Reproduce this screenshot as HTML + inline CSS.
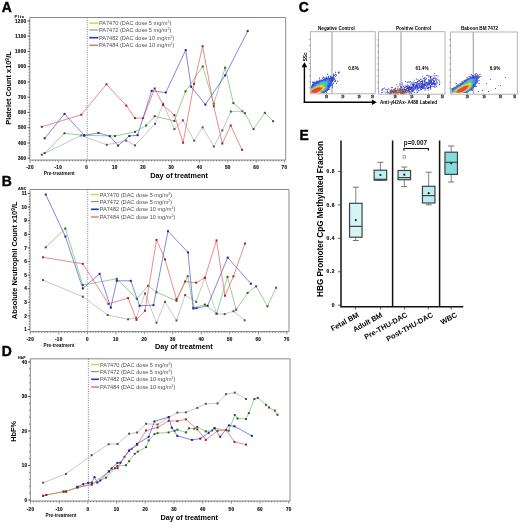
<!DOCTYPE html>
<html><head><meta charset="utf-8"><style>
html,body{margin:0;padding:0;background:#fff;}
body{width:520px;height:523px;overflow:hidden;font-family:"Liberation Sans", sans-serif;}
svg{display:block;will-change:transform;}
</style></head><body>
<svg width="520" height="523" viewBox="0 0 520 523" font-family='"Liberation Sans", sans-serif'>
<rect width="520" height="523" fill="#fff"/>
<text x="1.80" y="12.10" font-size="13.9" font-weight="bold" text-anchor="start" fill="#000" stroke="#000" stroke-width="0.4">A</text>
<path d="M29.8,17.5 H285.7 V160.0" fill="none" stroke="#8a8a8a" stroke-width="1"/>
<line x1="29.8" y1="17.5" x2="29.8" y2="160.0" stroke="#8a8a8a" stroke-width="1"/>
<line x1="29.8" y1="160.0" x2="285.7" y2="160.0" stroke="#8a8a8a" stroke-width="1"/>
<line x1="30.00" y1="160.0" x2="30.00" y2="162.6" stroke="#555" stroke-width="0.7"/>
<line x1="32.83" y1="160.0" x2="32.83" y2="161.3" stroke="#555" stroke-width="0.7"/>
<line x1="35.65" y1="160.0" x2="35.65" y2="161.3" stroke="#555" stroke-width="0.7"/>
<line x1="38.48" y1="160.0" x2="38.48" y2="161.3" stroke="#555" stroke-width="0.7"/>
<line x1="41.31" y1="160.0" x2="41.31" y2="161.3" stroke="#555" stroke-width="0.7"/>
<line x1="44.13" y1="160.0" x2="44.13" y2="161.3" stroke="#555" stroke-width="0.7"/>
<line x1="46.96" y1="160.0" x2="46.96" y2="161.3" stroke="#555" stroke-width="0.7"/>
<line x1="49.79" y1="160.0" x2="49.79" y2="161.3" stroke="#555" stroke-width="0.7"/>
<line x1="52.62" y1="160.0" x2="52.62" y2="161.3" stroke="#555" stroke-width="0.7"/>
<line x1="55.44" y1="160.0" x2="55.44" y2="161.3" stroke="#555" stroke-width="0.7"/>
<line x1="58.27" y1="160.0" x2="58.27" y2="162.6" stroke="#555" stroke-width="0.7"/>
<line x1="61.10" y1="160.0" x2="61.10" y2="161.3" stroke="#555" stroke-width="0.7"/>
<line x1="63.92" y1="160.0" x2="63.92" y2="161.3" stroke="#555" stroke-width="0.7"/>
<line x1="66.75" y1="160.0" x2="66.75" y2="161.3" stroke="#555" stroke-width="0.7"/>
<line x1="69.58" y1="160.0" x2="69.58" y2="161.3" stroke="#555" stroke-width="0.7"/>
<line x1="72.41" y1="160.0" x2="72.41" y2="161.3" stroke="#555" stroke-width="0.7"/>
<line x1="75.23" y1="160.0" x2="75.23" y2="161.3" stroke="#555" stroke-width="0.7"/>
<line x1="78.06" y1="160.0" x2="78.06" y2="161.3" stroke="#555" stroke-width="0.7"/>
<line x1="80.89" y1="160.0" x2="80.89" y2="161.3" stroke="#555" stroke-width="0.7"/>
<line x1="83.71" y1="160.0" x2="83.71" y2="161.3" stroke="#555" stroke-width="0.7"/>
<line x1="86.54" y1="160.0" x2="86.54" y2="162.6" stroke="#555" stroke-width="0.7"/>
<line x1="89.37" y1="160.0" x2="89.37" y2="161.3" stroke="#555" stroke-width="0.7"/>
<line x1="92.19" y1="160.0" x2="92.19" y2="161.3" stroke="#555" stroke-width="0.7"/>
<line x1="95.02" y1="160.0" x2="95.02" y2="161.3" stroke="#555" stroke-width="0.7"/>
<line x1="97.85" y1="160.0" x2="97.85" y2="161.3" stroke="#555" stroke-width="0.7"/>
<line x1="100.67" y1="160.0" x2="100.67" y2="161.3" stroke="#555" stroke-width="0.7"/>
<line x1="103.50" y1="160.0" x2="103.50" y2="161.3" stroke="#555" stroke-width="0.7"/>
<line x1="106.33" y1="160.0" x2="106.33" y2="161.3" stroke="#555" stroke-width="0.7"/>
<line x1="109.16" y1="160.0" x2="109.16" y2="161.3" stroke="#555" stroke-width="0.7"/>
<line x1="111.98" y1="160.0" x2="111.98" y2="161.3" stroke="#555" stroke-width="0.7"/>
<line x1="114.81" y1="160.0" x2="114.81" y2="162.6" stroke="#555" stroke-width="0.7"/>
<line x1="117.64" y1="160.0" x2="117.64" y2="161.3" stroke="#555" stroke-width="0.7"/>
<line x1="120.46" y1="160.0" x2="120.46" y2="161.3" stroke="#555" stroke-width="0.7"/>
<line x1="123.29" y1="160.0" x2="123.29" y2="161.3" stroke="#555" stroke-width="0.7"/>
<line x1="126.12" y1="160.0" x2="126.12" y2="161.3" stroke="#555" stroke-width="0.7"/>
<line x1="128.94" y1="160.0" x2="128.94" y2="161.3" stroke="#555" stroke-width="0.7"/>
<line x1="131.77" y1="160.0" x2="131.77" y2="161.3" stroke="#555" stroke-width="0.7"/>
<line x1="134.60" y1="160.0" x2="134.60" y2="161.3" stroke="#555" stroke-width="0.7"/>
<line x1="137.43" y1="160.0" x2="137.43" y2="161.3" stroke="#555" stroke-width="0.7"/>
<line x1="140.25" y1="160.0" x2="140.25" y2="161.3" stroke="#555" stroke-width="0.7"/>
<line x1="143.08" y1="160.0" x2="143.08" y2="162.6" stroke="#555" stroke-width="0.7"/>
<line x1="145.91" y1="160.0" x2="145.91" y2="161.3" stroke="#555" stroke-width="0.7"/>
<line x1="148.73" y1="160.0" x2="148.73" y2="161.3" stroke="#555" stroke-width="0.7"/>
<line x1="151.56" y1="160.0" x2="151.56" y2="161.3" stroke="#555" stroke-width="0.7"/>
<line x1="154.39" y1="160.0" x2="154.39" y2="161.3" stroke="#555" stroke-width="0.7"/>
<line x1="157.22" y1="160.0" x2="157.22" y2="161.3" stroke="#555" stroke-width="0.7"/>
<line x1="160.04" y1="160.0" x2="160.04" y2="161.3" stroke="#555" stroke-width="0.7"/>
<line x1="162.87" y1="160.0" x2="162.87" y2="161.3" stroke="#555" stroke-width="0.7"/>
<line x1="165.70" y1="160.0" x2="165.70" y2="161.3" stroke="#555" stroke-width="0.7"/>
<line x1="168.52" y1="160.0" x2="168.52" y2="161.3" stroke="#555" stroke-width="0.7"/>
<line x1="171.35" y1="160.0" x2="171.35" y2="162.6" stroke="#555" stroke-width="0.7"/>
<line x1="174.18" y1="160.0" x2="174.18" y2="161.3" stroke="#555" stroke-width="0.7"/>
<line x1="177.00" y1="160.0" x2="177.00" y2="161.3" stroke="#555" stroke-width="0.7"/>
<line x1="179.83" y1="160.0" x2="179.83" y2="161.3" stroke="#555" stroke-width="0.7"/>
<line x1="182.66" y1="160.0" x2="182.66" y2="161.3" stroke="#555" stroke-width="0.7"/>
<line x1="185.48" y1="160.0" x2="185.48" y2="161.3" stroke="#555" stroke-width="0.7"/>
<line x1="188.31" y1="160.0" x2="188.31" y2="161.3" stroke="#555" stroke-width="0.7"/>
<line x1="191.14" y1="160.0" x2="191.14" y2="161.3" stroke="#555" stroke-width="0.7"/>
<line x1="193.97" y1="160.0" x2="193.97" y2="161.3" stroke="#555" stroke-width="0.7"/>
<line x1="196.79" y1="160.0" x2="196.79" y2="161.3" stroke="#555" stroke-width="0.7"/>
<line x1="199.62" y1="160.0" x2="199.62" y2="162.6" stroke="#555" stroke-width="0.7"/>
<line x1="202.45" y1="160.0" x2="202.45" y2="161.3" stroke="#555" stroke-width="0.7"/>
<line x1="205.27" y1="160.0" x2="205.27" y2="161.3" stroke="#555" stroke-width="0.7"/>
<line x1="208.10" y1="160.0" x2="208.10" y2="161.3" stroke="#555" stroke-width="0.7"/>
<line x1="210.93" y1="160.0" x2="210.93" y2="161.3" stroke="#555" stroke-width="0.7"/>
<line x1="213.75" y1="160.0" x2="213.75" y2="161.3" stroke="#555" stroke-width="0.7"/>
<line x1="216.58" y1="160.0" x2="216.58" y2="161.3" stroke="#555" stroke-width="0.7"/>
<line x1="219.41" y1="160.0" x2="219.41" y2="161.3" stroke="#555" stroke-width="0.7"/>
<line x1="222.24" y1="160.0" x2="222.24" y2="161.3" stroke="#555" stroke-width="0.7"/>
<line x1="225.06" y1="160.0" x2="225.06" y2="161.3" stroke="#555" stroke-width="0.7"/>
<line x1="227.89" y1="160.0" x2="227.89" y2="162.6" stroke="#555" stroke-width="0.7"/>
<line x1="230.72" y1="160.0" x2="230.72" y2="161.3" stroke="#555" stroke-width="0.7"/>
<line x1="233.54" y1="160.0" x2="233.54" y2="161.3" stroke="#555" stroke-width="0.7"/>
<line x1="236.37" y1="160.0" x2="236.37" y2="161.3" stroke="#555" stroke-width="0.7"/>
<line x1="239.20" y1="160.0" x2="239.20" y2="161.3" stroke="#555" stroke-width="0.7"/>
<line x1="242.03" y1="160.0" x2="242.03" y2="161.3" stroke="#555" stroke-width="0.7"/>
<line x1="244.85" y1="160.0" x2="244.85" y2="161.3" stroke="#555" stroke-width="0.7"/>
<line x1="247.68" y1="160.0" x2="247.68" y2="161.3" stroke="#555" stroke-width="0.7"/>
<line x1="250.51" y1="160.0" x2="250.51" y2="161.3" stroke="#555" stroke-width="0.7"/>
<line x1="253.33" y1="160.0" x2="253.33" y2="161.3" stroke="#555" stroke-width="0.7"/>
<line x1="256.16" y1="160.0" x2="256.16" y2="162.6" stroke="#555" stroke-width="0.7"/>
<line x1="258.99" y1="160.0" x2="258.99" y2="161.3" stroke="#555" stroke-width="0.7"/>
<line x1="261.81" y1="160.0" x2="261.81" y2="161.3" stroke="#555" stroke-width="0.7"/>
<line x1="264.64" y1="160.0" x2="264.64" y2="161.3" stroke="#555" stroke-width="0.7"/>
<line x1="267.47" y1="160.0" x2="267.47" y2="161.3" stroke="#555" stroke-width="0.7"/>
<line x1="270.29" y1="160.0" x2="270.29" y2="161.3" stroke="#555" stroke-width="0.7"/>
<line x1="273.12" y1="160.0" x2="273.12" y2="161.3" stroke="#555" stroke-width="0.7"/>
<line x1="275.95" y1="160.0" x2="275.95" y2="161.3" stroke="#555" stroke-width="0.7"/>
<line x1="278.78" y1="160.0" x2="278.78" y2="161.3" stroke="#555" stroke-width="0.7"/>
<line x1="281.60" y1="160.0" x2="281.60" y2="161.3" stroke="#555" stroke-width="0.7"/>
<line x1="284.43" y1="160.0" x2="284.43" y2="162.6" stroke="#555" stroke-width="0.7"/>
<line x1="28.5" y1="158.20" x2="29.8" y2="158.20" stroke="#555" stroke-width="0.7"/>
<line x1="28.5" y1="155.15" x2="29.8" y2="155.15" stroke="#555" stroke-width="0.7"/>
<line x1="28.5" y1="152.10" x2="29.8" y2="152.10" stroke="#555" stroke-width="0.7"/>
<line x1="28.5" y1="149.05" x2="29.8" y2="149.05" stroke="#555" stroke-width="0.7"/>
<line x1="28.5" y1="146.00" x2="29.8" y2="146.00" stroke="#555" stroke-width="0.7"/>
<line x1="28.5" y1="142.95" x2="29.8" y2="142.95" stroke="#555" stroke-width="0.7"/>
<line x1="28.5" y1="139.90" x2="29.8" y2="139.90" stroke="#555" stroke-width="0.7"/>
<line x1="28.5" y1="136.85" x2="29.8" y2="136.85" stroke="#555" stroke-width="0.7"/>
<line x1="28.5" y1="133.80" x2="29.8" y2="133.80" stroke="#555" stroke-width="0.7"/>
<line x1="28.5" y1="130.75" x2="29.8" y2="130.75" stroke="#555" stroke-width="0.7"/>
<line x1="28.5" y1="127.70" x2="29.8" y2="127.70" stroke="#555" stroke-width="0.7"/>
<line x1="28.5" y1="124.65" x2="29.8" y2="124.65" stroke="#555" stroke-width="0.7"/>
<line x1="28.5" y1="121.60" x2="29.8" y2="121.60" stroke="#555" stroke-width="0.7"/>
<line x1="28.5" y1="118.55" x2="29.8" y2="118.55" stroke="#555" stroke-width="0.7"/>
<line x1="28.5" y1="115.50" x2="29.8" y2="115.50" stroke="#555" stroke-width="0.7"/>
<line x1="28.5" y1="112.45" x2="29.8" y2="112.45" stroke="#555" stroke-width="0.7"/>
<line x1="28.5" y1="109.40" x2="29.8" y2="109.40" stroke="#555" stroke-width="0.7"/>
<line x1="28.5" y1="106.35" x2="29.8" y2="106.35" stroke="#555" stroke-width="0.7"/>
<line x1="28.5" y1="103.30" x2="29.8" y2="103.30" stroke="#555" stroke-width="0.7"/>
<line x1="28.5" y1="100.25" x2="29.8" y2="100.25" stroke="#555" stroke-width="0.7"/>
<line x1="28.5" y1="97.20" x2="29.8" y2="97.20" stroke="#555" stroke-width="0.7"/>
<line x1="28.5" y1="94.15" x2="29.8" y2="94.15" stroke="#555" stroke-width="0.7"/>
<line x1="28.5" y1="91.10" x2="29.8" y2="91.10" stroke="#555" stroke-width="0.7"/>
<line x1="28.5" y1="88.05" x2="29.8" y2="88.05" stroke="#555" stroke-width="0.7"/>
<line x1="28.5" y1="85.00" x2="29.8" y2="85.00" stroke="#555" stroke-width="0.7"/>
<line x1="28.5" y1="81.95" x2="29.8" y2="81.95" stroke="#555" stroke-width="0.7"/>
<line x1="28.5" y1="78.90" x2="29.8" y2="78.90" stroke="#555" stroke-width="0.7"/>
<line x1="28.5" y1="75.85" x2="29.8" y2="75.85" stroke="#555" stroke-width="0.7"/>
<line x1="28.5" y1="72.80" x2="29.8" y2="72.80" stroke="#555" stroke-width="0.7"/>
<line x1="28.5" y1="69.75" x2="29.8" y2="69.75" stroke="#555" stroke-width="0.7"/>
<line x1="28.5" y1="66.70" x2="29.8" y2="66.70" stroke="#555" stroke-width="0.7"/>
<line x1="28.5" y1="63.65" x2="29.8" y2="63.65" stroke="#555" stroke-width="0.7"/>
<line x1="28.5" y1="60.60" x2="29.8" y2="60.60" stroke="#555" stroke-width="0.7"/>
<line x1="28.5" y1="57.55" x2="29.8" y2="57.55" stroke="#555" stroke-width="0.7"/>
<line x1="28.5" y1="54.50" x2="29.8" y2="54.50" stroke="#555" stroke-width="0.7"/>
<line x1="28.5" y1="51.45" x2="29.8" y2="51.45" stroke="#555" stroke-width="0.7"/>
<line x1="28.5" y1="48.40" x2="29.8" y2="48.40" stroke="#555" stroke-width="0.7"/>
<line x1="28.5" y1="45.35" x2="29.8" y2="45.35" stroke="#555" stroke-width="0.7"/>
<line x1="28.5" y1="42.30" x2="29.8" y2="42.30" stroke="#555" stroke-width="0.7"/>
<line x1="28.5" y1="39.25" x2="29.8" y2="39.25" stroke="#555" stroke-width="0.7"/>
<line x1="28.5" y1="36.20" x2="29.8" y2="36.20" stroke="#555" stroke-width="0.7"/>
<line x1="28.5" y1="33.15" x2="29.8" y2="33.15" stroke="#555" stroke-width="0.7"/>
<line x1="28.5" y1="30.10" x2="29.8" y2="30.10" stroke="#555" stroke-width="0.7"/>
<line x1="28.5" y1="27.05" x2="29.8" y2="27.05" stroke="#555" stroke-width="0.7"/>
<line x1="28.5" y1="24.00" x2="29.8" y2="24.00" stroke="#555" stroke-width="0.7"/>
<line x1="28.5" y1="20.95" x2="29.8" y2="20.95" stroke="#555" stroke-width="0.7"/>
<line x1="27.400000000000002" y1="158.20" x2="29.8" y2="158.20" stroke="#444" stroke-width="0.8"/>
<text x="26.30" y="159.90" font-size="4.6" font-weight="bold" text-anchor="end" fill="#111" letter-spacing="0.25" stroke="#111" stroke-width="0.15">300</text>
<line x1="27.400000000000002" y1="142.95" x2="29.8" y2="142.95" stroke="#444" stroke-width="0.8"/>
<text x="26.30" y="144.65" font-size="4.6" font-weight="bold" text-anchor="end" fill="#111" letter-spacing="0.25" stroke="#111" stroke-width="0.15">400</text>
<line x1="27.400000000000002" y1="127.70" x2="29.8" y2="127.70" stroke="#444" stroke-width="0.8"/>
<text x="26.30" y="129.40" font-size="4.6" font-weight="bold" text-anchor="end" fill="#111" letter-spacing="0.25" stroke="#111" stroke-width="0.15">500</text>
<line x1="27.400000000000002" y1="112.45" x2="29.8" y2="112.45" stroke="#444" stroke-width="0.8"/>
<text x="26.30" y="114.15" font-size="4.6" font-weight="bold" text-anchor="end" fill="#111" letter-spacing="0.25" stroke="#111" stroke-width="0.15">600</text>
<line x1="27.400000000000002" y1="97.20" x2="29.8" y2="97.20" stroke="#444" stroke-width="0.8"/>
<text x="26.30" y="98.90" font-size="4.6" font-weight="bold" text-anchor="end" fill="#111" letter-spacing="0.25" stroke="#111" stroke-width="0.15">700</text>
<line x1="27.400000000000002" y1="81.95" x2="29.8" y2="81.95" stroke="#444" stroke-width="0.8"/>
<text x="26.30" y="83.65" font-size="4.6" font-weight="bold" text-anchor="end" fill="#111" letter-spacing="0.25" stroke="#111" stroke-width="0.15">800</text>
<line x1="27.400000000000002" y1="66.70" x2="29.8" y2="66.70" stroke="#444" stroke-width="0.8"/>
<text x="26.30" y="68.40" font-size="4.6" font-weight="bold" text-anchor="end" fill="#111" letter-spacing="0.25" stroke="#111" stroke-width="0.15">900</text>
<line x1="27.400000000000002" y1="51.45" x2="29.8" y2="51.45" stroke="#444" stroke-width="0.8"/>
<text x="26.30" y="53.15" font-size="4.6" font-weight="bold" text-anchor="end" fill="#111" letter-spacing="0.25" stroke="#111" stroke-width="0.15">1000</text>
<line x1="27.400000000000002" y1="36.20" x2="29.8" y2="36.20" stroke="#444" stroke-width="0.8"/>
<text x="26.30" y="37.90" font-size="4.6" font-weight="bold" text-anchor="end" fill="#111" letter-spacing="0.25" stroke="#111" stroke-width="0.15">1100</text>
<line x1="27.400000000000002" y1="20.95" x2="29.8" y2="20.95" stroke="#444" stroke-width="0.8"/>
<text x="26.30" y="22.65" font-size="4.6" font-weight="bold" text-anchor="end" fill="#111" letter-spacing="0.25" stroke="#111" stroke-width="0.15">1200</text>
<text x="30.00" y="169.20" font-size="4.6" font-weight="bold" text-anchor="middle" fill="#111" letter-spacing="0.25" stroke="#111" stroke-width="0.15">-20</text>
<text x="58.27" y="169.20" font-size="4.6" font-weight="bold" text-anchor="middle" fill="#111" letter-spacing="0.25" stroke="#111" stroke-width="0.15">-10</text>
<text x="86.54" y="169.20" font-size="4.6" font-weight="bold" text-anchor="middle" fill="#111" letter-spacing="0.25" stroke="#111" stroke-width="0.15">0</text>
<text x="114.81" y="169.20" font-size="4.6" font-weight="bold" text-anchor="middle" fill="#111" letter-spacing="0.25" stroke="#111" stroke-width="0.15">10</text>
<text x="143.08" y="169.20" font-size="4.6" font-weight="bold" text-anchor="middle" fill="#111" letter-spacing="0.25" stroke="#111" stroke-width="0.15">20</text>
<text x="171.35" y="169.20" font-size="4.6" font-weight="bold" text-anchor="middle" fill="#111" letter-spacing="0.25" stroke="#111" stroke-width="0.15">30</text>
<text x="199.62" y="169.20" font-size="4.6" font-weight="bold" text-anchor="middle" fill="#111" letter-spacing="0.25" stroke="#111" stroke-width="0.15">40</text>
<text x="227.89" y="169.20" font-size="4.6" font-weight="bold" text-anchor="middle" fill="#111" letter-spacing="0.25" stroke="#111" stroke-width="0.15">50</text>
<text x="256.16" y="169.20" font-size="4.6" font-weight="bold" text-anchor="middle" fill="#111" letter-spacing="0.25" stroke="#111" stroke-width="0.15">60</text>
<text x="284.43" y="169.20" font-size="4.6" font-weight="bold" text-anchor="middle" fill="#111" letter-spacing="0.25" stroke="#111" stroke-width="0.15">70</text>
<line x1="87.3" y1="17.5" x2="87.3" y2="160.0" stroke="#666" stroke-width="0.8" stroke-dasharray="1,1.3"/>
<text x="59.20" y="175.20" font-size="4.75" font-weight="bold" text-anchor="middle" fill="#111" >Pre-treatment</text>
<text x="179.10" y="177.80" font-size="7.3" font-weight="bold" text-anchor="middle" fill="#000" >Day of treatment</text>
<line x1="89.2" y1="23.1" x2="98.3" y2="23.1" stroke="#c8dc48" stroke-width="1.5"/>
<text x="98.90" y="25.10" font-size="5.6" font-weight="normal" text-anchor="start" fill="#505050" >PA7470 (DAC dose 5 mg/m<tspan font-size="3.6" dy="-2">2</tspan><tspan dy="2">)</tspan></text>
<line x1="89.2" y1="30.0" x2="98.3" y2="30.0" stroke="#707070" stroke-width="0.9"/>
<text x="98.90" y="32.00" font-size="5.6" font-weight="normal" text-anchor="start" fill="#505050" >PA7472 (DAC dose 5 mg/m<tspan font-size="3.6" dy="-2">2</tspan><tspan dy="2">)</tspan></text>
<line x1="89.2" y1="37.7" x2="98.3" y2="37.7" stroke="#2a38a8" stroke-width="1.6"/>
<text x="98.90" y="39.70" font-size="5.6" font-weight="normal" text-anchor="start" fill="#505050" >PA7482 (DAC dose 10 mg/m<tspan font-size="3.6" dy="-2">2</tspan><tspan dy="2">)</tspan></text>
<line x1="89.2" y1="45.2" x2="98.3" y2="45.2" stroke="#d84848" stroke-width="1.1"/>
<text x="98.90" y="47.20" font-size="5.6" font-weight="normal" text-anchor="start" fill="#505050" >PA7484 (DAC dose 10 mg/m<tspan font-size="3.6" dy="-2">2</tspan><tspan dy="2">)</tspan></text>
<text transform="translate(11.3,88) rotate(-90)" font-size="7.4" font-weight="bold" text-anchor="middle" fill="#000">Platelet Count x10<tspan font-size="5" dy="-2.6">9</tspan><tspan dy="2.6">/L</tspan></text>
<text x="14.50" y="17.70" font-size="4.0" font-weight="bold" text-anchor="start" fill="#111" letter-spacing="0.7" stroke="#111" stroke-width="0.12">Plts</text>
<polyline points="41.8,154.7 81.3,135.4 106.8,144.8 126.2,140.6 135.0,145.4 155.0,123.8 163.1,103.8 174.4,129.1 182.9,120.3 194.2,140.7 202.6,127.3 213.8,146.5 222.3,130.4 230.8,111.6 242.3,111.2" fill="none" stroke="#b4b4b4" stroke-width="0.75" stroke-linejoin="round"/>
<rect x="40.8" y="153.7" width="2" height="2" fill="#555555"/>
<rect x="80.3" y="134.4" width="2" height="2" fill="#555555"/>
<rect x="105.8" y="143.8" width="2" height="2" fill="#555555"/>
<rect x="125.2" y="139.6" width="2" height="2" fill="#555555"/>
<rect x="134.0" y="144.4" width="2" height="2" fill="#555555"/>
<rect x="154.0" y="122.8" width="2" height="2" fill="#555555"/>
<rect x="162.1" y="102.8" width="2" height="2" fill="#555555"/>
<rect x="173.4" y="128.1" width="2" height="2" fill="#555555"/>
<rect x="181.9" y="119.3" width="2" height="2" fill="#555555"/>
<rect x="193.2" y="139.7" width="2" height="2" fill="#555555"/>
<rect x="201.6" y="126.3" width="2" height="2" fill="#555555"/>
<rect x="212.8" y="145.5" width="2" height="2" fill="#555555"/>
<rect x="221.3" y="129.4" width="2" height="2" fill="#555555"/>
<rect x="229.8" y="110.6" width="2" height="2" fill="#555555"/>
<rect x="241.3" y="110.2" width="2" height="2" fill="#555555"/>
<polyline points="44.7,153.0 64.5,133.3 84.0,135.4 115.0,136.0 135.0,131.9 146.1,125.5 154.7,116.2 174.4,121.0 185.5,91.4 202.7,66.5 213.8,103.8 225.1,67.7 233.4,103.1 244.8,113.1 253.5,129.1 264.8,112.8 273.1,121.2" fill="none" stroke="#78c070" stroke-width="0.75" stroke-linejoin="round"/>
<rect x="43.7" y="152.0" width="2" height="2" fill="#2e5e2a"/>
<rect x="63.5" y="132.3" width="2" height="2" fill="#2e5e2a"/>
<rect x="83.0" y="134.4" width="2" height="2" fill="#2e5e2a"/>
<rect x="114.0" y="135.0" width="2" height="2" fill="#2e5e2a"/>
<rect x="134.0" y="130.9" width="2" height="2" fill="#2e5e2a"/>
<rect x="145.1" y="124.5" width="2" height="2" fill="#2e5e2a"/>
<rect x="153.7" y="115.2" width="2" height="2" fill="#2e5e2a"/>
<rect x="173.4" y="120.0" width="2" height="2" fill="#2e5e2a"/>
<rect x="184.5" y="90.4" width="2" height="2" fill="#2e5e2a"/>
<rect x="201.7" y="65.5" width="2" height="2" fill="#2e5e2a"/>
<rect x="212.8" y="102.8" width="2" height="2" fill="#2e5e2a"/>
<rect x="224.1" y="66.7" width="2" height="2" fill="#2e5e2a"/>
<rect x="232.4" y="102.1" width="2" height="2" fill="#2e5e2a"/>
<rect x="243.8" y="112.1" width="2" height="2" fill="#2e5e2a"/>
<rect x="252.5" y="128.1" width="2" height="2" fill="#2e5e2a"/>
<rect x="263.8" y="111.8" width="2" height="2" fill="#2e5e2a"/>
<rect x="272.1" y="120.2" width="2" height="2" fill="#2e5e2a"/>
<polyline points="41.8,126.8 81.3,114.7 106.5,84.3 126.3,105.6 134.9,118.1 143.1,118.1 154.7,88.5 163.1,105.0 174.4,115.2 183.1,142.7 194.0,83.8 202.6,46.2 213.8,106.3 222.3,143.5 230.7,125.5 242.0,149.8" fill="none" stroke="#ea6464" stroke-width="0.75" stroke-linejoin="round"/>
<rect x="40.8" y="125.8" width="2" height="2" fill="#9a2424"/>
<rect x="80.3" y="113.7" width="2" height="2" fill="#9a2424"/>
<rect x="105.5" y="83.3" width="2" height="2" fill="#9a2424"/>
<rect x="125.3" y="104.6" width="2" height="2" fill="#9a2424"/>
<rect x="133.9" y="117.1" width="2" height="2" fill="#9a2424"/>
<rect x="142.1" y="117.1" width="2" height="2" fill="#9a2424"/>
<rect x="153.7" y="87.5" width="2" height="2" fill="#9a2424"/>
<rect x="162.1" y="104.0" width="2" height="2" fill="#9a2424"/>
<rect x="173.4" y="114.2" width="2" height="2" fill="#9a2424"/>
<rect x="182.1" y="141.7" width="2" height="2" fill="#9a2424"/>
<rect x="193.0" y="82.8" width="2" height="2" fill="#9a2424"/>
<rect x="201.6" y="45.2" width="2" height="2" fill="#9a2424"/>
<rect x="212.8" y="105.3" width="2" height="2" fill="#9a2424"/>
<rect x="221.3" y="142.5" width="2" height="2" fill="#9a2424"/>
<rect x="229.7" y="124.5" width="2" height="2" fill="#9a2424"/>
<rect x="241.0" y="148.8" width="2" height="2" fill="#9a2424"/>
<polyline points="44.7,138.3 64.5,113.9 84.4,135.4 98.5,132.9 109.8,136.2 118.1,145.6 129.4,136.0 137.6,135.2 151.7,90.8 165.8,92.5 185.7,50.1 191.1,86.7 205.4,104.6 225.1,75.4 247.7,31.1" fill="none" stroke="#5c60d0" stroke-width="0.75" stroke-linejoin="round"/>
<rect x="43.7" y="137.3" width="2" height="2" fill="#20228a"/>
<rect x="63.5" y="112.9" width="2" height="2" fill="#20228a"/>
<rect x="83.4" y="134.4" width="2" height="2" fill="#20228a"/>
<rect x="97.5" y="131.9" width="2" height="2" fill="#20228a"/>
<rect x="108.8" y="135.2" width="2" height="2" fill="#20228a"/>
<rect x="117.1" y="144.6" width="2" height="2" fill="#20228a"/>
<rect x="128.4" y="135.0" width="2" height="2" fill="#20228a"/>
<rect x="136.6" y="134.2" width="2" height="2" fill="#20228a"/>
<rect x="150.7" y="89.8" width="2" height="2" fill="#20228a"/>
<rect x="164.8" y="91.5" width="2" height="2" fill="#20228a"/>
<rect x="184.7" y="49.1" width="2" height="2" fill="#20228a"/>
<rect x="190.1" y="85.7" width="2" height="2" fill="#20228a"/>
<rect x="204.4" y="103.6" width="2" height="2" fill="#20228a"/>
<rect x="224.1" y="74.4" width="2" height="2" fill="#20228a"/>
<rect x="246.7" y="30.1" width="2" height="2" fill="#20228a"/>
<text x="1.80" y="185.90" font-size="13.9" font-weight="bold" text-anchor="start" fill="#000" stroke="#000" stroke-width="0.4">B</text>
<path d="M30.0,189.5 H289.0 V331.6" fill="none" stroke="#8a8a8a" stroke-width="1"/>
<line x1="30.0" y1="189.5" x2="30.0" y2="331.6" stroke="#8a8a8a" stroke-width="1"/>
<line x1="30.0" y1="331.6" x2="289.0" y2="331.6" stroke="#8a8a8a" stroke-width="1"/>
<line x1="30.30" y1="331.6" x2="30.30" y2="334.20000000000005" stroke="#555" stroke-width="0.7"/>
<line x1="33.15" y1="331.6" x2="33.15" y2="332.90000000000003" stroke="#555" stroke-width="0.7"/>
<line x1="36.00" y1="331.6" x2="36.00" y2="332.90000000000003" stroke="#555" stroke-width="0.7"/>
<line x1="38.85" y1="331.6" x2="38.85" y2="332.90000000000003" stroke="#555" stroke-width="0.7"/>
<line x1="41.70" y1="331.6" x2="41.70" y2="332.90000000000003" stroke="#555" stroke-width="0.7"/>
<line x1="44.55" y1="331.6" x2="44.55" y2="332.90000000000003" stroke="#555" stroke-width="0.7"/>
<line x1="47.40" y1="331.6" x2="47.40" y2="332.90000000000003" stroke="#555" stroke-width="0.7"/>
<line x1="50.25" y1="331.6" x2="50.25" y2="332.90000000000003" stroke="#555" stroke-width="0.7"/>
<line x1="53.10" y1="331.6" x2="53.10" y2="332.90000000000003" stroke="#555" stroke-width="0.7"/>
<line x1="55.95" y1="331.6" x2="55.95" y2="332.90000000000003" stroke="#555" stroke-width="0.7"/>
<line x1="58.80" y1="331.6" x2="58.80" y2="334.20000000000005" stroke="#555" stroke-width="0.7"/>
<line x1="61.65" y1="331.6" x2="61.65" y2="332.90000000000003" stroke="#555" stroke-width="0.7"/>
<line x1="64.50" y1="331.6" x2="64.50" y2="332.90000000000003" stroke="#555" stroke-width="0.7"/>
<line x1="67.35" y1="331.6" x2="67.35" y2="332.90000000000003" stroke="#555" stroke-width="0.7"/>
<line x1="70.20" y1="331.6" x2="70.20" y2="332.90000000000003" stroke="#555" stroke-width="0.7"/>
<line x1="73.05" y1="331.6" x2="73.05" y2="332.90000000000003" stroke="#555" stroke-width="0.7"/>
<line x1="75.90" y1="331.6" x2="75.90" y2="332.90000000000003" stroke="#555" stroke-width="0.7"/>
<line x1="78.75" y1="331.6" x2="78.75" y2="332.90000000000003" stroke="#555" stroke-width="0.7"/>
<line x1="81.60" y1="331.6" x2="81.60" y2="332.90000000000003" stroke="#555" stroke-width="0.7"/>
<line x1="84.45" y1="331.6" x2="84.45" y2="332.90000000000003" stroke="#555" stroke-width="0.7"/>
<line x1="87.30" y1="331.6" x2="87.30" y2="334.20000000000005" stroke="#555" stroke-width="0.7"/>
<line x1="90.15" y1="331.6" x2="90.15" y2="332.90000000000003" stroke="#555" stroke-width="0.7"/>
<line x1="93.00" y1="331.6" x2="93.00" y2="332.90000000000003" stroke="#555" stroke-width="0.7"/>
<line x1="95.85" y1="331.6" x2="95.85" y2="332.90000000000003" stroke="#555" stroke-width="0.7"/>
<line x1="98.70" y1="331.6" x2="98.70" y2="332.90000000000003" stroke="#555" stroke-width="0.7"/>
<line x1="101.55" y1="331.6" x2="101.55" y2="332.90000000000003" stroke="#555" stroke-width="0.7"/>
<line x1="104.40" y1="331.6" x2="104.40" y2="332.90000000000003" stroke="#555" stroke-width="0.7"/>
<line x1="107.25" y1="331.6" x2="107.25" y2="332.90000000000003" stroke="#555" stroke-width="0.7"/>
<line x1="110.10" y1="331.6" x2="110.10" y2="332.90000000000003" stroke="#555" stroke-width="0.7"/>
<line x1="112.95" y1="331.6" x2="112.95" y2="332.90000000000003" stroke="#555" stroke-width="0.7"/>
<line x1="115.80" y1="331.6" x2="115.80" y2="334.20000000000005" stroke="#555" stroke-width="0.7"/>
<line x1="118.65" y1="331.6" x2="118.65" y2="332.90000000000003" stroke="#555" stroke-width="0.7"/>
<line x1="121.50" y1="331.6" x2="121.50" y2="332.90000000000003" stroke="#555" stroke-width="0.7"/>
<line x1="124.35" y1="331.6" x2="124.35" y2="332.90000000000003" stroke="#555" stroke-width="0.7"/>
<line x1="127.20" y1="331.6" x2="127.20" y2="332.90000000000003" stroke="#555" stroke-width="0.7"/>
<line x1="130.05" y1="331.6" x2="130.05" y2="332.90000000000003" stroke="#555" stroke-width="0.7"/>
<line x1="132.90" y1="331.6" x2="132.90" y2="332.90000000000003" stroke="#555" stroke-width="0.7"/>
<line x1="135.75" y1="331.6" x2="135.75" y2="332.90000000000003" stroke="#555" stroke-width="0.7"/>
<line x1="138.60" y1="331.6" x2="138.60" y2="332.90000000000003" stroke="#555" stroke-width="0.7"/>
<line x1="141.45" y1="331.6" x2="141.45" y2="332.90000000000003" stroke="#555" stroke-width="0.7"/>
<line x1="144.30" y1="331.6" x2="144.30" y2="334.20000000000005" stroke="#555" stroke-width="0.7"/>
<line x1="147.15" y1="331.6" x2="147.15" y2="332.90000000000003" stroke="#555" stroke-width="0.7"/>
<line x1="150.00" y1="331.6" x2="150.00" y2="332.90000000000003" stroke="#555" stroke-width="0.7"/>
<line x1="152.85" y1="331.6" x2="152.85" y2="332.90000000000003" stroke="#555" stroke-width="0.7"/>
<line x1="155.70" y1="331.6" x2="155.70" y2="332.90000000000003" stroke="#555" stroke-width="0.7"/>
<line x1="158.55" y1="331.6" x2="158.55" y2="332.90000000000003" stroke="#555" stroke-width="0.7"/>
<line x1="161.40" y1="331.6" x2="161.40" y2="332.90000000000003" stroke="#555" stroke-width="0.7"/>
<line x1="164.25" y1="331.6" x2="164.25" y2="332.90000000000003" stroke="#555" stroke-width="0.7"/>
<line x1="167.10" y1="331.6" x2="167.10" y2="332.90000000000003" stroke="#555" stroke-width="0.7"/>
<line x1="169.95" y1="331.6" x2="169.95" y2="332.90000000000003" stroke="#555" stroke-width="0.7"/>
<line x1="172.80" y1="331.6" x2="172.80" y2="334.20000000000005" stroke="#555" stroke-width="0.7"/>
<line x1="175.65" y1="331.6" x2="175.65" y2="332.90000000000003" stroke="#555" stroke-width="0.7"/>
<line x1="178.50" y1="331.6" x2="178.50" y2="332.90000000000003" stroke="#555" stroke-width="0.7"/>
<line x1="181.35" y1="331.6" x2="181.35" y2="332.90000000000003" stroke="#555" stroke-width="0.7"/>
<line x1="184.20" y1="331.6" x2="184.20" y2="332.90000000000003" stroke="#555" stroke-width="0.7"/>
<line x1="187.05" y1="331.6" x2="187.05" y2="332.90000000000003" stroke="#555" stroke-width="0.7"/>
<line x1="189.90" y1="331.6" x2="189.90" y2="332.90000000000003" stroke="#555" stroke-width="0.7"/>
<line x1="192.75" y1="331.6" x2="192.75" y2="332.90000000000003" stroke="#555" stroke-width="0.7"/>
<line x1="195.60" y1="331.6" x2="195.60" y2="332.90000000000003" stroke="#555" stroke-width="0.7"/>
<line x1="198.45" y1="331.6" x2="198.45" y2="332.90000000000003" stroke="#555" stroke-width="0.7"/>
<line x1="201.30" y1="331.6" x2="201.30" y2="334.20000000000005" stroke="#555" stroke-width="0.7"/>
<line x1="204.15" y1="331.6" x2="204.15" y2="332.90000000000003" stroke="#555" stroke-width="0.7"/>
<line x1="207.00" y1="331.6" x2="207.00" y2="332.90000000000003" stroke="#555" stroke-width="0.7"/>
<line x1="209.85" y1="331.6" x2="209.85" y2="332.90000000000003" stroke="#555" stroke-width="0.7"/>
<line x1="212.70" y1="331.6" x2="212.70" y2="332.90000000000003" stroke="#555" stroke-width="0.7"/>
<line x1="215.55" y1="331.6" x2="215.55" y2="332.90000000000003" stroke="#555" stroke-width="0.7"/>
<line x1="218.40" y1="331.6" x2="218.40" y2="332.90000000000003" stroke="#555" stroke-width="0.7"/>
<line x1="221.25" y1="331.6" x2="221.25" y2="332.90000000000003" stroke="#555" stroke-width="0.7"/>
<line x1="224.10" y1="331.6" x2="224.10" y2="332.90000000000003" stroke="#555" stroke-width="0.7"/>
<line x1="226.95" y1="331.6" x2="226.95" y2="332.90000000000003" stroke="#555" stroke-width="0.7"/>
<line x1="229.80" y1="331.6" x2="229.80" y2="334.20000000000005" stroke="#555" stroke-width="0.7"/>
<line x1="232.65" y1="331.6" x2="232.65" y2="332.90000000000003" stroke="#555" stroke-width="0.7"/>
<line x1="235.50" y1="331.6" x2="235.50" y2="332.90000000000003" stroke="#555" stroke-width="0.7"/>
<line x1="238.35" y1="331.6" x2="238.35" y2="332.90000000000003" stroke="#555" stroke-width="0.7"/>
<line x1="241.20" y1="331.6" x2="241.20" y2="332.90000000000003" stroke="#555" stroke-width="0.7"/>
<line x1="244.05" y1="331.6" x2="244.05" y2="332.90000000000003" stroke="#555" stroke-width="0.7"/>
<line x1="246.90" y1="331.6" x2="246.90" y2="332.90000000000003" stroke="#555" stroke-width="0.7"/>
<line x1="249.75" y1="331.6" x2="249.75" y2="332.90000000000003" stroke="#555" stroke-width="0.7"/>
<line x1="252.60" y1="331.6" x2="252.60" y2="332.90000000000003" stroke="#555" stroke-width="0.7"/>
<line x1="255.45" y1="331.6" x2="255.45" y2="332.90000000000003" stroke="#555" stroke-width="0.7"/>
<line x1="258.30" y1="331.6" x2="258.30" y2="334.20000000000005" stroke="#555" stroke-width="0.7"/>
<line x1="261.15" y1="331.6" x2="261.15" y2="332.90000000000003" stroke="#555" stroke-width="0.7"/>
<line x1="264.00" y1="331.6" x2="264.00" y2="332.90000000000003" stroke="#555" stroke-width="0.7"/>
<line x1="266.85" y1="331.6" x2="266.85" y2="332.90000000000003" stroke="#555" stroke-width="0.7"/>
<line x1="269.70" y1="331.6" x2="269.70" y2="332.90000000000003" stroke="#555" stroke-width="0.7"/>
<line x1="272.55" y1="331.6" x2="272.55" y2="332.90000000000003" stroke="#555" stroke-width="0.7"/>
<line x1="275.40" y1="331.6" x2="275.40" y2="332.90000000000003" stroke="#555" stroke-width="0.7"/>
<line x1="278.25" y1="331.6" x2="278.25" y2="332.90000000000003" stroke="#555" stroke-width="0.7"/>
<line x1="281.10" y1="331.6" x2="281.10" y2="332.90000000000003" stroke="#555" stroke-width="0.7"/>
<line x1="283.95" y1="331.6" x2="283.95" y2="332.90000000000003" stroke="#555" stroke-width="0.7"/>
<line x1="286.80" y1="331.6" x2="286.80" y2="334.20000000000005" stroke="#555" stroke-width="0.7"/>
<line x1="28.7" y1="329.50" x2="30.0" y2="329.50" stroke="#555" stroke-width="0.7"/>
<line x1="28.7" y1="326.78" x2="30.0" y2="326.78" stroke="#555" stroke-width="0.7"/>
<line x1="28.7" y1="324.06" x2="30.0" y2="324.06" stroke="#555" stroke-width="0.7"/>
<line x1="28.7" y1="321.34" x2="30.0" y2="321.34" stroke="#555" stroke-width="0.7"/>
<line x1="28.7" y1="318.62" x2="30.0" y2="318.62" stroke="#555" stroke-width="0.7"/>
<line x1="28.7" y1="315.90" x2="30.0" y2="315.90" stroke="#555" stroke-width="0.7"/>
<line x1="28.7" y1="313.18" x2="30.0" y2="313.18" stroke="#555" stroke-width="0.7"/>
<line x1="28.7" y1="310.46" x2="30.0" y2="310.46" stroke="#555" stroke-width="0.7"/>
<line x1="28.7" y1="307.74" x2="30.0" y2="307.74" stroke="#555" stroke-width="0.7"/>
<line x1="28.7" y1="305.02" x2="30.0" y2="305.02" stroke="#555" stroke-width="0.7"/>
<line x1="28.7" y1="302.30" x2="30.0" y2="302.30" stroke="#555" stroke-width="0.7"/>
<line x1="28.7" y1="299.58" x2="30.0" y2="299.58" stroke="#555" stroke-width="0.7"/>
<line x1="28.7" y1="296.86" x2="30.0" y2="296.86" stroke="#555" stroke-width="0.7"/>
<line x1="28.7" y1="294.14" x2="30.0" y2="294.14" stroke="#555" stroke-width="0.7"/>
<line x1="28.7" y1="291.42" x2="30.0" y2="291.42" stroke="#555" stroke-width="0.7"/>
<line x1="28.7" y1="288.70" x2="30.0" y2="288.70" stroke="#555" stroke-width="0.7"/>
<line x1="28.7" y1="285.98" x2="30.0" y2="285.98" stroke="#555" stroke-width="0.7"/>
<line x1="28.7" y1="283.26" x2="30.0" y2="283.26" stroke="#555" stroke-width="0.7"/>
<line x1="28.7" y1="280.54" x2="30.0" y2="280.54" stroke="#555" stroke-width="0.7"/>
<line x1="28.7" y1="277.82" x2="30.0" y2="277.82" stroke="#555" stroke-width="0.7"/>
<line x1="28.7" y1="275.10" x2="30.0" y2="275.10" stroke="#555" stroke-width="0.7"/>
<line x1="28.7" y1="272.38" x2="30.0" y2="272.38" stroke="#555" stroke-width="0.7"/>
<line x1="28.7" y1="269.66" x2="30.0" y2="269.66" stroke="#555" stroke-width="0.7"/>
<line x1="28.7" y1="266.94" x2="30.0" y2="266.94" stroke="#555" stroke-width="0.7"/>
<line x1="28.7" y1="264.22" x2="30.0" y2="264.22" stroke="#555" stroke-width="0.7"/>
<line x1="28.7" y1="261.50" x2="30.0" y2="261.50" stroke="#555" stroke-width="0.7"/>
<line x1="28.7" y1="258.78" x2="30.0" y2="258.78" stroke="#555" stroke-width="0.7"/>
<line x1="28.7" y1="256.06" x2="30.0" y2="256.06" stroke="#555" stroke-width="0.7"/>
<line x1="28.7" y1="253.34" x2="30.0" y2="253.34" stroke="#555" stroke-width="0.7"/>
<line x1="28.7" y1="250.62" x2="30.0" y2="250.62" stroke="#555" stroke-width="0.7"/>
<line x1="28.7" y1="247.90" x2="30.0" y2="247.90" stroke="#555" stroke-width="0.7"/>
<line x1="28.7" y1="245.18" x2="30.0" y2="245.18" stroke="#555" stroke-width="0.7"/>
<line x1="28.7" y1="242.46" x2="30.0" y2="242.46" stroke="#555" stroke-width="0.7"/>
<line x1="28.7" y1="239.74" x2="30.0" y2="239.74" stroke="#555" stroke-width="0.7"/>
<line x1="28.7" y1="237.02" x2="30.0" y2="237.02" stroke="#555" stroke-width="0.7"/>
<line x1="28.7" y1="234.30" x2="30.0" y2="234.30" stroke="#555" stroke-width="0.7"/>
<line x1="28.7" y1="231.58" x2="30.0" y2="231.58" stroke="#555" stroke-width="0.7"/>
<line x1="28.7" y1="228.86" x2="30.0" y2="228.86" stroke="#555" stroke-width="0.7"/>
<line x1="28.7" y1="226.14" x2="30.0" y2="226.14" stroke="#555" stroke-width="0.7"/>
<line x1="28.7" y1="223.42" x2="30.0" y2="223.42" stroke="#555" stroke-width="0.7"/>
<line x1="28.7" y1="220.70" x2="30.0" y2="220.70" stroke="#555" stroke-width="0.7"/>
<line x1="28.7" y1="217.98" x2="30.0" y2="217.98" stroke="#555" stroke-width="0.7"/>
<line x1="28.7" y1="215.26" x2="30.0" y2="215.26" stroke="#555" stroke-width="0.7"/>
<line x1="28.7" y1="212.54" x2="30.0" y2="212.54" stroke="#555" stroke-width="0.7"/>
<line x1="28.7" y1="209.82" x2="30.0" y2="209.82" stroke="#555" stroke-width="0.7"/>
<line x1="28.7" y1="207.10" x2="30.0" y2="207.10" stroke="#555" stroke-width="0.7"/>
<line x1="28.7" y1="204.38" x2="30.0" y2="204.38" stroke="#555" stroke-width="0.7"/>
<line x1="28.7" y1="201.66" x2="30.0" y2="201.66" stroke="#555" stroke-width="0.7"/>
<line x1="28.7" y1="198.94" x2="30.0" y2="198.94" stroke="#555" stroke-width="0.7"/>
<line x1="28.7" y1="196.22" x2="30.0" y2="196.22" stroke="#555" stroke-width="0.7"/>
<line x1="28.7" y1="193.50" x2="30.0" y2="193.50" stroke="#555" stroke-width="0.7"/>
<line x1="27.6" y1="329.50" x2="30.0" y2="329.50" stroke="#444" stroke-width="0.8"/>
<text x="27.00" y="331.20" font-size="4.6" font-weight="bold" text-anchor="end" fill="#111" letter-spacing="0.25" stroke="#111" stroke-width="0.15">1</text>
<line x1="27.6" y1="315.90" x2="30.0" y2="315.90" stroke="#444" stroke-width="0.8"/>
<text x="27.00" y="317.60" font-size="4.6" font-weight="bold" text-anchor="end" fill="#111" letter-spacing="0.25" stroke="#111" stroke-width="0.15">2</text>
<line x1="27.6" y1="302.30" x2="30.0" y2="302.30" stroke="#444" stroke-width="0.8"/>
<text x="27.00" y="304.00" font-size="4.6" font-weight="bold" text-anchor="end" fill="#111" letter-spacing="0.25" stroke="#111" stroke-width="0.15">3</text>
<line x1="27.6" y1="288.70" x2="30.0" y2="288.70" stroke="#444" stroke-width="0.8"/>
<text x="27.00" y="290.40" font-size="4.6" font-weight="bold" text-anchor="end" fill="#111" letter-spacing="0.25" stroke="#111" stroke-width="0.15">4</text>
<line x1="27.6" y1="275.10" x2="30.0" y2="275.10" stroke="#444" stroke-width="0.8"/>
<text x="27.00" y="276.80" font-size="4.6" font-weight="bold" text-anchor="end" fill="#111" letter-spacing="0.25" stroke="#111" stroke-width="0.15">5</text>
<line x1="27.6" y1="261.50" x2="30.0" y2="261.50" stroke="#444" stroke-width="0.8"/>
<text x="27.00" y="263.20" font-size="4.6" font-weight="bold" text-anchor="end" fill="#111" letter-spacing="0.25" stroke="#111" stroke-width="0.15">6</text>
<line x1="27.6" y1="247.90" x2="30.0" y2="247.90" stroke="#444" stroke-width="0.8"/>
<text x="27.00" y="249.60" font-size="4.6" font-weight="bold" text-anchor="end" fill="#111" letter-spacing="0.25" stroke="#111" stroke-width="0.15">7</text>
<line x1="27.6" y1="234.30" x2="30.0" y2="234.30" stroke="#444" stroke-width="0.8"/>
<text x="27.00" y="236.00" font-size="4.6" font-weight="bold" text-anchor="end" fill="#111" letter-spacing="0.25" stroke="#111" stroke-width="0.15">8</text>
<line x1="27.6" y1="220.70" x2="30.0" y2="220.70" stroke="#444" stroke-width="0.8"/>
<text x="27.00" y="222.40" font-size="4.6" font-weight="bold" text-anchor="end" fill="#111" letter-spacing="0.25" stroke="#111" stroke-width="0.15">9</text>
<line x1="27.6" y1="207.10" x2="30.0" y2="207.10" stroke="#444" stroke-width="0.8"/>
<text x="27.00" y="208.80" font-size="4.6" font-weight="bold" text-anchor="end" fill="#111" letter-spacing="0.25" stroke="#111" stroke-width="0.15">10</text>
<line x1="27.6" y1="193.50" x2="30.0" y2="193.50" stroke="#444" stroke-width="0.8"/>
<text x="27.00" y="195.20" font-size="4.6" font-weight="bold" text-anchor="end" fill="#111" letter-spacing="0.25" stroke="#111" stroke-width="0.15">11</text>
<text x="30.30" y="341.00" font-size="4.6" font-weight="bold" text-anchor="middle" fill="#111" letter-spacing="0.25" stroke="#111" stroke-width="0.15">-20</text>
<text x="58.80" y="341.00" font-size="4.6" font-weight="bold" text-anchor="middle" fill="#111" letter-spacing="0.25" stroke="#111" stroke-width="0.15">-10</text>
<text x="87.30" y="341.00" font-size="4.6" font-weight="bold" text-anchor="middle" fill="#111" letter-spacing="0.25" stroke="#111" stroke-width="0.15">0</text>
<text x="115.80" y="341.00" font-size="4.6" font-weight="bold" text-anchor="middle" fill="#111" letter-spacing="0.25" stroke="#111" stroke-width="0.15">10</text>
<text x="144.30" y="341.00" font-size="4.6" font-weight="bold" text-anchor="middle" fill="#111" letter-spacing="0.25" stroke="#111" stroke-width="0.15">20</text>
<text x="172.80" y="341.00" font-size="4.6" font-weight="bold" text-anchor="middle" fill="#111" letter-spacing="0.25" stroke="#111" stroke-width="0.15">30</text>
<text x="201.30" y="341.00" font-size="4.6" font-weight="bold" text-anchor="middle" fill="#111" letter-spacing="0.25" stroke="#111" stroke-width="0.15">40</text>
<text x="229.80" y="341.00" font-size="4.6" font-weight="bold" text-anchor="middle" fill="#111" letter-spacing="0.25" stroke="#111" stroke-width="0.15">50</text>
<text x="258.30" y="341.00" font-size="4.6" font-weight="bold" text-anchor="middle" fill="#111" letter-spacing="0.25" stroke="#111" stroke-width="0.15">60</text>
<text x="286.80" y="341.00" font-size="4.6" font-weight="bold" text-anchor="middle" fill="#111" letter-spacing="0.25" stroke="#111" stroke-width="0.15">70</text>
<line x1="87.7" y1="189.5" x2="87.7" y2="331.6" stroke="#666" stroke-width="0.8" stroke-dasharray="1,1.3"/>
<text x="59.00" y="346.60" font-size="4.75" font-weight="bold" text-anchor="middle" fill="#111" >Pre-treatment</text>
<text x="183.80" y="348.60" font-size="7.3" font-weight="bold" text-anchor="middle" fill="#000" >Day of treatment</text>
<line x1="91.0" y1="194.5" x2="98.8" y2="194.5" stroke="#c8dc48" stroke-width="1.5"/>
<text x="99.70" y="196.50" font-size="5.6" font-weight="normal" text-anchor="start" fill="#505050" >PA7470 (DAC dose 5 mg/m<tspan font-size="3.6" dy="-2">2</tspan><tspan dy="2">)</tspan></text>
<line x1="91.0" y1="201.6" x2="98.8" y2="201.6" stroke="#707070" stroke-width="0.9"/>
<text x="99.70" y="203.60" font-size="5.6" font-weight="normal" text-anchor="start" fill="#505050" >PA7472 (DAC dose 5 mg/m<tspan font-size="3.6" dy="-2">2</tspan><tspan dy="2">)</tspan></text>
<line x1="91.0" y1="209.3" x2="98.8" y2="209.3" stroke="#2a38a8" stroke-width="1.6"/>
<text x="99.70" y="211.30" font-size="5.6" font-weight="normal" text-anchor="start" fill="#505050" >PA7482 (DAC dose 10 mg/m<tspan font-size="3.6" dy="-2">2</tspan><tspan dy="2">)</tspan></text>
<line x1="91.0" y1="217.0" x2="98.8" y2="217.0" stroke="#d84848" stroke-width="1.1"/>
<text x="99.70" y="219.00" font-size="5.6" font-weight="normal" text-anchor="start" fill="#505050" >PA7484 (DAC dose 10 mg/m<tspan font-size="3.6" dy="-2">2</tspan><tspan dy="2">)</tspan></text>
<text transform="translate(17.2,260.3) rotate(-90)" font-size="7.4" font-weight="bold" text-anchor="middle" fill="#000">Absolute Neutrophil Count x10<tspan font-size="5" dy="-2.6">9</tspan><tspan dy="2.6">/L</tspan></text>
<text x="18.00" y="189.90" font-size="3.7" font-weight="bold" text-anchor="start" fill="#111" letter-spacing="0.2" stroke="#111" stroke-width="0.12">ANC</text>
<polyline points="43.0,280.1 82.8,296.7 107.7,315.0 128.1,319.3 136.2,317.8 145.0,293.5 156.5,322.7 165.0,301.9 176.5,320.5 185.1,295.1 196.2,301.8 204.8,277.8 216.6,313.7 224.7,314.1 233.5,311.2 244.7,320.3" fill="none" stroke="#b4b4b4" stroke-width="0.75" stroke-linejoin="round"/>
<rect x="42.0" y="279.1" width="2" height="2" fill="#555555"/>
<rect x="81.8" y="295.7" width="2" height="2" fill="#555555"/>
<rect x="106.7" y="314.0" width="2" height="2" fill="#555555"/>
<rect x="127.1" y="318.3" width="2" height="2" fill="#555555"/>
<rect x="135.2" y="316.8" width="2" height="2" fill="#555555"/>
<rect x="144.0" y="292.5" width="2" height="2" fill="#555555"/>
<rect x="155.5" y="321.7" width="2" height="2" fill="#555555"/>
<rect x="164.0" y="300.9" width="2" height="2" fill="#555555"/>
<rect x="175.5" y="319.5" width="2" height="2" fill="#555555"/>
<rect x="184.1" y="294.1" width="2" height="2" fill="#555555"/>
<rect x="195.2" y="300.8" width="2" height="2" fill="#555555"/>
<rect x="203.8" y="276.8" width="2" height="2" fill="#555555"/>
<rect x="215.6" y="312.7" width="2" height="2" fill="#555555"/>
<rect x="223.7" y="313.1" width="2" height="2" fill="#555555"/>
<rect x="232.5" y="310.2" width="2" height="2" fill="#555555"/>
<rect x="243.7" y="319.3" width="2" height="2" fill="#555555"/>
<polyline points="45.7,247.3 65.4,228.5 82.8,285.0 116.8,278.8 136.8,298.8 148.1,285.8 156.5,292.2 176.5,300.8 187.7,276.2 193.4,307.7 204.9,304.6 216.6,313.7 227.5,276.8 236.1,309.7 247.6,292.9 256.1,286.3 267.5,306.3 276.1,287.7" fill="none" stroke="#78c070" stroke-width="0.75" stroke-linejoin="round"/>
<rect x="44.7" y="246.3" width="2" height="2" fill="#2e5e2a"/>
<rect x="64.4" y="227.5" width="2" height="2" fill="#2e5e2a"/>
<rect x="81.8" y="284.0" width="2" height="2" fill="#2e5e2a"/>
<rect x="115.8" y="277.8" width="2" height="2" fill="#2e5e2a"/>
<rect x="135.8" y="297.8" width="2" height="2" fill="#2e5e2a"/>
<rect x="147.1" y="284.8" width="2" height="2" fill="#2e5e2a"/>
<rect x="155.5" y="291.2" width="2" height="2" fill="#2e5e2a"/>
<rect x="175.5" y="299.8" width="2" height="2" fill="#2e5e2a"/>
<rect x="186.7" y="275.2" width="2" height="2" fill="#2e5e2a"/>
<rect x="192.4" y="306.7" width="2" height="2" fill="#2e5e2a"/>
<rect x="203.9" y="303.6" width="2" height="2" fill="#2e5e2a"/>
<rect x="215.6" y="312.7" width="2" height="2" fill="#2e5e2a"/>
<rect x="226.5" y="275.8" width="2" height="2" fill="#2e5e2a"/>
<rect x="235.1" y="308.7" width="2" height="2" fill="#2e5e2a"/>
<rect x="246.6" y="291.9" width="2" height="2" fill="#2e5e2a"/>
<rect x="255.1" y="285.3" width="2" height="2" fill="#2e5e2a"/>
<rect x="266.5" y="305.3" width="2" height="2" fill="#2e5e2a"/>
<rect x="275.1" y="286.7" width="2" height="2" fill="#2e5e2a"/>
<polyline points="43.0,257.3 82.8,263.8 108.5,303.9 128.1,298.1 136.5,319.9 145.0,310.7 156.5,239.9 165.0,259.4 176.5,299.2 185.1,281.5 196.2,282.7 204.9,277.8 216.5,240.4 225.0,295.7 233.4,276.4 245.0,243.6" fill="none" stroke="#ea6464" stroke-width="0.75" stroke-linejoin="round"/>
<rect x="42.0" y="256.3" width="2" height="2" fill="#9a2424"/>
<rect x="81.8" y="262.8" width="2" height="2" fill="#9a2424"/>
<rect x="107.5" y="302.9" width="2" height="2" fill="#9a2424"/>
<rect x="127.1" y="297.1" width="2" height="2" fill="#9a2424"/>
<rect x="135.5" y="318.9" width="2" height="2" fill="#9a2424"/>
<rect x="144.0" y="309.7" width="2" height="2" fill="#9a2424"/>
<rect x="155.5" y="238.9" width="2" height="2" fill="#9a2424"/>
<rect x="164.0" y="258.4" width="2" height="2" fill="#9a2424"/>
<rect x="175.5" y="298.2" width="2" height="2" fill="#9a2424"/>
<rect x="184.1" y="280.5" width="2" height="2" fill="#9a2424"/>
<rect x="195.2" y="281.7" width="2" height="2" fill="#9a2424"/>
<rect x="203.9" y="276.8" width="2" height="2" fill="#9a2424"/>
<rect x="215.5" y="239.4" width="2" height="2" fill="#9a2424"/>
<rect x="224.0" y="294.7" width="2" height="2" fill="#9a2424"/>
<rect x="232.4" y="275.4" width="2" height="2" fill="#9a2424"/>
<rect x="244.0" y="242.6" width="2" height="2" fill="#9a2424"/>
<polyline points="45.7,194.5 65.4,236.5 82.8,288.5 99.6,273.8 110.8,307.6 116.8,280.8 130.8,280.8 139.6,305.8 153.5,305.2 168.0,231.2 188.0,252.4 193.4,308.5 196.5,308.2 207.6,305.8 227.7,257.6 250.9,283.7" fill="none" stroke="#5c60d0" stroke-width="0.75" stroke-linejoin="round"/>
<rect x="44.7" y="193.5" width="2" height="2" fill="#20228a"/>
<rect x="64.4" y="235.5" width="2" height="2" fill="#20228a"/>
<rect x="81.8" y="287.5" width="2" height="2" fill="#20228a"/>
<rect x="98.6" y="272.8" width="2" height="2" fill="#20228a"/>
<rect x="109.8" y="306.6" width="2" height="2" fill="#20228a"/>
<rect x="115.8" y="279.8" width="2" height="2" fill="#20228a"/>
<rect x="129.8" y="279.8" width="2" height="2" fill="#20228a"/>
<rect x="138.6" y="304.8" width="2" height="2" fill="#20228a"/>
<rect x="152.5" y="304.2" width="2" height="2" fill="#20228a"/>
<rect x="167.0" y="230.2" width="2" height="2" fill="#20228a"/>
<rect x="187.0" y="251.4" width="2" height="2" fill="#20228a"/>
<rect x="192.4" y="307.5" width="2" height="2" fill="#20228a"/>
<rect x="195.5" y="307.2" width="2" height="2" fill="#20228a"/>
<rect x="206.6" y="304.8" width="2" height="2" fill="#20228a"/>
<rect x="226.7" y="256.6" width="2" height="2" fill="#20228a"/>
<rect x="249.9" y="282.7" width="2" height="2" fill="#20228a"/>
<text x="1.80" y="356.40" font-size="13.9" font-weight="bold" text-anchor="start" fill="#000" stroke="#000" stroke-width="0.4">D</text>
<path d="M30.3,358.8 H290.0 V501.0" fill="none" stroke="#8a8a8a" stroke-width="1"/>
<line x1="30.3" y1="358.8" x2="30.3" y2="501.0" stroke="#8a8a8a" stroke-width="1"/>
<line x1="30.3" y1="501.0" x2="290.0" y2="501.0" stroke="#8a8a8a" stroke-width="1"/>
<line x1="30.50" y1="501.0" x2="30.50" y2="503.6" stroke="#555" stroke-width="0.7"/>
<line x1="33.37" y1="501.0" x2="33.37" y2="502.3" stroke="#555" stroke-width="0.7"/>
<line x1="36.24" y1="501.0" x2="36.24" y2="502.3" stroke="#555" stroke-width="0.7"/>
<line x1="39.11" y1="501.0" x2="39.11" y2="502.3" stroke="#555" stroke-width="0.7"/>
<line x1="41.98" y1="501.0" x2="41.98" y2="502.3" stroke="#555" stroke-width="0.7"/>
<line x1="44.85" y1="501.0" x2="44.85" y2="502.3" stroke="#555" stroke-width="0.7"/>
<line x1="47.72" y1="501.0" x2="47.72" y2="502.3" stroke="#555" stroke-width="0.7"/>
<line x1="50.59" y1="501.0" x2="50.59" y2="502.3" stroke="#555" stroke-width="0.7"/>
<line x1="53.46" y1="501.0" x2="53.46" y2="502.3" stroke="#555" stroke-width="0.7"/>
<line x1="56.33" y1="501.0" x2="56.33" y2="502.3" stroke="#555" stroke-width="0.7"/>
<line x1="59.20" y1="501.0" x2="59.20" y2="503.6" stroke="#555" stroke-width="0.7"/>
<line x1="62.07" y1="501.0" x2="62.07" y2="502.3" stroke="#555" stroke-width="0.7"/>
<line x1="64.94" y1="501.0" x2="64.94" y2="502.3" stroke="#555" stroke-width="0.7"/>
<line x1="67.81" y1="501.0" x2="67.81" y2="502.3" stroke="#555" stroke-width="0.7"/>
<line x1="70.68" y1="501.0" x2="70.68" y2="502.3" stroke="#555" stroke-width="0.7"/>
<line x1="73.55" y1="501.0" x2="73.55" y2="502.3" stroke="#555" stroke-width="0.7"/>
<line x1="76.42" y1="501.0" x2="76.42" y2="502.3" stroke="#555" stroke-width="0.7"/>
<line x1="79.29" y1="501.0" x2="79.29" y2="502.3" stroke="#555" stroke-width="0.7"/>
<line x1="82.16" y1="501.0" x2="82.16" y2="502.3" stroke="#555" stroke-width="0.7"/>
<line x1="85.03" y1="501.0" x2="85.03" y2="502.3" stroke="#555" stroke-width="0.7"/>
<line x1="87.90" y1="501.0" x2="87.90" y2="503.6" stroke="#555" stroke-width="0.7"/>
<line x1="90.77" y1="501.0" x2="90.77" y2="502.3" stroke="#555" stroke-width="0.7"/>
<line x1="93.64" y1="501.0" x2="93.64" y2="502.3" stroke="#555" stroke-width="0.7"/>
<line x1="96.51" y1="501.0" x2="96.51" y2="502.3" stroke="#555" stroke-width="0.7"/>
<line x1="99.38" y1="501.0" x2="99.38" y2="502.3" stroke="#555" stroke-width="0.7"/>
<line x1="102.25" y1="501.0" x2="102.25" y2="502.3" stroke="#555" stroke-width="0.7"/>
<line x1="105.12" y1="501.0" x2="105.12" y2="502.3" stroke="#555" stroke-width="0.7"/>
<line x1="107.99" y1="501.0" x2="107.99" y2="502.3" stroke="#555" stroke-width="0.7"/>
<line x1="110.86" y1="501.0" x2="110.86" y2="502.3" stroke="#555" stroke-width="0.7"/>
<line x1="113.73" y1="501.0" x2="113.73" y2="502.3" stroke="#555" stroke-width="0.7"/>
<line x1="116.60" y1="501.0" x2="116.60" y2="503.6" stroke="#555" stroke-width="0.7"/>
<line x1="119.47" y1="501.0" x2="119.47" y2="502.3" stroke="#555" stroke-width="0.7"/>
<line x1="122.34" y1="501.0" x2="122.34" y2="502.3" stroke="#555" stroke-width="0.7"/>
<line x1="125.21" y1="501.0" x2="125.21" y2="502.3" stroke="#555" stroke-width="0.7"/>
<line x1="128.08" y1="501.0" x2="128.08" y2="502.3" stroke="#555" stroke-width="0.7"/>
<line x1="130.95" y1="501.0" x2="130.95" y2="502.3" stroke="#555" stroke-width="0.7"/>
<line x1="133.82" y1="501.0" x2="133.82" y2="502.3" stroke="#555" stroke-width="0.7"/>
<line x1="136.69" y1="501.0" x2="136.69" y2="502.3" stroke="#555" stroke-width="0.7"/>
<line x1="139.56" y1="501.0" x2="139.56" y2="502.3" stroke="#555" stroke-width="0.7"/>
<line x1="142.43" y1="501.0" x2="142.43" y2="502.3" stroke="#555" stroke-width="0.7"/>
<line x1="145.30" y1="501.0" x2="145.30" y2="503.6" stroke="#555" stroke-width="0.7"/>
<line x1="148.17" y1="501.0" x2="148.17" y2="502.3" stroke="#555" stroke-width="0.7"/>
<line x1="151.04" y1="501.0" x2="151.04" y2="502.3" stroke="#555" stroke-width="0.7"/>
<line x1="153.91" y1="501.0" x2="153.91" y2="502.3" stroke="#555" stroke-width="0.7"/>
<line x1="156.78" y1="501.0" x2="156.78" y2="502.3" stroke="#555" stroke-width="0.7"/>
<line x1="159.65" y1="501.0" x2="159.65" y2="502.3" stroke="#555" stroke-width="0.7"/>
<line x1="162.52" y1="501.0" x2="162.52" y2="502.3" stroke="#555" stroke-width="0.7"/>
<line x1="165.39" y1="501.0" x2="165.39" y2="502.3" stroke="#555" stroke-width="0.7"/>
<line x1="168.26" y1="501.0" x2="168.26" y2="502.3" stroke="#555" stroke-width="0.7"/>
<line x1="171.13" y1="501.0" x2="171.13" y2="502.3" stroke="#555" stroke-width="0.7"/>
<line x1="174.00" y1="501.0" x2="174.00" y2="503.6" stroke="#555" stroke-width="0.7"/>
<line x1="176.87" y1="501.0" x2="176.87" y2="502.3" stroke="#555" stroke-width="0.7"/>
<line x1="179.74" y1="501.0" x2="179.74" y2="502.3" stroke="#555" stroke-width="0.7"/>
<line x1="182.61" y1="501.0" x2="182.61" y2="502.3" stroke="#555" stroke-width="0.7"/>
<line x1="185.48" y1="501.0" x2="185.48" y2="502.3" stroke="#555" stroke-width="0.7"/>
<line x1="188.35" y1="501.0" x2="188.35" y2="502.3" stroke="#555" stroke-width="0.7"/>
<line x1="191.22" y1="501.0" x2="191.22" y2="502.3" stroke="#555" stroke-width="0.7"/>
<line x1="194.09" y1="501.0" x2="194.09" y2="502.3" stroke="#555" stroke-width="0.7"/>
<line x1="196.96" y1="501.0" x2="196.96" y2="502.3" stroke="#555" stroke-width="0.7"/>
<line x1="199.83" y1="501.0" x2="199.83" y2="502.3" stroke="#555" stroke-width="0.7"/>
<line x1="202.70" y1="501.0" x2="202.70" y2="503.6" stroke="#555" stroke-width="0.7"/>
<line x1="205.57" y1="501.0" x2="205.57" y2="502.3" stroke="#555" stroke-width="0.7"/>
<line x1="208.44" y1="501.0" x2="208.44" y2="502.3" stroke="#555" stroke-width="0.7"/>
<line x1="211.31" y1="501.0" x2="211.31" y2="502.3" stroke="#555" stroke-width="0.7"/>
<line x1="214.18" y1="501.0" x2="214.18" y2="502.3" stroke="#555" stroke-width="0.7"/>
<line x1="217.05" y1="501.0" x2="217.05" y2="502.3" stroke="#555" stroke-width="0.7"/>
<line x1="219.92" y1="501.0" x2="219.92" y2="502.3" stroke="#555" stroke-width="0.7"/>
<line x1="222.79" y1="501.0" x2="222.79" y2="502.3" stroke="#555" stroke-width="0.7"/>
<line x1="225.66" y1="501.0" x2="225.66" y2="502.3" stroke="#555" stroke-width="0.7"/>
<line x1="228.53" y1="501.0" x2="228.53" y2="502.3" stroke="#555" stroke-width="0.7"/>
<line x1="231.40" y1="501.0" x2="231.40" y2="503.6" stroke="#555" stroke-width="0.7"/>
<line x1="234.27" y1="501.0" x2="234.27" y2="502.3" stroke="#555" stroke-width="0.7"/>
<line x1="237.14" y1="501.0" x2="237.14" y2="502.3" stroke="#555" stroke-width="0.7"/>
<line x1="240.01" y1="501.0" x2="240.01" y2="502.3" stroke="#555" stroke-width="0.7"/>
<line x1="242.88" y1="501.0" x2="242.88" y2="502.3" stroke="#555" stroke-width="0.7"/>
<line x1="245.75" y1="501.0" x2="245.75" y2="502.3" stroke="#555" stroke-width="0.7"/>
<line x1="248.62" y1="501.0" x2="248.62" y2="502.3" stroke="#555" stroke-width="0.7"/>
<line x1="251.49" y1="501.0" x2="251.49" y2="502.3" stroke="#555" stroke-width="0.7"/>
<line x1="254.36" y1="501.0" x2="254.36" y2="502.3" stroke="#555" stroke-width="0.7"/>
<line x1="257.23" y1="501.0" x2="257.23" y2="502.3" stroke="#555" stroke-width="0.7"/>
<line x1="260.10" y1="501.0" x2="260.10" y2="503.6" stroke="#555" stroke-width="0.7"/>
<line x1="262.97" y1="501.0" x2="262.97" y2="502.3" stroke="#555" stroke-width="0.7"/>
<line x1="265.84" y1="501.0" x2="265.84" y2="502.3" stroke="#555" stroke-width="0.7"/>
<line x1="268.71" y1="501.0" x2="268.71" y2="502.3" stroke="#555" stroke-width="0.7"/>
<line x1="271.58" y1="501.0" x2="271.58" y2="502.3" stroke="#555" stroke-width="0.7"/>
<line x1="274.45" y1="501.0" x2="274.45" y2="502.3" stroke="#555" stroke-width="0.7"/>
<line x1="277.32" y1="501.0" x2="277.32" y2="502.3" stroke="#555" stroke-width="0.7"/>
<line x1="280.19" y1="501.0" x2="280.19" y2="502.3" stroke="#555" stroke-width="0.7"/>
<line x1="283.06" y1="501.0" x2="283.06" y2="502.3" stroke="#555" stroke-width="0.7"/>
<line x1="285.93" y1="501.0" x2="285.93" y2="502.3" stroke="#555" stroke-width="0.7"/>
<line x1="288.80" y1="501.0" x2="288.80" y2="503.6" stroke="#555" stroke-width="0.7"/>
<line x1="29.0" y1="500.00" x2="30.3" y2="500.00" stroke="#555" stroke-width="0.7"/>
<line x1="29.0" y1="493.10" x2="30.3" y2="493.10" stroke="#555" stroke-width="0.7"/>
<line x1="29.0" y1="486.20" x2="30.3" y2="486.20" stroke="#555" stroke-width="0.7"/>
<line x1="29.0" y1="479.30" x2="30.3" y2="479.30" stroke="#555" stroke-width="0.7"/>
<line x1="29.0" y1="472.40" x2="30.3" y2="472.40" stroke="#555" stroke-width="0.7"/>
<line x1="29.0" y1="465.50" x2="30.3" y2="465.50" stroke="#555" stroke-width="0.7"/>
<line x1="29.0" y1="458.60" x2="30.3" y2="458.60" stroke="#555" stroke-width="0.7"/>
<line x1="29.0" y1="451.70" x2="30.3" y2="451.70" stroke="#555" stroke-width="0.7"/>
<line x1="29.0" y1="444.80" x2="30.3" y2="444.80" stroke="#555" stroke-width="0.7"/>
<line x1="29.0" y1="437.90" x2="30.3" y2="437.90" stroke="#555" stroke-width="0.7"/>
<line x1="29.0" y1="431.00" x2="30.3" y2="431.00" stroke="#555" stroke-width="0.7"/>
<line x1="29.0" y1="424.10" x2="30.3" y2="424.10" stroke="#555" stroke-width="0.7"/>
<line x1="29.0" y1="417.20" x2="30.3" y2="417.20" stroke="#555" stroke-width="0.7"/>
<line x1="29.0" y1="410.30" x2="30.3" y2="410.30" stroke="#555" stroke-width="0.7"/>
<line x1="29.0" y1="403.40" x2="30.3" y2="403.40" stroke="#555" stroke-width="0.7"/>
<line x1="29.0" y1="396.50" x2="30.3" y2="396.50" stroke="#555" stroke-width="0.7"/>
<line x1="29.0" y1="389.60" x2="30.3" y2="389.60" stroke="#555" stroke-width="0.7"/>
<line x1="29.0" y1="382.70" x2="30.3" y2="382.70" stroke="#555" stroke-width="0.7"/>
<line x1="29.0" y1="375.80" x2="30.3" y2="375.80" stroke="#555" stroke-width="0.7"/>
<line x1="29.0" y1="368.90" x2="30.3" y2="368.90" stroke="#555" stroke-width="0.7"/>
<line x1="29.0" y1="362.00" x2="30.3" y2="362.00" stroke="#555" stroke-width="0.7"/>
<line x1="27.900000000000002" y1="500.00" x2="30.3" y2="500.00" stroke="#444" stroke-width="0.8"/>
<text x="27.30" y="501.70" font-size="4.6" font-weight="bold" text-anchor="end" fill="#111" letter-spacing="0.25" stroke="#111" stroke-width="0.15">0</text>
<line x1="27.900000000000002" y1="465.50" x2="30.3" y2="465.50" stroke="#444" stroke-width="0.8"/>
<text x="27.30" y="467.20" font-size="4.6" font-weight="bold" text-anchor="end" fill="#111" letter-spacing="0.25" stroke="#111" stroke-width="0.15">10</text>
<line x1="27.900000000000002" y1="431.00" x2="30.3" y2="431.00" stroke="#444" stroke-width="0.8"/>
<text x="27.30" y="432.70" font-size="4.6" font-weight="bold" text-anchor="end" fill="#111" letter-spacing="0.25" stroke="#111" stroke-width="0.15">20</text>
<line x1="27.900000000000002" y1="396.50" x2="30.3" y2="396.50" stroke="#444" stroke-width="0.8"/>
<text x="27.30" y="398.20" font-size="4.6" font-weight="bold" text-anchor="end" fill="#111" letter-spacing="0.25" stroke="#111" stroke-width="0.15">30</text>
<line x1="27.900000000000002" y1="362.00" x2="30.3" y2="362.00" stroke="#444" stroke-width="0.8"/>
<text x="27.30" y="363.70" font-size="4.6" font-weight="bold" text-anchor="end" fill="#111" letter-spacing="0.25" stroke="#111" stroke-width="0.15">40</text>
<text x="30.50" y="510.90" font-size="4.6" font-weight="bold" text-anchor="middle" fill="#111" letter-spacing="0.25" stroke="#111" stroke-width="0.15">-20</text>
<text x="59.20" y="510.90" font-size="4.6" font-weight="bold" text-anchor="middle" fill="#111" letter-spacing="0.25" stroke="#111" stroke-width="0.15">-10</text>
<text x="87.90" y="510.90" font-size="4.6" font-weight="bold" text-anchor="middle" fill="#111" letter-spacing="0.25" stroke="#111" stroke-width="0.15">0</text>
<text x="116.60" y="510.90" font-size="4.6" font-weight="bold" text-anchor="middle" fill="#111" letter-spacing="0.25" stroke="#111" stroke-width="0.15">10</text>
<text x="145.30" y="510.90" font-size="4.6" font-weight="bold" text-anchor="middle" fill="#111" letter-spacing="0.25" stroke="#111" stroke-width="0.15">20</text>
<text x="174.00" y="510.90" font-size="4.6" font-weight="bold" text-anchor="middle" fill="#111" letter-spacing="0.25" stroke="#111" stroke-width="0.15">30</text>
<text x="202.70" y="510.90" font-size="4.6" font-weight="bold" text-anchor="middle" fill="#111" letter-spacing="0.25" stroke="#111" stroke-width="0.15">40</text>
<text x="231.40" y="510.90" font-size="4.6" font-weight="bold" text-anchor="middle" fill="#111" letter-spacing="0.25" stroke="#111" stroke-width="0.15">50</text>
<text x="260.10" y="510.90" font-size="4.6" font-weight="bold" text-anchor="middle" fill="#111" letter-spacing="0.25" stroke="#111" stroke-width="0.15">60</text>
<text x="288.80" y="510.90" font-size="4.6" font-weight="bold" text-anchor="middle" fill="#111" letter-spacing="0.25" stroke="#111" stroke-width="0.15">70</text>
<line x1="88.4" y1="358.8" x2="88.4" y2="501.0" stroke="#666" stroke-width="0.8" stroke-dasharray="1,1.3"/>
<text x="61.00" y="517.00" font-size="4.75" font-weight="bold" text-anchor="middle" fill="#111" >Pre-treatment</text>
<text x="189.20" y="519.90" font-size="7.3" font-weight="bold" text-anchor="middle" fill="#000" >Day of treatment</text>
<line x1="91.1" y1="364.5" x2="99.1" y2="364.5" stroke="#c8dc48" stroke-width="1.5"/>
<text x="99.90" y="366.50" font-size="5.6" font-weight="normal" text-anchor="start" fill="#505050" >PA7470 (DAC dose 5 mg/m<tspan font-size="3.6" dy="-2">2</tspan><tspan dy="2">)</tspan></text>
<line x1="91.1" y1="371.6" x2="99.1" y2="371.6" stroke="#707070" stroke-width="0.9"/>
<text x="99.90" y="373.60" font-size="5.6" font-weight="normal" text-anchor="start" fill="#505050" >PA7472 (DAC dose 5 mg/m<tspan font-size="3.6" dy="-2">2</tspan><tspan dy="2">)</tspan></text>
<line x1="91.1" y1="379.3" x2="99.1" y2="379.3" stroke="#2a38a8" stroke-width="1.6"/>
<text x="99.90" y="381.30" font-size="5.6" font-weight="normal" text-anchor="start" fill="#505050" >PA7482 (DAC dose 10 mg/m<tspan font-size="3.6" dy="-2">2</tspan><tspan dy="2">)</tspan></text>
<line x1="91.1" y1="387.0" x2="99.1" y2="387.0" stroke="#d84848" stroke-width="1.1"/>
<text x="99.90" y="389.00" font-size="5.6" font-weight="normal" text-anchor="start" fill="#505050" >PA7484 (DAC dose 10 mg/m<tspan font-size="3.6" dy="-2">2</tspan><tspan dy="2">)</tspan></text>
<text transform="translate(16.4,431.4) rotate(-90)" font-size="7.4" font-weight="bold" text-anchor="middle" fill="#000">HbF%</text>
<text x="17.90" y="358.80" font-size="3.7" font-weight="bold" text-anchor="start" fill="#111" letter-spacing="0.2" stroke="#111" stroke-width="0.12">HbF</text>
<polyline points="43.1,482.7 66.0,473.9 91.7,455.2 108.7,444.2 117.5,444.0 129.1,433.7 137.1,432.5 146.1,423.8 157.6,424.5 168.8,417.3 177.4,412.6 185.9,412.3 197.3,407.9 205.8,403.8 217.5,403.4 226.0,394.2 234.8,392.6 246.0,399.0" fill="none" stroke="#b4b4b4" stroke-width="0.75" stroke-linejoin="round"/>
<rect x="42.1" y="481.7" width="2" height="2" fill="#555555"/>
<rect x="65.0" y="472.9" width="2" height="2" fill="#555555"/>
<rect x="90.7" y="454.2" width="2" height="2" fill="#555555"/>
<rect x="107.7" y="443.2" width="2" height="2" fill="#555555"/>
<rect x="116.5" y="443.0" width="2" height="2" fill="#555555"/>
<rect x="128.1" y="432.7" width="2" height="2" fill="#555555"/>
<rect x="136.1" y="431.5" width="2" height="2" fill="#555555"/>
<rect x="145.1" y="422.8" width="2" height="2" fill="#555555"/>
<rect x="156.6" y="423.5" width="2" height="2" fill="#555555"/>
<rect x="167.8" y="416.3" width="2" height="2" fill="#555555"/>
<rect x="176.4" y="411.6" width="2" height="2" fill="#555555"/>
<rect x="184.9" y="411.3" width="2" height="2" fill="#555555"/>
<rect x="196.3" y="406.9" width="2" height="2" fill="#555555"/>
<rect x="204.8" y="402.8" width="2" height="2" fill="#555555"/>
<rect x="216.5" y="402.4" width="2" height="2" fill="#555555"/>
<rect x="225.0" y="393.2" width="2" height="2" fill="#555555"/>
<rect x="233.8" y="391.6" width="2" height="2" fill="#555555"/>
<rect x="245.0" y="398.0" width="2" height="2" fill="#555555"/>
<polyline points="43.1,495.8 46.2,495.0 63.7,491.6 66.0,491.5 77.5,487.5 91.8,484.5 106.0,477.7 117.4,466.0 126.0,465.2 129.1,461.2 134.8,453.8 137.8,451.6 146.1,447.1 148.7,440.4 154.5,434.1 157.6,433.2 168.6,432.4 174.7,430.8 177.4,429.7 185.9,432.4 189.0,428.3 194.3,428.7 197.3,427.0 205.8,431.4 212.1,430.5 214.5,428.3 226.2,430.1 228.7,430.7 234.8,415.0 237.5,418.5 246.0,419.0 248.8,413.1 254.4,399.0 257.8,397.9 266.0,404.8 269.0,407.5 274.8,410.6 277.5,414.8" fill="none" stroke="#78c070" stroke-width="0.75" stroke-linejoin="round"/>
<rect x="42.1" y="494.8" width="2" height="2" fill="#2e5e2a"/>
<rect x="45.2" y="494.0" width="2" height="2" fill="#2e5e2a"/>
<rect x="62.7" y="490.6" width="2" height="2" fill="#2e5e2a"/>
<rect x="65.0" y="490.5" width="2" height="2" fill="#2e5e2a"/>
<rect x="76.5" y="486.5" width="2" height="2" fill="#2e5e2a"/>
<rect x="90.8" y="483.5" width="2" height="2" fill="#2e5e2a"/>
<rect x="105.0" y="476.7" width="2" height="2" fill="#2e5e2a"/>
<rect x="116.4" y="465.0" width="2" height="2" fill="#2e5e2a"/>
<rect x="125.0" y="464.2" width="2" height="2" fill="#2e5e2a"/>
<rect x="128.1" y="460.2" width="2" height="2" fill="#2e5e2a"/>
<rect x="133.8" y="452.8" width="2" height="2" fill="#2e5e2a"/>
<rect x="136.8" y="450.6" width="2" height="2" fill="#2e5e2a"/>
<rect x="145.1" y="446.1" width="2" height="2" fill="#2e5e2a"/>
<rect x="147.7" y="439.4" width="2" height="2" fill="#2e5e2a"/>
<rect x="153.5" y="433.1" width="2" height="2" fill="#2e5e2a"/>
<rect x="156.6" y="432.2" width="2" height="2" fill="#2e5e2a"/>
<rect x="167.6" y="431.4" width="2" height="2" fill="#2e5e2a"/>
<rect x="173.7" y="429.8" width="2" height="2" fill="#2e5e2a"/>
<rect x="176.4" y="428.7" width="2" height="2" fill="#2e5e2a"/>
<rect x="184.9" y="431.4" width="2" height="2" fill="#2e5e2a"/>
<rect x="188.0" y="427.3" width="2" height="2" fill="#2e5e2a"/>
<rect x="193.3" y="427.7" width="2" height="2" fill="#2e5e2a"/>
<rect x="196.3" y="426.0" width="2" height="2" fill="#2e5e2a"/>
<rect x="204.8" y="430.4" width="2" height="2" fill="#2e5e2a"/>
<rect x="211.1" y="429.5" width="2" height="2" fill="#2e5e2a"/>
<rect x="213.5" y="427.3" width="2" height="2" fill="#2e5e2a"/>
<rect x="225.2" y="429.1" width="2" height="2" fill="#2e5e2a"/>
<rect x="227.7" y="429.7" width="2" height="2" fill="#2e5e2a"/>
<rect x="233.8" y="414.0" width="2" height="2" fill="#2e5e2a"/>
<rect x="236.5" y="417.5" width="2" height="2" fill="#2e5e2a"/>
<rect x="245.0" y="418.0" width="2" height="2" fill="#2e5e2a"/>
<rect x="247.8" y="412.1" width="2" height="2" fill="#2e5e2a"/>
<rect x="253.4" y="398.0" width="2" height="2" fill="#2e5e2a"/>
<rect x="256.8" y="396.9" width="2" height="2" fill="#2e5e2a"/>
<rect x="265.0" y="403.8" width="2" height="2" fill="#2e5e2a"/>
<rect x="268.0" y="406.5" width="2" height="2" fill="#2e5e2a"/>
<rect x="273.8" y="409.6" width="2" height="2" fill="#2e5e2a"/>
<rect x="276.5" y="413.8" width="2" height="2" fill="#2e5e2a"/>
<polyline points="43.1,495.8 46.2,495.0 63.7,491.6 66.0,491.5 77.5,487.3 91.8,484.4 108.9,471.4 115.0,468.2 117.6,468.2 124.5,456.8 129.1,450.6 131.7,448.9 137.1,444.9 146.1,430.5 157.6,427.5 168.7,420.8 177.4,421.1 185.9,419.3 197.3,429.4 205.8,439.9 217.5,430.8 226.0,429.9 234.5,441.9 246.0,444.6" fill="none" stroke="#ea6464" stroke-width="0.75" stroke-linejoin="round"/>
<rect x="42.1" y="494.8" width="2" height="2" fill="#9a2424"/>
<rect x="45.2" y="494.0" width="2" height="2" fill="#9a2424"/>
<rect x="62.7" y="490.6" width="2" height="2" fill="#9a2424"/>
<rect x="65.0" y="490.5" width="2" height="2" fill="#9a2424"/>
<rect x="76.5" y="486.3" width="2" height="2" fill="#9a2424"/>
<rect x="90.8" y="483.4" width="2" height="2" fill="#9a2424"/>
<rect x="107.9" y="470.4" width="2" height="2" fill="#9a2424"/>
<rect x="114.0" y="467.2" width="2" height="2" fill="#9a2424"/>
<rect x="116.6" y="467.2" width="2" height="2" fill="#9a2424"/>
<rect x="123.5" y="455.8" width="2" height="2" fill="#9a2424"/>
<rect x="128.1" y="449.6" width="2" height="2" fill="#9a2424"/>
<rect x="130.7" y="447.9" width="2" height="2" fill="#9a2424"/>
<rect x="136.1" y="443.9" width="2" height="2" fill="#9a2424"/>
<rect x="145.1" y="429.5" width="2" height="2" fill="#9a2424"/>
<rect x="156.6" y="426.5" width="2" height="2" fill="#9a2424"/>
<rect x="167.7" y="419.8" width="2" height="2" fill="#9a2424"/>
<rect x="176.4" y="420.1" width="2" height="2" fill="#9a2424"/>
<rect x="184.9" y="418.3" width="2" height="2" fill="#9a2424"/>
<rect x="196.3" y="428.4" width="2" height="2" fill="#9a2424"/>
<rect x="204.8" y="438.9" width="2" height="2" fill="#9a2424"/>
<rect x="216.5" y="429.8" width="2" height="2" fill="#9a2424"/>
<rect x="225.0" y="428.9" width="2" height="2" fill="#9a2424"/>
<rect x="233.5" y="440.9" width="2" height="2" fill="#9a2424"/>
<rect x="245.0" y="443.6" width="2" height="2" fill="#9a2424"/>
<polyline points="77.3,486.8 83.2,484.2 88.2,483.0 91.8,482.6 94.5,477.1 97.3,482.6 100.3,480.5 108.9,471.4 111.6,468.4 117.4,462.9 120.4,462.7 129.1,450.6 137.1,443.9 148.7,436.8 154.5,421.4 168.7,417.0 171.8,427.8 177.4,435.9 191.9,439.9 200.3,438.6 208.7,432.8 214.5,428.1 220.2,436.8 228.9,425.4 234.5,426.3 251.9,435.9" fill="none" stroke="#5c60d0" stroke-width="0.75" stroke-linejoin="round"/>
<rect x="76.3" y="485.8" width="2" height="2" fill="#20228a"/>
<rect x="82.2" y="483.2" width="2" height="2" fill="#20228a"/>
<rect x="87.2" y="482.0" width="2" height="2" fill="#20228a"/>
<rect x="90.8" y="481.6" width="2" height="2" fill="#20228a"/>
<rect x="93.5" y="476.1" width="2" height="2" fill="#20228a"/>
<rect x="96.3" y="481.6" width="2" height="2" fill="#20228a"/>
<rect x="99.3" y="479.5" width="2" height="2" fill="#20228a"/>
<rect x="107.9" y="470.4" width="2" height="2" fill="#20228a"/>
<rect x="110.6" y="467.4" width="2" height="2" fill="#20228a"/>
<rect x="116.4" y="461.9" width="2" height="2" fill="#20228a"/>
<rect x="119.4" y="461.7" width="2" height="2" fill="#20228a"/>
<rect x="128.1" y="449.6" width="2" height="2" fill="#20228a"/>
<rect x="136.1" y="442.9" width="2" height="2" fill="#20228a"/>
<rect x="147.7" y="435.8" width="2" height="2" fill="#20228a"/>
<rect x="153.5" y="420.4" width="2" height="2" fill="#20228a"/>
<rect x="167.7" y="416.0" width="2" height="2" fill="#20228a"/>
<rect x="170.8" y="426.8" width="2" height="2" fill="#20228a"/>
<rect x="176.4" y="434.9" width="2" height="2" fill="#20228a"/>
<rect x="190.9" y="438.9" width="2" height="2" fill="#20228a"/>
<rect x="199.3" y="437.6" width="2" height="2" fill="#20228a"/>
<rect x="207.7" y="431.8" width="2" height="2" fill="#20228a"/>
<rect x="213.5" y="427.1" width="2" height="2" fill="#20228a"/>
<rect x="219.2" y="435.8" width="2" height="2" fill="#20228a"/>
<rect x="227.9" y="424.4" width="2" height="2" fill="#20228a"/>
<rect x="233.5" y="425.3" width="2" height="2" fill="#20228a"/>
<rect x="250.9" y="434.9" width="2" height="2" fill="#20228a"/>
<text x="298.70" y="11.90" font-size="13.9" font-weight="bold" text-anchor="start" fill="#000" stroke="#000" stroke-width="0.4">C</text>
<line x1="304.4" y1="66" x2="304.4" y2="102.8" stroke="#000" stroke-width="1.4"/>
<polygon points="304.4,62.3 301.6,67.2 307.2,67.2" fill="#000"/>
<line x1="303.7" y1="102.3" x2="373" y2="102.3" stroke="#000" stroke-width="1.4"/>
<polygon points="376.8,102.3 371.9,99.5 371.9,105.1" fill="#000"/>
<text transform="translate(306.6,56.8) rotate(-90)" font-size="4.8" font-weight="bold" text-anchor="middle" fill="#000">SSc</text>
<text x="408.50" y="104.00" font-size="4.6" font-weight="bold" text-anchor="middle" fill="#000" >Anti-&#947;H2Ax- A488 Labeled</text>
<rect x="310.4" y="31.7" width="64.80000000000001" height="62.099999999999994" fill="#fff" stroke="#ababab" stroke-width="0.9"/>
<line x1="332.0" y1="31.7" x2="332.0" y2="93.8" stroke="#aaa" stroke-width="1.2"/>
<text x="336.40" y="29.90" font-size="4.6" font-weight="bold" text-anchor="middle" fill="#000" >Negative Control</text>
<text x="353.50" y="70.30" font-size="4.6" font-weight="bold" text-anchor="middle" fill="#000" >0.8%</text>
<line x1="308.79999999999995" y1="87.8" x2="310.4" y2="87.8" stroke="#777" stroke-width="0.6"/>
<line x1="308.79999999999995" y1="81.7" x2="310.4" y2="81.7" stroke="#777" stroke-width="0.6"/>
<line x1="308.79999999999995" y1="75.7" x2="310.4" y2="75.7" stroke="#777" stroke-width="0.6"/>
<line x1="308.79999999999995" y1="69.6" x2="310.4" y2="69.6" stroke="#777" stroke-width="0.6"/>
<line x1="308.79999999999995" y1="63.5" x2="310.4" y2="63.5" stroke="#777" stroke-width="0.6"/>
<line x1="308.79999999999995" y1="57.5" x2="310.4" y2="57.5" stroke="#777" stroke-width="0.6"/>
<line x1="308.79999999999995" y1="51.4" x2="310.4" y2="51.4" stroke="#777" stroke-width="0.6"/>
<line x1="308.79999999999995" y1="45.4" x2="310.4" y2="45.4" stroke="#777" stroke-width="0.6"/>
<line x1="308.79999999999995" y1="39.4" x2="310.4" y2="39.4" stroke="#777" stroke-width="0.6"/>
<rect x="378.5" y="31.7" width="66.5" height="62.5" fill="#fff" stroke="#ababab" stroke-width="0.9"/>
<line x1="401.0" y1="31.7" x2="401.0" y2="94.2" stroke="#aaa" stroke-width="1.2"/>
<text x="413.50" y="29.90" font-size="4.6" font-weight="bold" text-anchor="middle" fill="#000" >Positive Control</text>
<text x="422.00" y="70.30" font-size="4.6" font-weight="bold" text-anchor="middle" fill="#000" >61.4%</text>
<line x1="376.9" y1="88.2" x2="378.5" y2="88.2" stroke="#777" stroke-width="0.6"/>
<line x1="376.9" y1="82.1" x2="378.5" y2="82.1" stroke="#777" stroke-width="0.6"/>
<line x1="376.9" y1="76.1" x2="378.5" y2="76.1" stroke="#777" stroke-width="0.6"/>
<line x1="376.9" y1="70.0" x2="378.5" y2="70.0" stroke="#777" stroke-width="0.6"/>
<line x1="376.9" y1="64.0" x2="378.5" y2="64.0" stroke="#777" stroke-width="0.6"/>
<line x1="376.9" y1="57.9" x2="378.5" y2="57.9" stroke="#777" stroke-width="0.6"/>
<line x1="376.9" y1="51.9" x2="378.5" y2="51.9" stroke="#777" stroke-width="0.6"/>
<line x1="376.9" y1="45.8" x2="378.5" y2="45.8" stroke="#777" stroke-width="0.6"/>
<line x1="376.9" y1="39.8" x2="378.5" y2="39.8" stroke="#777" stroke-width="0.6"/>
<rect x="450.6" y="32.0" width="66.69999999999993" height="62.2" fill="#fff" stroke="#ababab" stroke-width="0.9"/>
<line x1="473.3" y1="32.0" x2="473.3" y2="94.2" stroke="#aaa" stroke-width="1.2"/>
<text x="479.50" y="29.90" font-size="4.6" font-weight="bold" text-anchor="middle" fill="#000" >Baboon BM 7472</text>
<text x="495.00" y="70.30" font-size="4.6" font-weight="bold" text-anchor="middle" fill="#000" >6.9%</text>
<line x1="449.0" y1="88.2" x2="450.6" y2="88.2" stroke="#777" stroke-width="0.6"/>
<line x1="449.0" y1="82.1" x2="450.6" y2="82.1" stroke="#777" stroke-width="0.6"/>
<line x1="449.0" y1="76.1" x2="450.6" y2="76.1" stroke="#777" stroke-width="0.6"/>
<line x1="449.0" y1="70.0" x2="450.6" y2="70.0" stroke="#777" stroke-width="0.6"/>
<line x1="449.0" y1="64.0" x2="450.6" y2="64.0" stroke="#777" stroke-width="0.6"/>
<line x1="449.0" y1="57.9" x2="450.6" y2="57.9" stroke="#777" stroke-width="0.6"/>
<line x1="449.0" y1="51.9" x2="450.6" y2="51.9" stroke="#777" stroke-width="0.6"/>
<line x1="449.0" y1="45.8" x2="450.6" y2="45.8" stroke="#777" stroke-width="0.6"/>
<line x1="449.0" y1="39.8" x2="450.6" y2="39.8" stroke="#777" stroke-width="0.6"/>
<line x1="326.6" y1="93.8" x2="326.6" y2="95.2" stroke="#666" stroke-width="0.6"/>
<text x="326.60" y="98.00" font-size="2.7" font-weight="bold" text-anchor="middle" fill="#333" stroke="#333" stroke-width="0.25">10</text>
<line x1="342.8" y1="93.8" x2="342.8" y2="95.2" stroke="#666" stroke-width="0.6"/>
<text x="342.80" y="98.00" font-size="2.7" font-weight="bold" text-anchor="middle" fill="#333" stroke="#333" stroke-width="0.25">10</text>
<line x1="359.0" y1="93.8" x2="359.0" y2="95.2" stroke="#666" stroke-width="0.6"/>
<text x="359.00" y="98.00" font-size="2.7" font-weight="bold" text-anchor="middle" fill="#333" stroke="#333" stroke-width="0.25">10</text>
<line x1="372.6" y1="93.8" x2="372.6" y2="95.2" stroke="#666" stroke-width="0.6"/>
<text x="372.61" y="98.00" font-size="2.7" font-weight="bold" text-anchor="middle" fill="#333" stroke="#333" stroke-width="0.25">10</text>
<line x1="395.1" y1="93.8" x2="395.1" y2="95.2" stroke="#666" stroke-width="0.6"/>
<text x="395.12" y="98.00" font-size="2.7" font-weight="bold" text-anchor="middle" fill="#333" stroke="#333" stroke-width="0.25">10</text>
<line x1="411.8" y1="93.8" x2="411.8" y2="95.2" stroke="#666" stroke-width="0.6"/>
<text x="411.75" y="98.00" font-size="2.7" font-weight="bold" text-anchor="middle" fill="#333" stroke="#333" stroke-width="0.25">10</text>
<line x1="428.4" y1="93.8" x2="428.4" y2="95.2" stroke="#666" stroke-width="0.6"/>
<text x="428.38" y="98.00" font-size="2.7" font-weight="bold" text-anchor="middle" fill="#333" stroke="#333" stroke-width="0.25">10</text>
<line x1="442.3" y1="93.8" x2="442.3" y2="95.2" stroke="#666" stroke-width="0.6"/>
<text x="442.34" y="98.00" font-size="2.7" font-weight="bold" text-anchor="middle" fill="#333" stroke="#333" stroke-width="0.25">10</text>
<line x1="467.3" y1="93.8" x2="467.3" y2="95.2" stroke="#666" stroke-width="0.6"/>
<text x="467.27" y="98.00" font-size="2.7" font-weight="bold" text-anchor="middle" fill="#333" stroke="#333" stroke-width="0.25">10</text>
<line x1="483.9" y1="93.8" x2="483.9" y2="95.2" stroke="#666" stroke-width="0.6"/>
<text x="483.95" y="98.00" font-size="2.7" font-weight="bold" text-anchor="middle" fill="#333" stroke="#333" stroke-width="0.25">10</text>
<line x1="500.6" y1="93.8" x2="500.6" y2="95.2" stroke="#666" stroke-width="0.6"/>
<text x="500.62" y="98.00" font-size="2.7" font-weight="bold" text-anchor="middle" fill="#333" stroke="#333" stroke-width="0.25">10</text>
<line x1="514.6" y1="93.8" x2="514.6" y2="95.2" stroke="#666" stroke-width="0.6"/>
<text x="514.63" y="98.00" font-size="2.7" font-weight="bold" text-anchor="middle" fill="#333" stroke="#333" stroke-width="0.25">10</text>
<defs><filter id="blur" x="-30%" y="-30%" width="160%" height="160%"><feGaussianBlur stdDeviation="0.7"/></filter></defs>
<clipPath id="cp0"><rect x="310.9" y="32.2" width="63.80000000000001" height="61.099999999999994"/></clipPath>
<clipPath id="cp1"><rect x="379.0" y="32.2" width="65.5" height="61.5"/></clipPath>
<clipPath id="cp2"><rect x="451.1" y="32.5" width="65.69999999999993" height="61.2"/></clipPath>
<defs><filter id="soft" x="-5%" y="-5%" width="110%" height="110%"><feGaussianBlur stdDeviation="0.35"/></filter></defs>
<g filter="url(#soft)">
<rect x="335.00" y="71.70" width="1.0" height="1.0" fill="#2233c8"/>
<rect x="338.00" y="71.70" width="1.0" height="1.0" fill="#2233c8"/>
<rect x="339.00" y="71.70" width="1.0" height="1.0" fill="#2233c8"/>
<rect x="338.00" y="72.70" width="1.0" height="1.0" fill="#2233c8"/>
<rect x="327.00" y="73.70" width="1.0" height="1.0" fill="#2233c8"/>
<rect x="333.00" y="73.70" width="1.0" height="1.0" fill="#2233c8"/>
<rect x="335.00" y="73.70" width="1.0" height="1.0" fill="#2233c8"/>
<rect x="333.00" y="74.70" width="1.0" height="1.0" fill="#2233c8"/>
<rect x="334.00" y="74.70" width="1.0" height="1.0" fill="#2233c8"/>
<rect x="336.00" y="74.70" width="1.0" height="1.0" fill="#2233c8"/>
<rect x="328.00" y="75.70" width="1.0" height="1.0" fill="#2233c8"/>
<rect x="330.00" y="75.70" width="1.0" height="1.0" fill="#2233c8"/>
<rect x="333.00" y="75.70" width="1.0" height="1.0" fill="#2233c8"/>
<rect x="335.00" y="75.70" width="1.0" height="1.0" fill="#2233c8"/>
<rect x="323.00" y="76.70" width="1.0" height="1.0" fill="#2233c8"/>
<rect x="326.00" y="76.70" width="1.0" height="1.0" fill="#2233c8"/>
<rect x="328.00" y="76.70" width="1.0" height="1.0" fill="#2233c8"/>
<rect x="330.00" y="76.70" width="1.0" height="1.0" fill="#2233c8"/>
<rect x="331.00" y="76.70" width="1.0" height="1.0" fill="#2233c8"/>
<rect x="332.00" y="76.70" width="1.0" height="1.0" fill="#2233c8"/>
<rect x="333.00" y="76.70" width="1.0" height="1.0" fill="#2233c8"/>
<rect x="319.00" y="77.70" width="1.0" height="1.0" fill="#2233c8"/>
<rect x="322.00" y="77.70" width="1.0" height="1.0" fill="#2233c8"/>
<rect x="324.00" y="77.70" width="1.0" height="1.0" fill="#2233c8"/>
<rect x="325.00" y="77.70" width="1.0" height="1.0" fill="#2233c8"/>
<rect x="326.00" y="77.70" width="1.05" height="1.05" fill="#1527cf"/>
<rect x="327.00" y="77.70" width="1.05" height="1.05" fill="#141ec8"/>
<rect x="328.00" y="77.70" width="1.05" height="1.05" fill="#1839de"/>
<rect x="329.00" y="77.70" width="1.05" height="1.05" fill="#162cd3"/>
<rect x="330.00" y="77.70" width="1.05" height="1.05" fill="#141ec8"/>
<rect x="331.00" y="77.70" width="1.05" height="1.05" fill="#162dd4"/>
<rect x="332.00" y="77.70" width="1.05" height="1.05" fill="#1420ca"/>
<rect x="333.00" y="77.70" width="1.0" height="1.0" fill="#2233c8"/>
<rect x="334.00" y="77.70" width="1.0" height="1.0" fill="#2233c8"/>
<rect x="323.00" y="78.70" width="1.05" height="1.05" fill="#1421ca"/>
<rect x="324.00" y="78.70" width="1.05" height="1.05" fill="#162ed5"/>
<rect x="325.00" y="78.70" width="1.05" height="1.05" fill="#1730d7"/>
<rect x="326.00" y="78.70" width="1.05" height="1.05" fill="#183ae0"/>
<rect x="327.00" y="78.70" width="1.05" height="1.05" fill="#1839de"/>
<rect x="328.00" y="78.70" width="1.05" height="1.05" fill="#183adf"/>
<rect x="329.00" y="78.70" width="1.05" height="1.05" fill="#1a5de2"/>
<rect x="330.00" y="78.70" width="1.05" height="1.05" fill="#1836dc"/>
<rect x="331.00" y="78.70" width="1.05" height="1.05" fill="#162bd3"/>
<rect x="332.00" y="78.70" width="1.05" height="1.05" fill="#162bd2"/>
<rect x="333.00" y="78.70" width="1.0" height="1.0" fill="#2233c8"/>
<rect x="334.00" y="78.70" width="1.0" height="1.0" fill="#2233c8"/>
<rect x="319.00" y="79.70" width="1.0" height="1.0" fill="#2233c8"/>
<rect x="320.00" y="79.70" width="1.0" height="1.0" fill="#2233c8"/>
<rect x="321.00" y="79.70" width="1.05" height="1.05" fill="#141ec8"/>
<rect x="322.00" y="79.70" width="1.05" height="1.05" fill="#1528d0"/>
<rect x="323.00" y="79.70" width="1.05" height="1.05" fill="#1730d7"/>
<rect x="324.00" y="79.70" width="1.05" height="1.05" fill="#1836dc"/>
<rect x="325.00" y="79.70" width="1.05" height="1.05" fill="#1837dc"/>
<rect x="326.00" y="79.70" width="1.05" height="1.05" fill="#1a5de2"/>
<rect x="327.00" y="79.70" width="1.05" height="1.05" fill="#1b7be3"/>
<rect x="328.00" y="79.70" width="1.05" height="1.05" fill="#1a64e2"/>
<rect x="329.00" y="79.70" width="1.05" height="1.05" fill="#1733d9"/>
<rect x="330.00" y="79.70" width="1.05" height="1.05" fill="#162ad2"/>
<rect x="331.00" y="79.70" width="1.05" height="1.05" fill="#162ed5"/>
<rect x="332.00" y="79.70" width="1.05" height="1.05" fill="#141ec8"/>
<rect x="333.00" y="79.70" width="1.0" height="1.0" fill="#2233c8"/>
<rect x="335.00" y="79.70" width="1.0" height="1.0" fill="#2233c8"/>
<rect x="316.00" y="80.70" width="1.0" height="1.0" fill="#2233c8"/>
<rect x="317.00" y="80.70" width="1.0" height="1.0" fill="#2233c8"/>
<rect x="318.00" y="80.70" width="1.0" height="1.0" fill="#2233c8"/>
<rect x="319.00" y="80.70" width="1.05" height="1.05" fill="#1735db"/>
<rect x="320.00" y="80.70" width="1.05" height="1.05" fill="#194fe1"/>
<rect x="321.00" y="80.70" width="1.05" height="1.05" fill="#1730d7"/>
<rect x="322.00" y="80.70" width="1.05" height="1.05" fill="#1836dc"/>
<rect x="323.00" y="80.70" width="1.05" height="1.05" fill="#21aec9"/>
<rect x="324.00" y="80.70" width="1.05" height="1.05" fill="#1a5ce2"/>
<rect x="325.00" y="80.70" width="1.05" height="1.05" fill="#1b77e3"/>
<rect x="326.00" y="80.70" width="1.05" height="1.05" fill="#1c8de4"/>
<rect x="327.00" y="80.70" width="1.05" height="1.05" fill="#1c91e4"/>
<rect x="328.00" y="80.70" width="1.05" height="1.05" fill="#1c8ee4"/>
<rect x="329.00" y="80.70" width="1.05" height="1.05" fill="#1a5be2"/>
<rect x="330.00" y="80.70" width="1.05" height="1.05" fill="#162ed5"/>
<rect x="331.00" y="80.70" width="1.05" height="1.05" fill="#1731d8"/>
<rect x="332.00" y="80.70" width="1.05" height="1.05" fill="#1524cd"/>
<rect x="334.00" y="80.70" width="1.0" height="1.0" fill="#2233c8"/>
<rect x="335.00" y="80.70" width="1.0" height="1.0" fill="#2233c8"/>
<rect x="337.00" y="80.70" width="1.0" height="1.0" fill="#2233c8"/>
<rect x="312.00" y="81.70" width="1.0" height="1.0" fill="#2233c8"/>
<rect x="313.00" y="81.70" width="1.0" height="1.0" fill="#2233c8"/>
<rect x="314.00" y="81.70" width="1.0" height="1.0" fill="#2233c8"/>
<rect x="315.00" y="81.70" width="1.0" height="1.0" fill="#2233c8"/>
<rect x="316.00" y="81.70" width="1.0" height="1.0" fill="#2233c8"/>
<rect x="317.00" y="81.70" width="1.05" height="1.05" fill="#162bd3"/>
<rect x="318.00" y="81.70" width="1.05" height="1.05" fill="#1525ce"/>
<rect x="319.00" y="81.70" width="1.05" height="1.05" fill="#1734db"/>
<rect x="320.00" y="81.70" width="1.05" height="1.05" fill="#1c8ce4"/>
<rect x="321.00" y="81.70" width="1.05" height="1.05" fill="#1eabdd"/>
<rect x="322.00" y="81.70" width="1.05" height="1.05" fill="#1facd7"/>
<rect x="323.00" y="81.70" width="1.05" height="1.05" fill="#20adcd"/>
<rect x="324.00" y="81.70" width="1.05" height="1.05" fill="#26b49b"/>
<rect x="325.00" y="81.70" width="1.05" height="1.05" fill="#20adcd"/>
<rect x="326.00" y="81.70" width="1.05" height="1.05" fill="#1fabdc"/>
<rect x="327.00" y="81.70" width="1.05" height="1.05" fill="#1b7de3"/>
<rect x="328.00" y="81.70" width="1.05" height="1.05" fill="#1b76e3"/>
<rect x="329.00" y="81.70" width="1.05" height="1.05" fill="#1949e1"/>
<rect x="330.00" y="81.70" width="1.05" height="1.05" fill="#1c7fe4"/>
<rect x="331.00" y="81.70" width="1.05" height="1.05" fill="#1526ce"/>
<rect x="313.00" y="82.70" width="1.0" height="1.0" fill="#2233c8"/>
<rect x="314.00" y="82.70" width="1.0" height="1.0" fill="#2233c8"/>
<rect x="315.00" y="82.70" width="1.05" height="1.05" fill="#141fc9"/>
<rect x="316.00" y="82.70" width="1.05" height="1.05" fill="#1420c9"/>
<rect x="317.00" y="82.70" width="1.05" height="1.05" fill="#1731d8"/>
<rect x="318.00" y="82.70" width="1.05" height="1.05" fill="#193ce1"/>
<rect x="319.00" y="82.70" width="1.05" height="1.05" fill="#1c92e4"/>
<rect x="320.00" y="82.70" width="1.05" height="1.05" fill="#1fabd8"/>
<rect x="321.00" y="82.70" width="1.05" height="1.05" fill="#21aec8"/>
<rect x="322.00" y="82.70" width="1.05" height="1.05" fill="#23b1b4"/>
<rect x="323.00" y="82.70" width="1.05" height="1.05" fill="#28b789"/>
<rect x="324.00" y="82.70" width="1.05" height="1.05" fill="#2fbf52"/>
<rect x="325.00" y="82.70" width="1.05" height="1.05" fill="#28b78d"/>
<rect x="326.00" y="82.70" width="1.05" height="1.05" fill="#25b3a6"/>
<rect x="327.00" y="82.70" width="1.05" height="1.05" fill="#1d9ae5"/>
<rect x="328.00" y="82.70" width="1.05" height="1.05" fill="#1942e1"/>
<rect x="329.00" y="82.70" width="1.05" height="1.05" fill="#1734db"/>
<rect x="330.00" y="82.70" width="1.05" height="1.05" fill="#1734da"/>
<rect x="331.00" y="82.70" width="1.05" height="1.05" fill="#1422cb"/>
<rect x="333.00" y="82.70" width="1.0" height="1.0" fill="#2233c8"/>
<rect x="336.00" y="82.70" width="1.0" height="1.0" fill="#2233c8"/>
<rect x="312.00" y="83.70" width="1.0" height="1.0" fill="#2233c8"/>
<rect x="313.00" y="83.70" width="1.0" height="1.0" fill="#2233c8"/>
<rect x="314.00" y="83.70" width="1.05" height="1.05" fill="#1730d7"/>
<rect x="315.00" y="83.70" width="1.05" height="1.05" fill="#183be0"/>
<rect x="316.00" y="83.70" width="1.05" height="1.05" fill="#1b71e3"/>
<rect x="317.00" y="83.70" width="1.05" height="1.05" fill="#1c8fe4"/>
<rect x="318.00" y="83.70" width="1.05" height="1.05" fill="#1d9ae5"/>
<rect x="319.00" y="83.70" width="1.05" height="1.05" fill="#24b1b1"/>
<rect x="320.00" y="83.70" width="1.05" height="1.05" fill="#2cbc67"/>
<rect x="321.00" y="83.70" width="1.05" height="1.05" fill="#2dbd60"/>
<rect x="322.00" y="83.70" width="1.05" height="1.05" fill="#45c638"/>
<rect x="323.00" y="83.70" width="1.05" height="1.05" fill="#5ccb35"/>
<rect x="324.00" y="83.70" width="1.05" height="1.05" fill="#2aba78"/>
<rect x="325.00" y="83.70" width="1.05" height="1.05" fill="#21aeca"/>
<rect x="326.00" y="83.70" width="1.05" height="1.05" fill="#28b68d"/>
<rect x="327.00" y="83.70" width="1.05" height="1.05" fill="#1d94e5"/>
<rect x="328.00" y="83.70" width="1.05" height="1.05" fill="#1b72e3"/>
<rect x="329.00" y="83.70" width="1.05" height="1.05" fill="#1527cf"/>
<rect x="330.00" y="83.70" width="1.05" height="1.05" fill="#1838dd"/>
<rect x="332.00" y="83.70" width="1.0" height="1.0" fill="#2233c8"/>
<rect x="312.00" y="84.70" width="1.05" height="1.05" fill="#141ec8"/>
<rect x="313.00" y="84.70" width="1.05" height="1.05" fill="#1528d0"/>
<rect x="314.00" y="84.70" width="1.05" height="1.05" fill="#162dd4"/>
<rect x="315.00" y="84.70" width="1.05" height="1.05" fill="#1c8fe4"/>
<rect x="316.00" y="84.70" width="1.05" height="1.05" fill="#1d9de5"/>
<rect x="317.00" y="84.70" width="1.05" height="1.05" fill="#25b2a9"/>
<rect x="318.00" y="84.70" width="1.05" height="1.05" fill="#2dbd63"/>
<rect x="319.00" y="84.70" width="1.05" height="1.05" fill="#28b788"/>
<rect x="320.00" y="84.70" width="1.05" height="1.05" fill="#88d32d"/>
<rect x="321.00" y="84.70" width="1.05" height="1.05" fill="#7ed12f"/>
<rect x="322.00" y="84.70" width="1.05" height="1.05" fill="#7ed12f"/>
<rect x="323.00" y="84.70" width="1.05" height="1.05" fill="#70ce31"/>
<rect x="324.00" y="84.70" width="1.05" height="1.05" fill="#2ebe5b"/>
<rect x="325.00" y="84.70" width="1.05" height="1.05" fill="#2ebf56"/>
<rect x="326.00" y="84.70" width="1.05" height="1.05" fill="#1eaae1"/>
<rect x="327.00" y="84.70" width="1.05" height="1.05" fill="#1a63e2"/>
<rect x="328.00" y="84.70" width="1.05" height="1.05" fill="#1735db"/>
<rect x="329.00" y="84.70" width="1.05" height="1.05" fill="#162fd6"/>
<rect x="330.00" y="84.70" width="1.05" height="1.05" fill="#1527cf"/>
<rect x="331.00" y="84.70" width="1.0" height="1.0" fill="#2233c8"/>
<rect x="332.00" y="84.70" width="1.0" height="1.0" fill="#2233c8"/>
<rect x="311.00" y="85.70" width="1.05" height="1.05" fill="#1422cb"/>
<rect x="312.00" y="85.70" width="1.05" height="1.05" fill="#1529d1"/>
<rect x="313.00" y="85.70" width="1.05" height="1.05" fill="#183ae0"/>
<rect x="314.00" y="85.70" width="1.05" height="1.05" fill="#1d9fe5"/>
<rect x="315.00" y="85.70" width="1.05" height="1.05" fill="#28b78b"/>
<rect x="316.00" y="85.70" width="1.05" height="1.05" fill="#2dbd5e"/>
<rect x="317.00" y="85.70" width="1.05" height="1.05" fill="#95d52b"/>
<rect x="318.00" y="85.70" width="1.05" height="1.05" fill="#edd11b"/>
<rect x="319.00" y="85.70" width="1.05" height="1.05" fill="#ebe51d"/>
<rect x="320.00" y="85.70" width="1.05" height="1.05" fill="#e2e41f"/>
<rect x="321.00" y="85.70" width="1.05" height="1.05" fill="#e4e41f"/>
<rect x="322.00" y="85.70" width="1.05" height="1.05" fill="#b4db26"/>
<rect x="323.00" y="85.70" width="1.05" height="1.05" fill="#95d52b"/>
<rect x="324.00" y="85.70" width="1.05" height="1.05" fill="#3ec539"/>
<rect x="325.00" y="85.70" width="1.05" height="1.05" fill="#25b3a4"/>
<rect x="326.00" y="85.70" width="1.05" height="1.05" fill="#23b0b9"/>
<rect x="327.00" y="85.70" width="1.05" height="1.05" fill="#1731d8"/>
<rect x="328.00" y="85.70" width="1.05" height="1.05" fill="#162ad2"/>
<rect x="329.00" y="85.70" width="1.05" height="1.05" fill="#183be0"/>
<rect x="330.00" y="85.70" width="1.0" height="1.0" fill="#2233c8"/>
<rect x="311.00" y="86.70" width="1.05" height="1.05" fill="#183adf"/>
<rect x="312.00" y="86.70" width="1.05" height="1.05" fill="#1951e1"/>
<rect x="313.00" y="86.70" width="1.05" height="1.05" fill="#22b0bd"/>
<rect x="314.00" y="86.70" width="1.05" height="1.05" fill="#2cbc69"/>
<rect x="315.00" y="86.70" width="1.05" height="1.05" fill="#78d030"/>
<rect x="316.00" y="86.70" width="1.05" height="1.05" fill="#e7e51e"/>
<rect x="317.00" y="86.70" width="1.05" height="1.05" fill="#f1a517"/>
<rect x="318.00" y="86.70" width="1.05" height="1.05" fill="#f48514"/>
<rect x="319.00" y="86.70" width="1.05" height="1.05" fill="#ee5d13"/>
<rect x="320.00" y="86.70" width="1.05" height="1.05" fill="#f48a14"/>
<rect x="321.00" y="86.70" width="1.05" height="1.05" fill="#f48814"/>
<rect x="322.00" y="86.70" width="1.05" height="1.05" fill="#f48414"/>
<rect x="323.00" y="86.70" width="1.05" height="1.05" fill="#ebe41d"/>
<rect x="324.00" y="86.70" width="1.05" height="1.05" fill="#a7d928"/>
<rect x="325.00" y="86.70" width="1.05" height="1.05" fill="#31c241"/>
<rect x="326.00" y="86.70" width="1.05" height="1.05" fill="#25b2a8"/>
<rect x="327.00" y="86.70" width="1.05" height="1.05" fill="#1b77e3"/>
<rect x="328.00" y="86.70" width="1.05" height="1.05" fill="#1423cc"/>
<rect x="329.00" y="86.70" width="1.05" height="1.05" fill="#141fc8"/>
<rect x="332.00" y="86.70" width="1.0" height="1.0" fill="#2233c8"/>
<rect x="311.00" y="87.70" width="1.05" height="1.05" fill="#21adcb"/>
<rect x="312.00" y="87.70" width="1.05" height="1.05" fill="#2ebe58"/>
<rect x="313.00" y="87.70" width="1.05" height="1.05" fill="#87d32e"/>
<rect x="314.00" y="87.70" width="1.05" height="1.05" fill="#ecd31c"/>
<rect x="315.00" y="87.70" width="1.05" height="1.05" fill="#f48013"/>
<rect x="316.00" y="87.70" width="1.05" height="1.05" fill="#e94712"/>
<rect x="317.00" y="87.70" width="1.05" height="1.05" fill="#e22012"/>
<rect x="318.00" y="87.70" width="1.05" height="1.05" fill="#e11912"/>
<rect x="319.00" y="87.70" width="1.05" height="1.05" fill="#e11912"/>
<rect x="320.00" y="87.70" width="1.05" height="1.05" fill="#e11c12"/>
<rect x="321.00" y="87.70" width="1.05" height="1.05" fill="#e94612"/>
<rect x="322.00" y="87.70" width="1.05" height="1.05" fill="#f48514"/>
<rect x="323.00" y="87.70" width="1.05" height="1.05" fill="#e3e41f"/>
<rect x="324.00" y="87.70" width="1.05" height="1.05" fill="#52c936"/>
<rect x="325.00" y="87.70" width="1.05" height="1.05" fill="#2ab979"/>
<rect x="326.00" y="87.70" width="1.05" height="1.05" fill="#1c8be4"/>
<rect x="327.00" y="87.70" width="1.05" height="1.05" fill="#193de1"/>
<rect x="328.00" y="87.70" width="1.05" height="1.05" fill="#141ec8"/>
<rect x="311.00" y="88.70" width="1.05" height="1.05" fill="#86d32e"/>
<rect x="312.00" y="88.70" width="1.05" height="1.05" fill="#eec71a"/>
<rect x="313.00" y="88.70" width="1.05" height="1.05" fill="#f48b14"/>
<rect x="314.00" y="88.70" width="1.05" height="1.05" fill="#e11912"/>
<rect x="315.00" y="88.70" width="1.05" height="1.05" fill="#e11912"/>
<rect x="316.00" y="88.70" width="1.05" height="1.05" fill="#e11912"/>
<rect x="317.00" y="88.70" width="1.05" height="1.05" fill="#e11912"/>
<rect x="318.00" y="88.70" width="1.05" height="1.05" fill="#e11912"/>
<rect x="319.00" y="88.70" width="1.05" height="1.05" fill="#e11912"/>
<rect x="320.00" y="88.70" width="1.05" height="1.05" fill="#e11912"/>
<rect x="321.00" y="88.70" width="1.05" height="1.05" fill="#ec5613"/>
<rect x="322.00" y="88.70" width="1.05" height="1.05" fill="#efb419"/>
<rect x="323.00" y="88.70" width="1.05" height="1.05" fill="#b0da27"/>
<rect x="324.00" y="88.70" width="1.05" height="1.05" fill="#65cc33"/>
<rect x="325.00" y="88.70" width="1.05" height="1.05" fill="#1eaae3"/>
<rect x="326.00" y="88.70" width="1.05" height="1.05" fill="#1c81e4"/>
<rect x="327.00" y="88.70" width="1.05" height="1.05" fill="#1836dc"/>
<rect x="328.00" y="88.70" width="1.05" height="1.05" fill="#1525ce"/>
<rect x="329.00" y="88.70" width="1.0" height="1.0" fill="#2233c8"/>
<rect x="311.00" y="89.70" width="1.05" height="1.05" fill="#f29716"/>
<rect x="312.00" y="89.70" width="1.05" height="1.05" fill="#e42a12"/>
<rect x="313.00" y="89.70" width="1.05" height="1.05" fill="#e11912"/>
<rect x="314.00" y="89.70" width="1.05" height="1.05" fill="#e11912"/>
<rect x="315.00" y="89.70" width="1.05" height="1.05" fill="#e11912"/>
<rect x="316.00" y="89.70" width="1.05" height="1.05" fill="#e11912"/>
<rect x="317.00" y="89.70" width="1.05" height="1.05" fill="#e11912"/>
<rect x="318.00" y="89.70" width="1.05" height="1.05" fill="#e11912"/>
<rect x="319.00" y="89.70" width="1.05" height="1.05" fill="#e11912"/>
<rect x="320.00" y="89.70" width="1.05" height="1.05" fill="#ed5b13"/>
<rect x="321.00" y="89.70" width="1.05" height="1.05" fill="#f16e13"/>
<rect x="322.00" y="89.70" width="1.05" height="1.05" fill="#ebdd1d"/>
<rect x="323.00" y="89.70" width="1.05" height="1.05" fill="#41c539"/>
<rect x="324.00" y="89.70" width="1.05" height="1.05" fill="#23b0b8"/>
<rect x="325.00" y="89.70" width="1.05" height="1.05" fill="#1950e1"/>
<rect x="326.00" y="89.70" width="1.05" height="1.05" fill="#162cd4"/>
<rect x="327.00" y="89.70" width="1.05" height="1.05" fill="#1525ce"/>
<rect x="311.00" y="90.70" width="1.05" height="1.05" fill="#ee5f13"/>
<rect x="312.00" y="90.70" width="1.05" height="1.05" fill="#e11912"/>
<rect x="313.00" y="90.70" width="1.05" height="1.05" fill="#e11912"/>
<rect x="314.00" y="90.70" width="1.05" height="1.05" fill="#e11912"/>
<rect x="315.00" y="90.70" width="1.05" height="1.05" fill="#e11912"/>
<rect x="316.00" y="90.70" width="1.05" height="1.05" fill="#e11912"/>
<rect x="317.00" y="90.70" width="1.05" height="1.05" fill="#e11912"/>
<rect x="318.00" y="90.70" width="1.05" height="1.05" fill="#e11912"/>
<rect x="319.00" y="90.70" width="1.05" height="1.05" fill="#f48113"/>
<rect x="320.00" y="90.70" width="1.05" height="1.05" fill="#eec61a"/>
<rect x="321.00" y="90.70" width="1.05" height="1.05" fill="#78d030"/>
<rect x="322.00" y="90.70" width="1.05" height="1.05" fill="#2cbb6e"/>
<rect x="323.00" y="90.70" width="1.05" height="1.05" fill="#1a62e2"/>
<rect x="324.00" y="90.70" width="1.05" height="1.05" fill="#1b6de3"/>
<rect x="325.00" y="90.70" width="1.05" height="1.05" fill="#162cd4"/>
<rect x="326.00" y="90.70" width="1.0" height="1.0" fill="#2233c8"/>
<rect x="311.00" y="91.70" width="1.05" height="1.05" fill="#f06913"/>
<rect x="312.00" y="91.70" width="1.05" height="1.05" fill="#e63612"/>
<rect x="313.00" y="91.70" width="1.05" height="1.05" fill="#e63712"/>
<rect x="314.00" y="91.70" width="1.05" height="1.05" fill="#e11912"/>
<rect x="315.00" y="91.70" width="1.05" height="1.05" fill="#e73a12"/>
<rect x="316.00" y="91.70" width="1.05" height="1.05" fill="#e83f12"/>
<rect x="317.00" y="91.70" width="1.05" height="1.05" fill="#f47e13"/>
<rect x="318.00" y="91.70" width="1.05" height="1.05" fill="#edca1b"/>
<rect x="319.00" y="91.70" width="1.05" height="1.05" fill="#dee320"/>
<rect x="320.00" y="91.70" width="1.05" height="1.05" fill="#30c146"/>
<rect x="321.00" y="91.70" width="1.05" height="1.05" fill="#24b2aa"/>
<rect x="322.00" y="91.70" width="1.05" height="1.05" fill="#1838de"/>
<rect x="323.00" y="91.70" width="1.05" height="1.05" fill="#1529d1"/>
<rect x="324.00" y="91.70" width="1.05" height="1.05" fill="#1528d0"/>
<rect x="326.00" y="91.70" width="1.0" height="1.0" fill="#2233c8"/>
</g>
<g filter="url(#soft)">
<rect x="421.1" y="85.0" width="0.95" height="0.95" fill="#2630c0"/>
<rect x="400.9" y="90.1" width="0.95" height="0.95" fill="#3a48d0"/>
<rect x="401.7" y="87.6" width="0.95" height="0.95" fill="#1c22a8"/>
<rect x="425.1" y="84.7" width="0.95" height="0.95" fill="#2630c0"/>
<rect x="432.1" y="83.6" width="0.95" height="0.95" fill="#3a48d0"/>
<rect x="424.0" y="80.1" width="0.95" height="0.95" fill="#1c22a8"/>
<rect x="433.3" y="83.4" width="0.95" height="0.95" fill="#5060e0"/>
<rect x="415.6" y="86.9" width="0.95" height="0.95" fill="#2630c0"/>
<rect x="430.7" y="80.0" width="0.95" height="0.95" fill="#3a48d0"/>
<rect x="407.2" y="87.9" width="0.95" height="0.95" fill="#1c22a8"/>
<rect x="410.5" y="89.1" width="0.95" height="0.95" fill="#5060e0"/>
<rect x="417.7" y="79.7" width="0.95" height="0.95" fill="#2630c0"/>
<rect x="428.1" y="89.6" width="0.95" height="0.95" fill="#3a48d0"/>
<rect x="409.1" y="85.9" width="0.95" height="0.95" fill="#1c22a8"/>
<rect x="412.9" y="84.2" width="0.95" height="0.95" fill="#5060e0"/>
<rect x="407.7" y="89.3" width="0.95" height="0.95" fill="#2630c0"/>
<rect x="422.7" y="85.0" width="0.95" height="0.95" fill="#3a48d0"/>
<rect x="402.4" y="91.5" width="0.95" height="0.95" fill="#1c22a8"/>
<rect x="417.7" y="85.1" width="0.95" height="0.95" fill="#5060e0"/>
<rect x="430.0" y="86.9" width="0.95" height="0.95" fill="#2630c0"/>
<rect x="409.3" y="81.7" width="0.95" height="0.95" fill="#3a48d0"/>
<rect x="404.0" y="89.1" width="0.95" height="0.95" fill="#1c22a8"/>
<rect x="424.3" y="76.9" width="0.95" height="0.95" fill="#5060e0"/>
<rect x="425.3" y="77.5" width="0.95" height="0.95" fill="#2630c0"/>
<rect x="415.3" y="85.7" width="0.95" height="0.95" fill="#3a48d0"/>
<rect x="415.9" y="83.4" width="0.95" height="0.95" fill="#5060e0"/>
<rect x="427.3" y="84.6" width="0.95" height="0.95" fill="#2630c0"/>
<rect x="396.3" y="84.5" width="0.95" height="0.95" fill="#3a48d0"/>
<rect x="430.3" y="81.4" width="0.95" height="0.95" fill="#1c22a8"/>
<rect x="421.0" y="84.7" width="0.95" height="0.95" fill="#5060e0"/>
<rect x="424.5" y="85.0" width="0.95" height="0.95" fill="#2630c0"/>
<rect x="430.0" y="85.2" width="0.95" height="0.95" fill="#3a48d0"/>
<rect x="416.6" y="86.4" width="0.95" height="0.95" fill="#1c22a8"/>
<rect x="422.1" y="76.3" width="0.95" height="0.95" fill="#5060e0"/>
<rect x="421.6" y="80.5" width="0.95" height="0.95" fill="#2630c0"/>
<rect x="402.2" y="89.2" width="0.95" height="0.95" fill="#1c22a8"/>
<rect x="429.2" y="81.4" width="0.95" height="0.95" fill="#5060e0"/>
<rect x="402.3" y="90.3" width="0.95" height="0.95" fill="#2630c0"/>
<rect x="418.1" y="85.4" width="0.95" height="0.95" fill="#3a48d0"/>
<rect x="427.4" y="74.8" width="0.95" height="0.95" fill="#1c22a8"/>
<rect x="421.8" y="81.5" width="0.95" height="0.95" fill="#5060e0"/>
<rect x="412.8" y="86.3" width="0.95" height="0.95" fill="#2630c0"/>
<rect x="411.8" y="90.9" width="0.95" height="0.95" fill="#3a48d0"/>
<rect x="419.2" y="85.5" width="0.95" height="0.95" fill="#1c22a8"/>
<rect x="414.6" y="88.7" width="0.95" height="0.95" fill="#5060e0"/>
<rect x="434.6" y="84.7" width="0.95" height="0.95" fill="#2630c0"/>
<rect x="428.7" y="81.6" width="0.95" height="0.95" fill="#3a48d0"/>
<rect x="417.8" y="83.3" width="0.95" height="0.95" fill="#1c22a8"/>
<rect x="411.5" y="86.8" width="0.95" height="0.95" fill="#5060e0"/>
<rect x="436.2" y="85.7" width="0.95" height="0.95" fill="#2630c0"/>
<rect x="415.2" y="87.4" width="0.95" height="0.95" fill="#3a48d0"/>
<rect x="434.2" y="86.4" width="0.95" height="0.95" fill="#1c22a8"/>
<rect x="406.6" y="82.1" width="0.95" height="0.95" fill="#5060e0"/>
<rect x="424.9" y="83.6" width="0.95" height="0.95" fill="#2630c0"/>
<rect x="423.9" y="84.0" width="0.95" height="0.95" fill="#1c22a8"/>
<rect x="434.4" y="77.0" width="0.95" height="0.95" fill="#5060e0"/>
<rect x="424.7" y="79.2" width="0.95" height="0.95" fill="#2630c0"/>
<rect x="409.9" y="87.0" width="0.95" height="0.95" fill="#3a48d0"/>
<rect x="422.7" y="86.7" width="0.95" height="0.95" fill="#1c22a8"/>
<rect x="432.4" y="85.8" width="0.95" height="0.95" fill="#2630c0"/>
<rect x="410.4" y="82.5" width="0.95" height="0.95" fill="#3a48d0"/>
<rect x="410.1" y="86.8" width="0.95" height="0.95" fill="#1c22a8"/>
<rect x="414.7" y="87.0" width="0.95" height="0.95" fill="#5060e0"/>
<rect x="411.8" y="90.6" width="0.95" height="0.95" fill="#2630c0"/>
<rect x="419.7" y="82.5" width="0.95" height="0.95" fill="#1c22a8"/>
<rect x="411.4" y="91.8" width="0.95" height="0.95" fill="#5060e0"/>
<rect x="419.9" y="82.4" width="0.95" height="0.95" fill="#2630c0"/>
<rect x="402.0" y="89.6" width="0.95" height="0.95" fill="#3a48d0"/>
<rect x="404.2" y="90.8" width="0.95" height="0.95" fill="#1c22a8"/>
<rect x="428.9" y="80.4" width="0.95" height="0.95" fill="#5060e0"/>
<rect x="414.2" y="83.8" width="0.95" height="0.95" fill="#2630c0"/>
<rect x="410.9" y="86.8" width="0.95" height="0.95" fill="#3a48d0"/>
<rect x="421.9" y="81.0" width="0.95" height="0.95" fill="#1c22a8"/>
<rect x="400.0" y="91.5" width="0.95" height="0.95" fill="#5060e0"/>
<rect x="426.7" y="85.5" width="0.95" height="0.95" fill="#2630c0"/>
<rect x="408.8" y="86.3" width="0.95" height="0.95" fill="#3a48d0"/>
<rect x="399.9" y="86.2" width="0.95" height="0.95" fill="#1c22a8"/>
<rect x="419.4" y="90.1" width="0.95" height="0.95" fill="#5060e0"/>
<rect x="410.6" y="88.7" width="0.95" height="0.95" fill="#2630c0"/>
<rect x="414.5" y="82.7" width="0.95" height="0.95" fill="#3a48d0"/>
<rect x="405.1" y="90.5" width="0.95" height="0.95" fill="#1c22a8"/>
<rect x="412.5" y="84.9" width="0.95" height="0.95" fill="#5060e0"/>
<rect x="421.0" y="85.9" width="0.95" height="0.95" fill="#2630c0"/>
<rect x="406.1" y="90.2" width="0.95" height="0.95" fill="#3a48d0"/>
<rect x="423.2" y="87.8" width="0.95" height="0.95" fill="#1c22a8"/>
<rect x="424.2" y="87.4" width="0.95" height="0.95" fill="#5060e0"/>
<rect x="430.4" y="82.3" width="0.95" height="0.95" fill="#2630c0"/>
<rect x="413.8" y="92.0" width="0.95" height="0.95" fill="#3a48d0"/>
<rect x="400.4" y="89.0" width="0.95" height="0.95" fill="#1c22a8"/>
<rect x="416.0" y="89.7" width="0.95" height="0.95" fill="#5060e0"/>
<rect x="426.5" y="82.3" width="0.95" height="0.95" fill="#2630c0"/>
<rect x="427.9" y="81.8" width="0.95" height="0.95" fill="#3a48d0"/>
<rect x="423.5" y="80.7" width="0.95" height="0.95" fill="#1c22a8"/>
<rect x="434.4" y="78.0" width="0.95" height="0.95" fill="#5060e0"/>
<rect x="427.5" y="88.3" width="0.95" height="0.95" fill="#2630c0"/>
<rect x="413.0" y="85.0" width="0.95" height="0.95" fill="#3a48d0"/>
<rect x="435.3" y="79.5" width="0.95" height="0.95" fill="#1c22a8"/>
<rect x="416.2" y="85.6" width="0.95" height="0.95" fill="#5060e0"/>
<rect x="414.3" y="87.1" width="0.95" height="0.95" fill="#2630c0"/>
<rect x="428.2" y="79.4" width="0.95" height="0.95" fill="#3a48d0"/>
<rect x="404.6" y="91.7" width="0.95" height="0.95" fill="#1c22a8"/>
<rect x="406.7" y="90.6" width="0.95" height="0.95" fill="#5060e0"/>
<rect x="397.4" y="86.5" width="0.95" height="0.95" fill="#2630c0"/>
<rect x="412.7" y="83.2" width="0.95" height="0.95" fill="#3a48d0"/>
<rect x="418.9" y="86.2" width="0.95" height="0.95" fill="#1c22a8"/>
<rect x="409.7" y="87.9" width="0.95" height="0.95" fill="#5060e0"/>
<rect x="435.8" y="78.3" width="0.95" height="0.95" fill="#2630c0"/>
<rect x="408.6" y="90.5" width="0.95" height="0.95" fill="#3a48d0"/>
<rect x="430.3" y="85.7" width="0.95" height="0.95" fill="#1c22a8"/>
<rect x="435.4" y="77.5" width="0.95" height="0.95" fill="#5060e0"/>
<rect x="433.1" y="80.5" width="0.95" height="0.95" fill="#2630c0"/>
<rect x="415.4" y="85.1" width="0.95" height="0.95" fill="#3a48d0"/>
<rect x="428.4" y="87.0" width="0.95" height="0.95" fill="#1c22a8"/>
<rect x="436.1" y="83.8" width="0.95" height="0.95" fill="#5060e0"/>
<rect x="426.8" y="84.1" width="0.95" height="0.95" fill="#2630c0"/>
<rect x="403.2" y="89.4" width="0.95" height="0.95" fill="#1c22a8"/>
<rect x="408.0" y="87.2" width="0.95" height="0.95" fill="#5060e0"/>
<rect x="408.0" y="89.2" width="0.95" height="0.95" fill="#2630c0"/>
<rect x="432.8" y="78.8" width="0.95" height="0.95" fill="#3a48d0"/>
<rect x="405.3" y="89.2" width="0.95" height="0.95" fill="#1c22a8"/>
<rect x="417.2" y="87.3" width="0.95" height="0.95" fill="#5060e0"/>
<rect x="407.8" y="86.3" width="0.95" height="0.95" fill="#2630c0"/>
<rect x="426.4" y="84.2" width="0.95" height="0.95" fill="#3a48d0"/>
<rect x="408.6" y="87.1" width="0.95" height="0.95" fill="#1c22a8"/>
<rect x="418.6" y="79.8" width="0.95" height="0.95" fill="#5060e0"/>
<rect x="411.6" y="86.9" width="0.95" height="0.95" fill="#2630c0"/>
<rect x="421.0" y="87.0" width="0.95" height="0.95" fill="#3a48d0"/>
<rect x="421.4" y="82.9" width="0.95" height="0.95" fill="#1c22a8"/>
<rect x="400.9" y="87.3" width="0.95" height="0.95" fill="#5060e0"/>
<rect x="399.4" y="83.1" width="0.95" height="0.95" fill="#3a48d0"/>
<rect x="426.3" y="75.0" width="0.95" height="0.95" fill="#1c22a8"/>
<rect x="433.2" y="81.9" width="0.95" height="0.95" fill="#5060e0"/>
<rect x="405.6" y="89.1" width="0.95" height="0.95" fill="#2630c0"/>
<rect x="410.1" y="84.5" width="0.95" height="0.95" fill="#3a48d0"/>
<rect x="431.0" y="81.4" width="0.95" height="0.95" fill="#1c22a8"/>
<rect x="413.5" y="82.3" width="0.95" height="0.95" fill="#5060e0"/>
<rect x="433.3" y="82.6" width="0.95" height="0.95" fill="#2630c0"/>
<rect x="433.6" y="83.3" width="0.95" height="0.95" fill="#3a48d0"/>
<rect x="434.5" y="75.4" width="0.95" height="0.95" fill="#1c22a8"/>
<rect x="400.6" y="85.7" width="0.95" height="0.95" fill="#5060e0"/>
<rect x="407.9" y="88.1" width="0.95" height="0.95" fill="#3a48d0"/>
<rect x="424.5" y="89.7" width="0.95" height="0.95" fill="#1c22a8"/>
<rect x="428.3" y="82.6" width="0.95" height="0.95" fill="#5060e0"/>
<rect x="411.7" y="84.2" width="0.95" height="0.95" fill="#2630c0"/>
<rect x="421.7" y="84.3" width="0.95" height="0.95" fill="#3a48d0"/>
<rect x="406.2" y="91.2" width="0.95" height="0.95" fill="#1c22a8"/>
<rect x="424.4" y="79.3" width="0.95" height="0.95" fill="#5060e0"/>
<rect x="412.3" y="90.4" width="0.95" height="0.95" fill="#2630c0"/>
<rect x="405.0" y="90.4" width="0.95" height="0.95" fill="#1c22a8"/>
<rect x="435.4" y="79.0" width="0.95" height="0.95" fill="#5060e0"/>
<rect x="434.2" y="84.5" width="0.95" height="0.95" fill="#2630c0"/>
<rect x="420.4" y="87.0" width="0.95" height="0.95" fill="#3a48d0"/>
<rect x="424.0" y="83.7" width="0.95" height="0.95" fill="#1c22a8"/>
<rect x="402.0" y="92.9" width="0.95" height="0.95" fill="#5060e0"/>
<rect x="431.1" y="82.3" width="0.95" height="0.95" fill="#2630c0"/>
<rect x="417.8" y="83.7" width="0.95" height="0.95" fill="#3a48d0"/>
<rect x="429.3" y="82.3" width="0.95" height="0.95" fill="#1c22a8"/>
<rect x="436.8" y="81.7" width="0.95" height="0.95" fill="#5060e0"/>
<rect x="414.9" y="82.1" width="0.95" height="0.95" fill="#2630c0"/>
<rect x="429.4" y="81.6" width="0.95" height="0.95" fill="#3a48d0"/>
<rect x="424.8" y="85.0" width="0.95" height="0.95" fill="#1c22a8"/>
<rect x="432.0" y="85.8" width="0.95" height="0.95" fill="#5060e0"/>
<rect x="431.1" y="84.1" width="0.95" height="0.95" fill="#2630c0"/>
<rect x="428.9" y="84.2" width="0.95" height="0.95" fill="#3a48d0"/>
<rect x="426.7" y="88.1" width="0.95" height="0.95" fill="#1c22a8"/>
<rect x="426.3" y="81.8" width="0.95" height="0.95" fill="#5060e0"/>
<rect x="407.2" y="85.9" width="0.95" height="0.95" fill="#2630c0"/>
<rect x="433.7" y="83.1" width="0.95" height="0.95" fill="#3a48d0"/>
<rect x="399.9" y="89.3" width="0.95" height="0.95" fill="#1c22a8"/>
<rect x="407.8" y="92.2" width="0.95" height="0.95" fill="#5060e0"/>
<rect x="421.9" y="86.0" width="0.95" height="0.95" fill="#2630c0"/>
<rect x="435.8" y="75.2" width="0.95" height="0.95" fill="#3a48d0"/>
<rect x="413.1" y="85.4" width="0.95" height="0.95" fill="#1c22a8"/>
<rect x="428.8" y="83.3" width="0.95" height="0.95" fill="#5060e0"/>
<rect x="417.0" y="85.2" width="0.95" height="0.95" fill="#2630c0"/>
<rect x="423.0" y="78.2" width="0.95" height="0.95" fill="#3a48d0"/>
<rect x="424.8" y="87.8" width="0.95" height="0.95" fill="#1c22a8"/>
<rect x="409.8" y="91.0" width="0.95" height="0.95" fill="#5060e0"/>
<rect x="418.9" y="83.2" width="0.95" height="0.95" fill="#2630c0"/>
<rect x="426.0" y="85.6" width="0.95" height="0.95" fill="#3a48d0"/>
<rect x="410.1" y="88.7" width="0.95" height="0.95" fill="#1c22a8"/>
<rect x="436.2" y="81.4" width="0.95" height="0.95" fill="#5060e0"/>
<rect x="408.4" y="90.0" width="0.95" height="0.95" fill="#2630c0"/>
<rect x="410.8" y="90.1" width="0.95" height="0.95" fill="#3a48d0"/>
<rect x="413.5" y="88.0" width="0.95" height="0.95" fill="#1c22a8"/>
<rect x="404.5" y="88.9" width="0.95" height="0.95" fill="#5060e0"/>
<rect x="430.9" y="81.0" width="0.95" height="0.95" fill="#2630c0"/>
<rect x="422.1" y="80.5" width="0.95" height="0.95" fill="#3a48d0"/>
<rect x="410.6" y="92.9" width="0.95" height="0.95" fill="#1c22a8"/>
<rect x="430.1" y="76.9" width="0.95" height="0.95" fill="#5060e0"/>
<rect x="417.1" y="82.4" width="0.95" height="0.95" fill="#2630c0"/>
<rect x="408.6" y="88.9" width="0.95" height="0.95" fill="#3a48d0"/>
<rect x="403.6" y="92.3" width="0.95" height="0.95" fill="#1c22a8"/>
<rect x="412.7" y="85.1" width="0.95" height="0.95" fill="#5060e0"/>
<rect x="422.1" y="83.8" width="0.95" height="0.95" fill="#2630c0"/>
<rect x="423.0" y="84.0" width="0.95" height="0.95" fill="#1c22a8"/>
<rect x="438.2" y="80.2" width="0.95" height="0.95" fill="#5060e0"/>
<rect x="434.1" y="83.2" width="0.95" height="0.95" fill="#2630c0"/>
<rect x="419.8" y="88.1" width="0.95" height="0.95" fill="#3a48d0"/>
<rect x="431.9" y="79.2" width="0.95" height="0.95" fill="#1c22a8"/>
<rect x="421.9" y="87.9" width="0.95" height="0.95" fill="#5060e0"/>
<rect x="416.2" y="85.9" width="0.95" height="0.95" fill="#2630c0"/>
<rect x="433.5" y="82.0" width="0.95" height="0.95" fill="#3a48d0"/>
<rect x="408.0" y="91.2" width="0.95" height="0.95" fill="#1c22a8"/>
<rect x="418.2" y="90.3" width="0.95" height="0.95" fill="#5060e0"/>
<rect x="407.0" y="85.7" width="0.95" height="0.95" fill="#2630c0"/>
<rect x="402.9" y="88.6" width="0.95" height="0.95" fill="#3a48d0"/>
<rect x="421.8" y="86.4" width="0.95" height="0.95" fill="#1c22a8"/>
<rect x="432.1" y="78.8" width="0.95" height="0.95" fill="#5060e0"/>
<rect x="403.8" y="92.2" width="0.95" height="0.95" fill="#2630c0"/>
<rect x="430.6" y="85.9" width="0.95" height="0.95" fill="#3a48d0"/>
<rect x="411.7" y="90.6" width="0.95" height="0.95" fill="#1c22a8"/>
<rect x="434.4" y="84.2" width="0.95" height="0.95" fill="#5060e0"/>
<rect x="428.1" y="83.2" width="0.95" height="0.95" fill="#2630c0"/>
<rect x="411.8" y="87.0" width="0.95" height="0.95" fill="#3a48d0"/>
<rect x="434.2" y="81.0" width="0.95" height="0.95" fill="#1c22a8"/>
<rect x="417.1" y="88.1" width="0.95" height="0.95" fill="#5060e0"/>
<rect x="412.4" y="88.5" width="0.95" height="0.95" fill="#2630c0"/>
<rect x="433.1" y="77.9" width="0.95" height="0.95" fill="#3a48d0"/>
<rect x="417.9" y="88.2" width="0.95" height="0.95" fill="#1c22a8"/>
<rect x="419.0" y="85.0" width="0.95" height="0.95" fill="#5060e0"/>
<rect x="397.6" y="90.8" width="0.95" height="0.95" fill="#2630c0"/>
<rect x="434.3" y="86.7" width="0.95" height="0.95" fill="#3a48d0"/>
<rect x="402.6" y="85.8" width="0.95" height="0.95" fill="#1c22a8"/>
<rect x="436.9" y="78.8" width="0.95" height="0.95" fill="#5060e0"/>
<rect x="414.9" y="85.7" width="0.95" height="0.95" fill="#2630c0"/>
<rect x="424.5" y="81.1" width="0.95" height="0.95" fill="#3a48d0"/>
<rect x="430.1" y="86.3" width="0.95" height="0.95" fill="#1c22a8"/>
<rect x="432.7" y="81.8" width="0.95" height="0.95" fill="#5060e0"/>
<rect x="410.5" y="87.1" width="0.95" height="0.95" fill="#2630c0"/>
<rect x="430.1" y="78.3" width="0.95" height="0.95" fill="#3a48d0"/>
<rect x="430.7" y="81.0" width="0.95" height="0.95" fill="#1c22a8"/>
<rect x="429.5" y="81.2" width="0.95" height="0.95" fill="#5060e0"/>
<rect x="406.4" y="87.9" width="0.95" height="0.95" fill="#3a48d0"/>
<rect x="404.3" y="92.0" width="0.95" height="0.95" fill="#1c22a8"/>
<rect x="435.7" y="86.1" width="0.95" height="0.95" fill="#5060e0"/>
<rect x="418.8" y="80.6" width="0.95" height="0.95" fill="#2630c0"/>
<rect x="431.7" y="84.0" width="0.95" height="0.95" fill="#3a48d0"/>
<rect x="429.9" y="85.5" width="0.95" height="0.95" fill="#1c22a8"/>
<rect x="403.1" y="91.4" width="0.95" height="0.95" fill="#5060e0"/>
<rect x="422.7" y="87.6" width="0.95" height="0.95" fill="#2630c0"/>
<rect x="407.7" y="85.3" width="0.95" height="0.95" fill="#3a48d0"/>
<rect x="409.1" y="91.2" width="0.95" height="0.95" fill="#1c22a8"/>
<rect x="413.2" y="90.3" width="0.95" height="0.95" fill="#5060e0"/>
<rect x="428.7" y="85.4" width="0.95" height="0.95" fill="#2630c0"/>
<rect x="430.0" y="77.3" width="0.95" height="0.95" fill="#3a48d0"/>
<rect x="415.7" y="84.4" width="0.95" height="0.95" fill="#1c22a8"/>
<rect x="426.0" y="82.4" width="0.95" height="0.95" fill="#5060e0"/>
<rect x="428.8" y="83.2" width="0.95" height="0.95" fill="#2630c0"/>
<rect x="406.5" y="91.5" width="0.95" height="0.95" fill="#3a48d0"/>
<rect x="421.1" y="81.1" width="0.95" height="0.95" fill="#1c22a8"/>
<rect x="420.6" y="89.0" width="0.95" height="0.95" fill="#5060e0"/>
<rect x="426.8" y="83.0" width="0.95" height="0.95" fill="#2630c0"/>
<rect x="431.1" y="83.2" width="0.95" height="0.95" fill="#3a48d0"/>
<rect x="416.3" y="84.6" width="0.95" height="0.95" fill="#1c22a8"/>
<rect x="403.8" y="88.7" width="0.95" height="0.95" fill="#5060e0"/>
<rect x="405.9" y="86.0" width="0.95" height="0.95" fill="#2630c0"/>
<rect x="416.5" y="89.2" width="0.95" height="0.95" fill="#3a48d0"/>
<rect x="406.3" y="88.5" width="0.95" height="0.95" fill="#1c22a8"/>
<rect x="420.1" y="86.8" width="0.95" height="0.95" fill="#5060e0"/>
<rect x="409.8" y="87.0" width="0.95" height="0.95" fill="#2630c0"/>
<rect x="430.1" y="82.3" width="0.95" height="0.95" fill="#3a48d0"/>
<rect x="416.5" y="86.0" width="0.95" height="0.95" fill="#1c22a8"/>
<rect x="419.9" y="86.6" width="0.95" height="0.95" fill="#5060e0"/>
<rect x="427.0" y="83.1" width="0.95" height="0.95" fill="#2630c0"/>
<rect x="412.5" y="81.7" width="0.95" height="0.95" fill="#3a48d0"/>
<rect x="423.7" y="77.9" width="0.95" height="0.95" fill="#1c22a8"/>
<rect x="414.3" y="87.1" width="0.95" height="0.95" fill="#5060e0"/>
<rect x="430.2" y="86.4" width="0.95" height="0.95" fill="#2630c0"/>
<rect x="410.2" y="86.8" width="0.95" height="0.95" fill="#3a48d0"/>
<rect x="425.9" y="78.4" width="0.95" height="0.95" fill="#1c22a8"/>
<rect x="421.4" y="89.2" width="0.95" height="0.95" fill="#5060e0"/>
<rect x="419.6" y="84.1" width="0.95" height="0.95" fill="#2630c0"/>
<rect x="420.1" y="85.7" width="0.95" height="0.95" fill="#3a48d0"/>
<rect x="429.8" y="82.9" width="0.95" height="0.95" fill="#1c22a8"/>
<rect x="404.1" y="86.9" width="0.95" height="0.95" fill="#5060e0"/>
<rect x="422.2" y="79.7" width="0.95" height="0.95" fill="#2630c0"/>
<rect x="417.8" y="90.3" width="0.95" height="0.95" fill="#3a48d0"/>
<rect x="408.0" y="89.3" width="0.95" height="0.95" fill="#1c22a8"/>
<rect x="424.9" y="88.7" width="0.95" height="0.95" fill="#5060e0"/>
<rect x="413.1" y="87.6" width="0.95" height="0.95" fill="#2630c0"/>
<rect x="416.6" y="87.5" width="0.95" height="0.95" fill="#3a48d0"/>
<rect x="404.8" y="86.7" width="0.95" height="0.95" fill="#1c22a8"/>
<rect x="408.2" y="81.5" width="0.95" height="0.95" fill="#5060e0"/>
<rect x="437.6" y="75.6" width="0.95" height="0.95" fill="#2630c0"/>
<rect x="412.0" y="84.5" width="0.95" height="0.95" fill="#3a48d0"/>
<rect x="418.8" y="87.0" width="0.95" height="0.95" fill="#1c22a8"/>
<rect x="422.2" y="84.7" width="0.95" height="0.95" fill="#5060e0"/>
<rect x="410.5" y="87.9" width="0.95" height="0.95" fill="#2630c0"/>
<rect x="415.2" y="86.1" width="0.95" height="0.95" fill="#3a48d0"/>
<rect x="409.7" y="88.3" width="0.95" height="0.95" fill="#1c22a8"/>
<rect x="424.8" y="87.4" width="0.95" height="0.95" fill="#5060e0"/>
<rect x="428.4" y="87.0" width="0.95" height="0.95" fill="#2630c0"/>
<rect x="426.3" y="85.7" width="0.95" height="0.95" fill="#3a48d0"/>
<rect x="433.6" y="80.1" width="0.95" height="0.95" fill="#1c22a8"/>
<rect x="429.4" y="75.5" width="0.95" height="0.95" fill="#5060e0"/>
<rect x="421.0" y="89.1" width="0.95" height="0.95" fill="#2630c0"/>
<rect x="413.8" y="89.2" width="0.95" height="0.95" fill="#3a48d0"/>
<rect x="431.8" y="82.7" width="0.95" height="0.95" fill="#1c22a8"/>
<rect x="434.1" y="77.7" width="0.95" height="0.95" fill="#5060e0"/>
<rect x="416.6" y="83.4" width="0.95" height="0.95" fill="#2630c0"/>
<rect x="409.2" y="89.0" width="0.95" height="0.95" fill="#3a48d0"/>
<rect x="424.6" y="84.5" width="0.95" height="0.95" fill="#1c22a8"/>
<rect x="430.5" y="78.3" width="0.95" height="0.95" fill="#5060e0"/>
<rect x="404.6" y="87.1" width="0.95" height="0.95" fill="#2630c0"/>
<rect x="432.5" y="83.7" width="0.95" height="0.95" fill="#3a48d0"/>
<rect x="417.8" y="87.0" width="0.95" height="0.95" fill="#1c22a8"/>
<rect x="422.0" y="82.4" width="0.95" height="0.95" fill="#5060e0"/>
<rect x="412.7" y="89.9" width="0.95" height="0.95" fill="#2630c0"/>
<rect x="431.6" y="79.7" width="0.95" height="0.95" fill="#3a48d0"/>
<rect x="412.4" y="86.0" width="0.95" height="0.95" fill="#1c22a8"/>
<rect x="421.0" y="85.8" width="0.95" height="0.95" fill="#5060e0"/>
<rect x="420.2" y="81.0" width="0.95" height="0.95" fill="#2630c0"/>
<rect x="416.9" y="84.5" width="0.95" height="0.95" fill="#3a48d0"/>
<rect x="417.1" y="91.9" width="0.95" height="0.95" fill="#1c22a8"/>
<rect x="426.7" y="82.1" width="0.95" height="0.95" fill="#5060e0"/>
<rect x="411.7" y="87.9" width="0.95" height="0.95" fill="#2630c0"/>
<rect x="432.6" y="75.3" width="0.95" height="0.95" fill="#3a48d0"/>
<rect x="434.5" y="83.6" width="0.95" height="0.95" fill="#5060e0"/>
<rect x="407.9" y="87.1" width="0.95" height="0.95" fill="#2630c0"/>
<rect x="420.4" y="78.7" width="0.95" height="0.95" fill="#1c22a8"/>
<rect x="436.0" y="81.6" width="0.95" height="0.95" fill="#5060e0"/>
<rect x="424.1" y="80.7" width="0.95" height="0.95" fill="#2630c0"/>
<rect x="403.9" y="90.8" width="0.95" height="0.95" fill="#3a48d0"/>
<rect x="405.4" y="85.7" width="0.95" height="0.95" fill="#1c22a8"/>
<rect x="422.4" y="87.9" width="0.95" height="0.95" fill="#5060e0"/>
<rect x="428.4" y="75.8" width="0.95" height="0.95" fill="#2630c0"/>
<rect x="430.2" y="77.3" width="0.95" height="0.95" fill="#3a48d0"/>
<rect x="422.0" y="82.6" width="0.95" height="0.95" fill="#1c22a8"/>
<rect x="434.0" y="73.0" width="0.95" height="0.95" fill="#5060e0"/>
<rect x="436.6" y="82.7" width="0.95" height="0.95" fill="#2630c0"/>
<rect x="423.3" y="86.8" width="0.95" height="0.95" fill="#3a48d0"/>
<rect x="411.4" y="88.8" width="0.95" height="0.95" fill="#1c22a8"/>
<rect x="429.5" y="81.6" width="0.95" height="0.95" fill="#5060e0"/>
<rect x="401.8" y="82.6" width="0.95" height="0.95" fill="#2630c0"/>
<rect x="411.1" y="86.4" width="0.95" height="0.95" fill="#3a48d0"/>
<rect x="422.0" y="87.2" width="0.95" height="0.95" fill="#1c22a8"/>
<rect x="412.9" y="88.3" width="0.95" height="0.95" fill="#5060e0"/>
<rect x="433.2" y="82.5" width="0.95" height="0.95" fill="#2630c0"/>
<rect x="420.2" y="78.9" width="0.95" height="0.95" fill="#3a48d0"/>
<rect x="415.3" y="87.6" width="0.95" height="0.95" fill="#1c22a8"/>
<rect x="430.1" y="75.8" width="0.95" height="0.95" fill="#2630c0"/>
<rect x="416.4" y="85.0" width="0.95" height="0.95" fill="#3a48d0"/>
<rect x="403.8" y="88.9" width="0.95" height="0.95" fill="#1c22a8"/>
<rect x="418.8" y="82.6" width="0.95" height="0.95" fill="#5060e0"/>
<rect x="409.1" y="89.5" width="0.95" height="0.95" fill="#2630c0"/>
<rect x="402.6" y="91.6" width="0.95" height="0.95" fill="#3a48d0"/>
<rect x="417.3" y="83.5" width="0.95" height="0.95" fill="#5060e0"/>
<rect x="406.3" y="85.9" width="0.95" height="0.95" fill="#2630c0"/>
<rect x="418.0" y="83.3" width="0.95" height="0.95" fill="#3a48d0"/>
<rect x="432.0" y="82.7" width="0.95" height="0.95" fill="#1c22a8"/>
<rect x="425.3" y="81.7" width="0.95" height="0.95" fill="#5060e0"/>
<rect x="411.7" y="83.9" width="0.95" height="0.95" fill="#2630c0"/>
<rect x="426.4" y="86.9" width="0.95" height="0.95" fill="#3a48d0"/>
<rect x="424.3" y="81.7" width="0.95" height="0.95" fill="#1c22a8"/>
<rect x="407.5" y="87.0" width="0.95" height="0.95" fill="#5060e0"/>
<rect x="428.5" y="79.5" width="0.95" height="0.95" fill="#2630c0"/>
<rect x="407.3" y="86.5" width="0.95" height="0.95" fill="#3a48d0"/>
<rect x="428.5" y="80.8" width="0.95" height="0.95" fill="#1c22a8"/>
<rect x="413.0" y="84.4" width="0.95" height="0.95" fill="#5060e0"/>
<rect x="414.5" y="87.2" width="0.95" height="0.95" fill="#2630c0"/>
<rect x="424.0" y="79.8" width="0.95" height="0.95" fill="#3a48d0"/>
<rect x="402.6" y="93.1" width="0.95" height="0.95" fill="#1c22a8"/>
<rect x="424.5" y="80.1" width="0.95" height="0.95" fill="#5060e0"/>
<rect x="421.8" y="84.8" width="0.95" height="0.95" fill="#2630c0"/>
<rect x="411.1" y="87.1" width="0.95" height="0.95" fill="#3a48d0"/>
<rect x="407.4" y="81.5" width="0.95" height="0.95" fill="#1c22a8"/>
<rect x="417.4" y="87.7" width="0.95" height="0.95" fill="#5060e0"/>
<rect x="432.5" y="83.1" width="0.95" height="0.95" fill="#2630c0"/>
<rect x="413.4" y="83.9" width="0.95" height="0.95" fill="#3a48d0"/>
<rect x="412.8" y="83.9" width="0.95" height="0.95" fill="#1c22a8"/>
<rect x="423.6" y="83.6" width="0.95" height="0.95" fill="#5060e0"/>
<rect x="417.5" y="81.0" width="0.95" height="0.95" fill="#2630c0"/>
<rect x="431.4" y="79.8" width="0.95" height="0.95" fill="#3a48d0"/>
<rect x="422.3" y="83.2" width="0.95" height="0.95" fill="#1c22a8"/>
<rect x="424.4" y="87.8" width="0.95" height="0.95" fill="#5060e0"/>
<rect x="420.9" y="82.9" width="0.95" height="0.95" fill="#2630c0"/>
<rect x="422.3" y="82.0" width="0.95" height="0.95" fill="#3a48d0"/>
<rect x="433.0" y="80.5" width="0.95" height="0.95" fill="#1c22a8"/>
<rect x="431.9" y="84.0" width="0.95" height="0.95" fill="#5060e0"/>
<rect x="409.2" y="86.8" width="0.95" height="0.95" fill="#2630c0"/>
<rect x="408.5" y="91.0" width="0.95" height="0.95" fill="#3a48d0"/>
<rect x="416.2" y="78.7" width="0.95" height="0.95" fill="#1c22a8"/>
<rect x="433.4" y="86.2" width="0.95" height="0.95" fill="#5060e0"/>
<rect x="426.0" y="85.8" width="0.95" height="0.95" fill="#3a48d0"/>
<rect x="428.7" y="79.9" width="0.95" height="0.95" fill="#1c22a8"/>
<rect x="409.7" y="81.0" width="0.95" height="0.95" fill="#2630c0"/>
<rect x="429.8" y="79.7" width="0.95" height="0.95" fill="#3a48d0"/>
<rect x="414.2" y="85.6" width="0.95" height="0.95" fill="#1c22a8"/>
<rect x="435.7" y="80.2" width="0.95" height="0.95" fill="#5060e0"/>
<rect x="428.4" y="83.7" width="0.95" height="0.95" fill="#2630c0"/>
<rect x="406.1" y="92.0" width="0.95" height="0.95" fill="#3a48d0"/>
<rect x="421.6" y="83.6" width="0.95" height="0.95" fill="#1c22a8"/>
<rect x="429.6" y="79.2" width="0.95" height="0.95" fill="#5060e0"/>
<rect x="416.9" y="88.5" width="0.95" height="0.95" fill="#2630c0"/>
<rect x="428.7" y="87.2" width="0.95" height="0.95" fill="#3a48d0"/>
<rect x="410.7" y="88.0" width="0.95" height="0.95" fill="#1c22a8"/>
<rect x="421.1" y="83.3" width="0.95" height="0.95" fill="#5060e0"/>
<rect x="416.6" y="91.9" width="0.95" height="0.95" fill="#2630c0"/>
<rect x="430.9" y="78.6" width="0.95" height="0.95" fill="#3a48d0"/>
<rect x="413.3" y="85.6" width="0.95" height="0.95" fill="#1c22a8"/>
<rect x="402.2" y="91.7" width="0.95" height="0.95" fill="#5060e0"/>
<rect x="434.8" y="83.8" width="0.95" height="0.95" fill="#2630c0"/>
<rect x="413.3" y="84.4" width="0.95" height="0.95" fill="#3a48d0"/>
<rect x="427.8" y="84.2" width="0.95" height="0.95" fill="#1c22a8"/>
<rect x="411.0" y="89.9" width="0.95" height="0.95" fill="#5060e0"/>
<rect x="400.6" y="86.9" width="0.95" height="0.95" fill="#2630c0"/>
<rect x="411.3" y="90.6" width="0.95" height="0.95" fill="#3a48d0"/>
<rect x="426.2" y="82.0" width="0.95" height="0.95" fill="#1c22a8"/>
<rect x="413.8" y="87.2" width="0.95" height="0.95" fill="#5060e0"/>
<rect x="402.9" y="86.3" width="0.95" height="0.95" fill="#2630c0"/>
<rect x="401.0" y="87.1" width="0.95" height="0.95" fill="#3a48d0"/>
<rect x="407.1" y="87.5" width="0.95" height="0.95" fill="#1c22a8"/>
<rect x="411.9" y="89.8" width="0.95" height="0.95" fill="#5060e0"/>
<rect x="416.4" y="85.3" width="0.95" height="0.95" fill="#2630c0"/>
<rect x="435.3" y="82.7" width="0.95" height="0.95" fill="#1c22a8"/>
<rect x="407.2" y="86.1" width="0.95" height="0.95" fill="#5060e0"/>
<rect x="399.8" y="90.1" width="0.95" height="0.95" fill="#2630c0"/>
<rect x="409.5" y="88.5" width="0.95" height="0.95" fill="#3a48d0"/>
<rect x="439.3" y="82.4" width="0.95" height="0.95" fill="#1c22a8"/>
<rect x="408.5" y="91.2" width="0.95" height="0.95" fill="#5060e0"/>
<rect x="399.3" y="84.7" width="0.95" height="0.95" fill="#2630c0"/>
<rect x="410.2" y="88.5" width="0.95" height="0.95" fill="#3a48d0"/>
<rect x="421.3" y="86.4" width="0.95" height="0.95" fill="#1c22a8"/>
<rect x="403.5" y="87.9" width="0.95" height="0.95" fill="#5060e0"/>
<rect x="430.2" y="88.3" width="0.95" height="0.95" fill="#3a48d0"/>
<rect x="424.4" y="83.0" width="0.95" height="0.95" fill="#1c22a8"/>
<rect x="428.4" y="76.8" width="0.95" height="0.95" fill="#5060e0"/>
<rect x="413.0" y="89.5" width="0.95" height="0.95" fill="#2630c0"/>
<rect x="412.7" y="88.6" width="0.95" height="0.95" fill="#3a48d0"/>
<rect x="409.0" y="92.6" width="0.95" height="0.95" fill="#1c22a8"/>
<rect x="397.8" y="88.6" width="0.95" height="0.95" fill="#5060e0"/>
<rect x="430.3" y="79.8" width="0.95" height="0.95" fill="#2630c0"/>
<rect x="416.9" y="85.5" width="0.95" height="0.95" fill="#3a48d0"/>
<rect x="411.3" y="82.5" width="0.95" height="0.95" fill="#1c22a8"/>
<rect x="413.8" y="79.7" width="0.95" height="0.95" fill="#5060e0"/>
<rect x="434.0" y="83.5" width="0.95" height="0.95" fill="#2630c0"/>
<rect x="431.3" y="82.1" width="0.95" height="0.95" fill="#3a48d0"/>
<rect x="422.7" y="85.9" width="0.95" height="0.95" fill="#1c22a8"/>
<rect x="416.7" y="85.6" width="0.95" height="0.95" fill="#5060e0"/>
<rect x="416.2" y="82.2" width="0.95" height="0.95" fill="#2630c0"/>
<rect x="430.4" y="84.7" width="0.95" height="0.95" fill="#3a48d0"/>
<rect x="419.7" y="88.5" width="0.95" height="0.95" fill="#1c22a8"/>
<rect x="439.2" y="80.8" width="0.95" height="0.95" fill="#5060e0"/>
<rect x="408.5" y="87.2" width="0.95" height="0.95" fill="#2630c0"/>
<rect x="415.6" y="85.4" width="0.95" height="0.95" fill="#3a48d0"/>
<rect x="414.3" y="88.7" width="0.95" height="0.95" fill="#5060e0"/>
<rect x="408.7" y="88.8" width="0.95" height="0.95" fill="#2630c0"/>
<rect x="399.8" y="87.9" width="0.95" height="0.95" fill="#3a48d0"/>
<rect x="427.6" y="87.5" width="0.95" height="0.95" fill="#1c22a8"/>
<rect x="408.9" y="88.3" width="0.95" height="0.95" fill="#5060e0"/>
<rect x="421.3" y="87.3" width="0.95" height="0.95" fill="#2630c0"/>
<rect x="428.7" y="83.3" width="0.95" height="0.95" fill="#3a48d0"/>
<rect x="420.2" y="85.7" width="0.95" height="0.95" fill="#1c22a8"/>
<rect x="411.4" y="89.1" width="0.95" height="0.95" fill="#5060e0"/>
<rect x="405.8" y="87.7" width="0.95" height="0.95" fill="#2630c0"/>
<rect x="416.6" y="86.8" width="0.95" height="0.95" fill="#3a48d0"/>
<rect x="410.7" y="87.2" width="0.95" height="0.95" fill="#1c22a8"/>
<rect x="432.9" y="83.7" width="0.95" height="0.95" fill="#5060e0"/>
<rect x="407.3" y="84.4" width="0.95" height="0.95" fill="#2630c0"/>
<rect x="423.3" y="83.9" width="0.95" height="0.95" fill="#3a48d0"/>
<rect x="430.6" y="76.1" width="0.95" height="0.95" fill="#1c22a8"/>
<rect x="424.0" y="85.3" width="0.95" height="0.95" fill="#5060e0"/>
<rect x="423.1" y="84.5" width="0.95" height="0.95" fill="#2630c0"/>
<rect x="416.7" y="87.6" width="0.95" height="0.95" fill="#3a48d0"/>
<rect x="423.8" y="85.9" width="0.95" height="0.95" fill="#1c22a8"/>
<rect x="405.1" y="91.0" width="0.95" height="0.95" fill="#5060e0"/>
<rect x="404.4" y="91.3" width="0.95" height="0.95" fill="#2630c0"/>
<rect x="419.0" y="80.1" width="0.95" height="0.95" fill="#3a48d0"/>
<rect x="400.1" y="90.9" width="0.95" height="0.95" fill="#1c22a8"/>
<rect x="401.3" y="89.2" width="0.95" height="0.95" fill="#5060e0"/>
<rect x="427.6" y="86.8" width="0.95" height="0.95" fill="#2630c0"/>
<rect x="420.5" y="88.1" width="0.95" height="0.95" fill="#3a48d0"/>
<rect x="403.2" y="89.8" width="0.95" height="0.95" fill="#5060e0"/>
<rect x="417.1" y="81.1" width="0.95" height="0.95" fill="#2630c0"/>
<rect x="412.4" y="90.3" width="0.95" height="0.95" fill="#3a48d0"/>
<rect x="432.5" y="77.5" width="0.95" height="0.95" fill="#1c22a8"/>
<rect x="399.0" y="88.5" width="0.95" height="0.95" fill="#5060e0"/>
<rect x="427.5" y="88.2" width="0.95" height="0.95" fill="#2630c0"/>
<rect x="404.5" y="85.4" width="0.95" height="0.95" fill="#3a48d0"/>
<rect x="439.0" y="84.0" width="0.95" height="0.95" fill="#1c22a8"/>
<rect x="419.4" y="84.2" width="0.95" height="0.95" fill="#2630c0"/>
<rect x="425.3" y="78.7" width="0.95" height="0.95" fill="#3a48d0"/>
<rect x="425.5" y="82.4" width="0.95" height="0.95" fill="#1c22a8"/>
<rect x="430.1" y="88.5" width="0.95" height="0.95" fill="#2630c0"/>
<rect x="416.2" y="85.5" width="0.95" height="0.95" fill="#3a48d0"/>
<rect x="407.7" y="88.3" width="0.95" height="0.95" fill="#1c22a8"/>
<rect x="421.7" y="86.0" width="0.95" height="0.95" fill="#5060e0"/>
<rect x="405.0" y="81.1" width="0.95" height="0.95" fill="#2630c0"/>
<rect x="405.6" y="90.0" width="0.95" height="0.95" fill="#3a48d0"/>
<rect x="404.9" y="89.5" width="0.95" height="0.95" fill="#1c22a8"/>
<rect x="438.3" y="79.5" width="0.95" height="0.95" fill="#5060e0"/>
<rect x="424.4" y="85.0" width="0.95" height="0.95" fill="#2630c0"/>
<rect x="415.0" y="88.1" width="0.95" height="0.95" fill="#3a48d0"/>
<rect x="401.8" y="84.3" width="0.95" height="0.95" fill="#1c22a8"/>
<rect x="409.9" y="88.5" width="0.95" height="0.95" fill="#5060e0"/>
<rect x="404.2" y="90.7" width="1" height="1" fill="#3a48c8"/>
<rect x="401.0" y="91.7" width="1" height="1" fill="#e8a030"/>
<rect x="398.0" y="92.3" width="1" height="1" fill="#d07a2c"/>
<rect x="395.2" y="92.7" width="1" height="1" fill="#c04a20"/>
<rect x="401.4" y="91.8" width="1" height="1" fill="#b85a28"/>
<rect x="385.5" y="91.7" width="1" height="1" fill="#3a48c8"/>
<rect x="397.9" y="88.8" width="1" height="1" fill="#9a5a40"/>
<rect x="399.3" y="90.8" width="1" height="1" fill="#b85a28"/>
<rect x="395.9" y="91.7" width="1" height="1" fill="#d07a2c"/>
<rect x="390.2" y="90.8" width="1" height="1" fill="#e8a030"/>
<rect x="399.8" y="92.2" width="1" height="1" fill="#b85a28"/>
<rect x="392.8" y="90.5" width="1" height="1" fill="#c04a20"/>
<rect x="399.4" y="90.6" width="1" height="1" fill="#9a5a40"/>
<rect x="393.9" y="92.1" width="1" height="1" fill="#9a5a40"/>
<rect x="398.0" y="92.1" width="1" height="1" fill="#9a5a40"/>
<rect x="394.1" y="89.8" width="1" height="1" fill="#c04a20"/>
<rect x="398.0" y="90.6" width="1" height="1" fill="#d07a2c"/>
<rect x="395.3" y="92.4" width="1" height="1" fill="#3a48c8"/>
<rect x="403.5" y="92.4" width="1" height="1" fill="#b85a28"/>
<rect x="396.1" y="91.2" width="1" height="1" fill="#e8a030"/>
<rect x="393.5" y="90.4" width="1" height="1" fill="#c04a20"/>
<rect x="399.9" y="92.3" width="1" height="1" fill="#9a5a40"/>
<rect x="393.9" y="92.7" width="1" height="1" fill="#e8a030"/>
<rect x="402.5" y="89.0" width="1" height="1" fill="#b85a28"/>
<rect x="393.6" y="90.2" width="1" height="1" fill="#3a48c8"/>
<rect x="389.7" y="92.9" width="1" height="1" fill="#3a48c8"/>
<rect x="402.9" y="91.6" width="1" height="1" fill="#9a5a40"/>
<rect x="409.9" y="91.8" width="1" height="1" fill="#c04a20"/>
<rect x="396.6" y="93.2" width="1" height="1" fill="#b85a28"/>
<rect x="392.6" y="91.7" width="1" height="1" fill="#e8a030"/>
<rect x="399.2" y="89.9" width="1" height="1" fill="#3a48c8"/>
<rect x="394.8" y="89.8" width="1" height="1" fill="#e8a030"/>
<rect x="400.3" y="91.8" width="1" height="1" fill="#3a48c8"/>
<rect x="395.9" y="91.6" width="1" height="1" fill="#9a5a40"/>
<rect x="391.6" y="91.0" width="1" height="1" fill="#c04a20"/>
<rect x="389.9" y="91.0" width="1" height="1" fill="#9a5a40"/>
<rect x="386.8" y="92.4" width="1" height="1" fill="#e8a030"/>
<rect x="391.0" y="88.9" width="1" height="1" fill="#d07a2c"/>
<rect x="390.1" y="93.1" width="1" height="1" fill="#c04a20"/>
<rect x="395.0" y="90.8" width="1" height="1" fill="#b85a28"/>
<rect x="390.6" y="92.3" width="1" height="1" fill="#9a5a40"/>
<rect x="401.8" y="90.3" width="1" height="1" fill="#9a5a40"/>
<rect x="397.8" y="91.7" width="1" height="1" fill="#9a5a40"/>
<rect x="391.8" y="92.1" width="1" height="1" fill="#9a5a40"/>
<rect x="397.3" y="91.1" width="1" height="1" fill="#c04a20"/>
<rect x="402.7" y="91.9" width="1" height="1" fill="#c04a20"/>
<rect x="403.5" y="92.5" width="1" height="1" fill="#e8a030"/>
<rect x="397.0" y="92.6" width="1" height="1" fill="#e8a030"/>
<rect x="393.3" y="89.1" width="1" height="1" fill="#b85a28"/>
<rect x="406.8" y="90.1" width="1" height="1" fill="#3a48c8"/>
<rect x="398.3" y="89.9" width="1" height="1" fill="#b85a28"/>
<rect x="405.2" y="89.4" width="1" height="1" fill="#b85a28"/>
<rect x="397.2" y="90.3" width="1" height="1" fill="#3a48c8"/>
<rect x="393.3" y="91.3" width="1" height="1" fill="#c04a20"/>
<rect x="403.3" y="93.0" width="1" height="1" fill="#d07a2c"/>
<rect x="389.7" y="92.2" width="1" height="1" fill="#c04a20"/>
<rect x="397.5" y="91.3" width="1" height="1" fill="#9a5a40"/>
<rect x="404.5" y="93.0" width="1" height="1" fill="#d07a2c"/>
<rect x="400.6" y="90.8" width="1" height="1" fill="#3a48c8"/>
<rect x="398.2" y="91.8" width="1" height="1" fill="#c04a20"/>
<rect x="395.9" y="90.2" width="1" height="1" fill="#b85a28"/>
<rect x="395.8" y="92.4" width="1" height="1" fill="#b85a28"/>
<rect x="396.7" y="92.2" width="1" height="1" fill="#d07a2c"/>
<rect x="401.0" y="92.2" width="1" height="1" fill="#d07a2c"/>
<rect x="393.1" y="89.5" width="1" height="1" fill="#b85a28"/>
<rect x="405.3" y="90.2" width="1" height="1" fill="#b85a28"/>
<rect x="390.2" y="90.5" width="1" height="1" fill="#9a5a40"/>
<rect x="394.3" y="90.4" width="1" height="1" fill="#b85a28"/>
<rect x="402.6" y="91.6" width="1" height="1" fill="#e8a030"/>
<rect x="389.7" y="92.4" width="1" height="1" fill="#e8a030"/>
<rect x="398.3" y="91.5" width="1" height="1" fill="#d07a2c"/>
<rect x="399.0" y="91.3" width="1" height="1" fill="#e8a030"/>
<rect x="399.5" y="90.4" width="1" height="1" fill="#9a5a40"/>
<rect x="391.2" y="92.6" width="1" height="1" fill="#b85a28"/>
<rect x="394.5" y="91.5" width="1" height="1" fill="#c04a20"/>
<rect x="406.0" y="90.8" width="1" height="1" fill="#e8a030"/>
<rect x="398.3" y="91.4" width="1" height="1" fill="#9a5a40"/>
<rect x="403.8" y="91.6" width="1" height="1" fill="#9a5a40"/>
<rect x="400.9" y="92.0" width="1" height="1" fill="#9a5a40"/>
<rect x="393.8" y="91.5" width="1" height="1" fill="#e8a030"/>
<rect x="397.5" y="89.3" width="1" height="1" fill="#3a48c8"/>
<rect x="396.9" y="88.4" width="1" height="1" fill="#d07a2c"/>
<rect x="401.0" y="92.3" width="1" height="1" fill="#c04a20"/>
<rect x="398.8" y="88.9" width="1" height="1" fill="#c04a20"/>
<rect x="398.3" y="92.3" width="1" height="1" fill="#e8a030"/>
<rect x="401.8" y="91.2" width="1" height="1" fill="#3a48c8"/>
<rect x="406.8" y="91.9" width="1" height="1" fill="#e8a030"/>
<rect x="402.5" y="90.3" width="1" height="1" fill="#3a48c8"/>
<rect x="392.2" y="92.3" width="1" height="1" fill="#e8a030"/>
<rect x="394.7" y="92.6" width="1" height="1" fill="#d07a2c"/>
<rect x="392.4" y="90.0" width="1" height="1" fill="#9a5a40"/>
<rect x="400.0" y="92.6" width="1" height="1" fill="#b85a28"/>
<rect x="388.4" y="88.1" width="1" height="1" fill="#9a5a40"/>
<rect x="402.4" y="92.8" width="1" height="1" fill="#b85a28"/>
<rect x="388.2" y="89.0" width="1" height="1" fill="#e8a030"/>
<rect x="398.6" y="91.9" width="1" height="1" fill="#b85a28"/>
<rect x="400.5" y="89.9" width="1" height="1" fill="#b85a28"/>
<rect x="394.6" y="90.9" width="1" height="1" fill="#b85a28"/>
<rect x="403.2" y="90.9" width="1" height="1" fill="#9a5a40"/>
<rect x="402.0" y="90.8" width="1" height="1" fill="#9a5a40"/>
<rect x="392.9" y="92.6" width="1" height="1" fill="#c04a20"/>
<rect x="399.8" y="92.3" width="1" height="1" fill="#3a48c8"/>
<rect x="396.7" y="88.6" width="1" height="1" fill="#3a48c8"/>
<rect x="392.7" y="89.2" width="1" height="1" fill="#b85a28"/>
<rect x="397.1" y="91.4" width="1" height="1" fill="#9a5a40"/>
<rect x="400.3" y="88.7" width="1" height="1" fill="#b85a28"/>
<rect x="397.0" y="90.6" width="1" height="1" fill="#e8a030"/>
<rect x="403.1" y="91.0" width="1" height="1" fill="#b85a28"/>
<rect x="393.6" y="89.0" width="1" height="1" fill="#b85a28"/>
<rect x="404.1" y="91.3" width="1" height="1" fill="#9a5a40"/>
<rect x="407.1" y="90.7" width="1" height="1" fill="#b85a28"/>
<rect x="391.2" y="89.9" width="1" height="1" fill="#3a48c8"/>
<rect x="397.4" y="91.9" width="1" height="1" fill="#e8a030"/>
<rect x="393.2" y="90.6" width="1" height="1" fill="#3a48c8"/>
<rect x="396.9" y="90.9" width="1" height="1" fill="#b85a28"/>
<rect x="401.2" y="92.8" width="1" height="1" fill="#c04a20"/>
<rect x="388.8" y="93.0" width="1" height="1" fill="#c04a20"/>
<rect x="399.0" y="91.7" width="1" height="1" fill="#9a5a40"/>
<rect x="401.8" y="92.2" width="1" height="1" fill="#3a48c8"/>
<rect x="401.5" y="89.8" width="1" height="1" fill="#9a5a40"/>
<rect x="399.3" y="91.6" width="1" height="1" fill="#c04a20"/>
<rect x="397.5" y="91.0" width="1" height="1" fill="#e8a030"/>
<rect x="398.2" y="90.8" width="1" height="1" fill="#9a5a40"/>
<rect x="397.3" y="91.1" width="1" height="1" fill="#9a5a40"/>
<rect x="388.1" y="92.1" width="1" height="1" fill="#3a48c8"/>
<rect x="406.4" y="90.0" width="1" height="1" fill="#3a48c8"/>
<rect x="402.4" y="93.1" width="1" height="1" fill="#3a48c8"/>
<rect x="397.5" y="89.1" width="1" height="1" fill="#e8a030"/>
<rect x="398.4" y="90.6" width="1" height="1" fill="#d07a2c"/>
<rect x="400.3" y="91.1" width="1" height="1" fill="#e8a030"/>
<rect x="395.0" y="88.6" width="1" height="1" fill="#9a5a40"/>
<rect x="399.9" y="91.0" width="1" height="1" fill="#3a48c8"/>
<rect x="393.9" y="88.5" width="1" height="1" fill="#d07a2c"/>
<rect x="392.2" y="91.1" width="1" height="1" fill="#9a5a40"/>
<rect x="393.4" y="90.1" width="1" height="1" fill="#e8a030"/>
<rect x="393.7" y="91.7" width="1" height="1" fill="#3a48c8"/>
<rect x="381.5" y="89.6" width="1" height="1" fill="#3a48c8"/>
<rect x="398.3" y="89.8" width="1" height="1" fill="#e8a030"/>
<rect x="396.5" y="90.5" width="1" height="1" fill="#b85a28"/>
<rect x="404.0" y="90.7" width="1" height="1" fill="#d07a2c"/>
<rect x="398.3" y="90.1" width="1" height="1" fill="#b85a28"/>
<rect x="390.1" y="90.4" width="1" height="1" fill="#e8a030"/>
<rect x="395.4" y="90.8" width="1" height="1" fill="#9a5a40"/>
<rect x="397.8" y="92.1" width="1" height="1" fill="#3a48c8"/>
<rect x="396.3" y="93.0" width="1" height="1" fill="#d07a2c"/>
<rect x="403.8" y="91.2" width="1" height="1" fill="#b85a28"/>
<rect x="403.0" y="91.4" width="1" height="1" fill="#3a48c8"/>
<rect x="397.3" y="91.0" width="1" height="1" fill="#e8a030"/>
<rect x="390.6" y="90.0" width="1" height="1" fill="#d07a2c"/>
<rect x="408.0" y="91.7" width="1" height="1" fill="#e8a030"/>
<rect x="405.8" y="92.5" width="1" height="1" fill="#d07a2c"/>
<rect x="401.2" y="89.3" width="1" height="1" fill="#b85a28"/>
<rect x="403.2" y="90.0" width="1" height="1" fill="#b85a28"/>
<rect x="399.7" y="91.3" width="1" height="1" fill="#e8a030"/>
<rect x="399.9" y="91.3" width="1" height="1" fill="#b85a28"/>
<rect x="394.9" y="90.3" width="0.9" height="0.9" fill="#3040c8"/>
<rect x="393.3" y="91.6" width="0.9" height="0.9" fill="#3040c8"/>
<rect x="386.9" y="90.7" width="0.9" height="0.9" fill="#3040c8"/>
<rect x="390.3" y="89.6" width="0.9" height="0.9" fill="#3040c8"/>
<rect x="392.6" y="91.2" width="0.9" height="0.9" fill="#3040c8"/>
<rect x="392.1" y="87.2" width="0.9" height="0.9" fill="#3040c8"/>
<rect x="390.6" y="91.0" width="0.9" height="0.9" fill="#3040c8"/>
<rect x="395.8" y="90.3" width="0.9" height="0.9" fill="#3040c8"/>
<rect x="383.6" y="91.4" width="0.9" height="0.9" fill="#3040c8"/>
<rect x="394.5" y="90.9" width="0.9" height="0.9" fill="#3040c8"/>
<rect x="386.8" y="92.2" width="0.9" height="0.9" fill="#3040c8"/>
<rect x="386.8" y="92.3" width="0.9" height="0.9" fill="#3040c8"/>
<rect x="394.8" y="90.5" width="0.9" height="0.9" fill="#3040c8"/>
<rect x="394.8" y="90.2" width="0.9" height="0.9" fill="#3040c8"/>
<rect x="382.5" y="88.7" width="0.9" height="0.9" fill="#3040c8"/>
<rect x="386.9" y="90.7" width="0.9" height="0.9" fill="#3040c8"/>
<rect x="381.7" y="92.0" width="0.9" height="0.9" fill="#3040c8"/>
<rect x="391.1" y="92.1" width="0.9" height="0.9" fill="#3040c8"/>
<rect x="386.7" y="89.1" width="0.9" height="0.9" fill="#3040c8"/>
<rect x="389.9" y="91.8" width="0.9" height="0.9" fill="#3040c8"/>
<rect x="391.5" y="91.1" width="0.9" height="0.9" fill="#3040c8"/>
<rect x="392.6" y="91.8" width="0.9" height="0.9" fill="#3040c8"/>
<rect x="394.7" y="87.9" width="0.9" height="0.9" fill="#3040c8"/>
<rect x="386.5" y="89.1" width="0.9" height="0.9" fill="#3040c8"/>
<rect x="395.1" y="87.7" width="0.9" height="0.9" fill="#3040c8"/>
<rect x="381.9" y="88.7" width="0.9" height="0.9" fill="#3040c8"/>
<rect x="391.6" y="90.4" width="0.9" height="0.9" fill="#3040c8"/>
<rect x="382.6" y="88.1" width="0.9" height="0.9" fill="#3040c8"/>
<rect x="383.9" y="87.6" width="0.9" height="0.9" fill="#3040c8"/>
<rect x="394.8" y="89.8" width="0.9" height="0.9" fill="#3040c8"/>
<rect x="381.4" y="90.5" width="0.9" height="0.9" fill="#3040c8"/>
<rect x="389.4" y="90.5" width="0.9" height="0.9" fill="#3040c8"/>
<rect x="391.0" y="87.1" width="0.9" height="0.9" fill="#3040c8"/>
<rect x="381.3" y="92.4" width="0.9" height="0.9" fill="#3040c8"/>
<rect x="384.9" y="88.9" width="0.9" height="0.9" fill="#3040c8"/>
</g>
<g filter="url(#soft)">
<rect x="475.60" y="73.00" width="1.0" height="1.0" fill="#2233c8"/>
<rect x="470.60" y="74.00" width="1.0" height="1.0" fill="#2233c8"/>
<rect x="474.60" y="74.00" width="1.0" height="1.0" fill="#2233c8"/>
<rect x="476.60" y="74.00" width="1.0" height="1.0" fill="#2233c8"/>
<rect x="479.60" y="74.00" width="1.0" height="1.0" fill="#2233c8"/>
<rect x="471.60" y="75.00" width="1.0" height="1.0" fill="#2233c8"/>
<rect x="472.60" y="75.00" width="1.0" height="1.0" fill="#2233c8"/>
<rect x="474.60" y="75.00" width="1.0" height="1.0" fill="#2233c8"/>
<rect x="476.60" y="75.00" width="1.0" height="1.0" fill="#2233c8"/>
<rect x="477.60" y="75.00" width="1.0" height="1.0" fill="#2233c8"/>
<rect x="468.60" y="76.00" width="1.0" height="1.0" fill="#2233c8"/>
<rect x="469.60" y="76.00" width="1.0" height="1.0" fill="#2233c8"/>
<rect x="471.60" y="76.00" width="1.0" height="1.0" fill="#2233c8"/>
<rect x="472.60" y="76.00" width="1.05" height="1.05" fill="#141ec8"/>
<rect x="473.60" y="76.00" width="1.05" height="1.05" fill="#141ec8"/>
<rect x="474.60" y="76.00" width="1.05" height="1.05" fill="#141ec8"/>
<rect x="475.60" y="76.00" width="1.05" height="1.05" fill="#1527cf"/>
<rect x="476.60" y="76.00" width="1.0" height="1.0" fill="#2233c8"/>
<rect x="477.60" y="76.00" width="1.0" height="1.0" fill="#2233c8"/>
<rect x="478.60" y="76.00" width="1.0" height="1.0" fill="#2233c8"/>
<rect x="480.60" y="76.00" width="1.0" height="1.0" fill="#2233c8"/>
<rect x="466.60" y="77.00" width="1.0" height="1.0" fill="#2233c8"/>
<rect x="469.60" y="77.00" width="1.05" height="1.05" fill="#1525ce"/>
<rect x="470.60" y="77.00" width="1.05" height="1.05" fill="#1836dc"/>
<rect x="471.60" y="77.00" width="1.05" height="1.05" fill="#1733da"/>
<rect x="472.60" y="77.00" width="1.05" height="1.05" fill="#141ec8"/>
<rect x="473.60" y="77.00" width="1.05" height="1.05" fill="#162ed5"/>
<rect x="474.60" y="77.00" width="1.05" height="1.05" fill="#1839de"/>
<rect x="475.60" y="77.00" width="1.05" height="1.05" fill="#1529d1"/>
<rect x="476.60" y="77.00" width="1.05" height="1.05" fill="#141ec8"/>
<rect x="477.60" y="77.00" width="1.0" height="1.0" fill="#2233c8"/>
<rect x="478.60" y="77.00" width="1.0" height="1.0" fill="#2233c8"/>
<rect x="467.60" y="78.00" width="1.05" height="1.05" fill="#141fc9"/>
<rect x="468.60" y="78.00" width="1.05" height="1.05" fill="#162fd6"/>
<rect x="469.60" y="78.00" width="1.05" height="1.05" fill="#1733d9"/>
<rect x="470.60" y="78.00" width="1.05" height="1.05" fill="#1838de"/>
<rect x="471.60" y="78.00" width="1.05" height="1.05" fill="#1946e1"/>
<rect x="472.60" y="78.00" width="1.05" height="1.05" fill="#1b6ae3"/>
<rect x="473.60" y="78.00" width="1.05" height="1.05" fill="#193ce1"/>
<rect x="474.60" y="78.00" width="1.05" height="1.05" fill="#194ce1"/>
<rect x="475.60" y="78.00" width="1.05" height="1.05" fill="#141ec8"/>
<rect x="476.60" y="78.00" width="1.05" height="1.05" fill="#141ec8"/>
<rect x="477.60" y="78.00" width="1.0" height="1.0" fill="#2233c8"/>
<rect x="465.60" y="79.00" width="1.0" height="1.0" fill="#2233c8"/>
<rect x="466.60" y="79.00" width="1.05" height="1.05" fill="#141ec8"/>
<rect x="467.60" y="79.00" width="1.05" height="1.05" fill="#183be0"/>
<rect x="468.60" y="79.00" width="1.05" height="1.05" fill="#1a5be2"/>
<rect x="469.60" y="79.00" width="1.05" height="1.05" fill="#1c90e4"/>
<rect x="470.60" y="79.00" width="1.05" height="1.05" fill="#24b2ac"/>
<rect x="471.60" y="79.00" width="1.05" height="1.05" fill="#21aeca"/>
<rect x="472.60" y="79.00" width="1.05" height="1.05" fill="#1d9de5"/>
<rect x="473.60" y="79.00" width="1.05" height="1.05" fill="#1b6ee3"/>
<rect x="474.60" y="79.00" width="1.05" height="1.05" fill="#1d97e5"/>
<rect x="475.60" y="79.00" width="1.05" height="1.05" fill="#1735db"/>
<rect x="476.60" y="79.00" width="1.05" height="1.05" fill="#1423cc"/>
<rect x="463.60" y="80.00" width="1.0" height="1.0" fill="#2233c8"/>
<rect x="464.60" y="80.00" width="1.05" height="1.05" fill="#1529d1"/>
<rect x="465.60" y="80.00" width="1.05" height="1.05" fill="#162dd4"/>
<rect x="466.60" y="80.00" width="1.05" height="1.05" fill="#1948e1"/>
<rect x="467.60" y="80.00" width="1.05" height="1.05" fill="#1da2e5"/>
<rect x="468.60" y="80.00" width="1.05" height="1.05" fill="#1da3e5"/>
<rect x="469.60" y="80.00" width="1.05" height="1.05" fill="#2aba78"/>
<rect x="470.60" y="80.00" width="1.05" height="1.05" fill="#22afbe"/>
<rect x="471.60" y="80.00" width="1.05" height="1.05" fill="#21adcc"/>
<rect x="472.60" y="80.00" width="1.05" height="1.05" fill="#1da0e5"/>
<rect x="473.60" y="80.00" width="1.05" height="1.05" fill="#1a5be2"/>
<rect x="474.60" y="80.00" width="1.05" height="1.05" fill="#1b6ae3"/>
<rect x="475.60" y="80.00" width="1.05" height="1.05" fill="#1733da"/>
<rect x="476.60" y="80.00" width="1.05" height="1.05" fill="#1732d9"/>
<rect x="478.60" y="80.00" width="1.0" height="1.0" fill="#2233c8"/>
<rect x="461.60" y="81.00" width="1.0" height="1.0" fill="#2233c8"/>
<rect x="463.60" y="81.00" width="1.05" height="1.05" fill="#141fc9"/>
<rect x="464.60" y="81.00" width="1.05" height="1.05" fill="#1837dd"/>
<rect x="465.60" y="81.00" width="1.05" height="1.05" fill="#183be0"/>
<rect x="466.60" y="81.00" width="1.05" height="1.05" fill="#20add0"/>
<rect x="467.60" y="81.00" width="1.05" height="1.05" fill="#25b3a2"/>
<rect x="468.60" y="81.00" width="1.05" height="1.05" fill="#2ab97f"/>
<rect x="469.60" y="81.00" width="1.05" height="1.05" fill="#31c143"/>
<rect x="470.60" y="81.00" width="1.05" height="1.05" fill="#26b4a0"/>
<rect x="471.60" y="81.00" width="1.05" height="1.05" fill="#2bba75"/>
<rect x="472.60" y="81.00" width="1.05" height="1.05" fill="#21aec9"/>
<rect x="473.60" y="81.00" width="1.05" height="1.05" fill="#21aec8"/>
<rect x="474.60" y="81.00" width="1.05" height="1.05" fill="#1b69e3"/>
<rect x="475.60" y="81.00" width="1.05" height="1.05" fill="#162dd5"/>
<rect x="476.60" y="81.00" width="1.05" height="1.05" fill="#141ec8"/>
<rect x="461.60" y="82.00" width="1.0" height="1.0" fill="#2233c8"/>
<rect x="462.60" y="82.00" width="1.05" height="1.05" fill="#1730d7"/>
<rect x="463.60" y="82.00" width="1.05" height="1.05" fill="#1731d7"/>
<rect x="464.60" y="82.00" width="1.05" height="1.05" fill="#1c90e4"/>
<rect x="465.60" y="82.00" width="1.05" height="1.05" fill="#1eabdf"/>
<rect x="466.60" y="82.00" width="1.05" height="1.05" fill="#2ebf56"/>
<rect x="467.60" y="82.00" width="1.05" height="1.05" fill="#2fc04f"/>
<rect x="468.60" y="82.00" width="1.05" height="1.05" fill="#84d22e"/>
<rect x="469.60" y="82.00" width="1.05" height="1.05" fill="#81d22f"/>
<rect x="470.60" y="82.00" width="1.05" height="1.05" fill="#31c143"/>
<rect x="471.60" y="82.00" width="1.05" height="1.05" fill="#29b787"/>
<rect x="472.60" y="82.00" width="1.05" height="1.05" fill="#20add0"/>
<rect x="473.60" y="82.00" width="1.05" height="1.05" fill="#1b74e3"/>
<rect x="474.60" y="82.00" width="1.05" height="1.05" fill="#1836dc"/>
<rect x="475.60" y="82.00" width="1.05" height="1.05" fill="#183be0"/>
<rect x="476.60" y="82.00" width="1.0" height="1.0" fill="#2233c8"/>
<rect x="455.60" y="83.00" width="1.0" height="1.0" fill="#2233c8"/>
<rect x="459.60" y="83.00" width="1.0" height="1.0" fill="#2233c8"/>
<rect x="460.60" y="83.00" width="1.05" height="1.05" fill="#141ec8"/>
<rect x="461.60" y="83.00" width="1.05" height="1.05" fill="#162ed5"/>
<rect x="462.60" y="83.00" width="1.05" height="1.05" fill="#1837dd"/>
<rect x="463.60" y="83.00" width="1.05" height="1.05" fill="#1eaae2"/>
<rect x="464.60" y="83.00" width="1.05" height="1.05" fill="#26b49f"/>
<rect x="465.60" y="83.00" width="1.05" height="1.05" fill="#55c936"/>
<rect x="466.60" y="83.00" width="1.05" height="1.05" fill="#7cd12f"/>
<rect x="467.60" y="83.00" width="1.05" height="1.05" fill="#7dd12f"/>
<rect x="468.60" y="83.00" width="1.05" height="1.05" fill="#a1d829"/>
<rect x="469.60" y="83.00" width="1.05" height="1.05" fill="#adda28"/>
<rect x="470.60" y="83.00" width="1.05" height="1.05" fill="#83d22e"/>
<rect x="471.60" y="83.00" width="1.05" height="1.05" fill="#30c148"/>
<rect x="472.60" y="83.00" width="1.05" height="1.05" fill="#24b2ad"/>
<rect x="473.60" y="83.00" width="1.05" height="1.05" fill="#1c88e4"/>
<rect x="474.60" y="83.00" width="1.05" height="1.05" fill="#1838de"/>
<rect x="475.60" y="83.00" width="1.05" height="1.05" fill="#1527cf"/>
<rect x="478.60" y="83.00" width="1.0" height="1.0" fill="#2233c8"/>
<rect x="457.60" y="84.00" width="1.0" height="1.0" fill="#2233c8"/>
<rect x="459.60" y="84.00" width="1.05" height="1.05" fill="#1525ce"/>
<rect x="460.60" y="84.00" width="1.05" height="1.05" fill="#1a5ee2"/>
<rect x="461.60" y="84.00" width="1.05" height="1.05" fill="#183be0"/>
<rect x="462.60" y="84.00" width="1.05" height="1.05" fill="#2ab97b"/>
<rect x="463.60" y="84.00" width="1.05" height="1.05" fill="#29b882"/>
<rect x="464.60" y="84.00" width="1.05" height="1.05" fill="#77d030"/>
<rect x="465.60" y="84.00" width="1.05" height="1.05" fill="#edd01b"/>
<rect x="466.60" y="84.00" width="1.05" height="1.05" fill="#efb519"/>
<rect x="467.60" y="84.00" width="1.05" height="1.05" fill="#f0ab18"/>
<rect x="468.60" y="84.00" width="1.05" height="1.05" fill="#efb819"/>
<rect x="469.60" y="84.00" width="1.05" height="1.05" fill="#ecd91c"/>
<rect x="470.60" y="84.00" width="1.05" height="1.05" fill="#acda28"/>
<rect x="471.60" y="84.00" width="1.05" height="1.05" fill="#2fbf55"/>
<rect x="472.60" y="84.00" width="1.05" height="1.05" fill="#1c83e4"/>
<rect x="473.60" y="84.00" width="1.05" height="1.05" fill="#183ae0"/>
<rect x="474.60" y="84.00" width="1.05" height="1.05" fill="#1839de"/>
<rect x="456.60" y="85.00" width="1.0" height="1.0" fill="#2233c8"/>
<rect x="457.60" y="85.00" width="1.05" height="1.05" fill="#1526ce"/>
<rect x="458.60" y="85.00" width="1.05" height="1.05" fill="#1420ca"/>
<rect x="459.60" y="85.00" width="1.05" height="1.05" fill="#1732d9"/>
<rect x="460.60" y="85.00" width="1.05" height="1.05" fill="#21adca"/>
<rect x="461.60" y="85.00" width="1.05" height="1.05" fill="#2dbd5f"/>
<rect x="462.60" y="85.00" width="1.05" height="1.05" fill="#9cd72a"/>
<rect x="463.60" y="85.00" width="1.05" height="1.05" fill="#ecd31c"/>
<rect x="464.60" y="85.00" width="1.05" height="1.05" fill="#f29c16"/>
<rect x="465.60" y="85.00" width="1.05" height="1.05" fill="#f27313"/>
<rect x="466.60" y="85.00" width="1.05" height="1.05" fill="#f17113"/>
<rect x="467.60" y="85.00" width="1.05" height="1.05" fill="#f17013"/>
<rect x="468.60" y="85.00" width="1.05" height="1.05" fill="#f27713"/>
<rect x="469.60" y="85.00" width="1.05" height="1.05" fill="#ecdb1c"/>
<rect x="470.60" y="85.00" width="1.05" height="1.05" fill="#39c43a"/>
<rect x="471.60" y="85.00" width="1.05" height="1.05" fill="#26b49d"/>
<rect x="472.60" y="85.00" width="1.05" height="1.05" fill="#1a5ee2"/>
<rect x="473.60" y="85.00" width="1.05" height="1.05" fill="#1529d1"/>
<rect x="474.60" y="85.00" width="1.05" height="1.05" fill="#141fc9"/>
<rect x="455.60" y="86.00" width="1.0" height="1.0" fill="#2233c8"/>
<rect x="456.60" y="86.00" width="1.05" height="1.05" fill="#1836dc"/>
<rect x="457.60" y="86.00" width="1.05" height="1.05" fill="#1940e1"/>
<rect x="458.60" y="86.00" width="1.05" height="1.05" fill="#1d9be5"/>
<rect x="459.60" y="86.00" width="1.05" height="1.05" fill="#1c82e4"/>
<rect x="460.60" y="86.00" width="1.05" height="1.05" fill="#5ecb34"/>
<rect x="461.60" y="86.00" width="1.05" height="1.05" fill="#e0e31f"/>
<rect x="462.60" y="86.00" width="1.05" height="1.05" fill="#f38d15"/>
<rect x="463.60" y="86.00" width="1.05" height="1.05" fill="#ef6413"/>
<rect x="464.60" y="86.00" width="1.05" height="1.05" fill="#e42912"/>
<rect x="465.60" y="86.00" width="1.05" height="1.05" fill="#e11912"/>
<rect x="466.60" y="86.00" width="1.05" height="1.05" fill="#e11912"/>
<rect x="467.60" y="86.00" width="1.05" height="1.05" fill="#e73b12"/>
<rect x="468.60" y="86.00" width="1.05" height="1.05" fill="#f48013"/>
<rect x="469.60" y="86.00" width="1.05" height="1.05" fill="#ecda1c"/>
<rect x="470.60" y="86.00" width="1.05" height="1.05" fill="#31c23d"/>
<rect x="471.60" y="86.00" width="1.05" height="1.05" fill="#1da0e5"/>
<rect x="472.60" y="86.00" width="1.05" height="1.05" fill="#1836dc"/>
<rect x="473.60" y="86.00" width="1.05" height="1.05" fill="#1421ca"/>
<rect x="474.60" y="86.00" width="1.0" height="1.0" fill="#2233c8"/>
<rect x="475.60" y="86.00" width="1.0" height="1.0" fill="#2233c8"/>
<rect x="453.60" y="87.00" width="1.0" height="1.0" fill="#2233c8"/>
<rect x="454.60" y="87.00" width="1.05" height="1.05" fill="#162fd6"/>
<rect x="455.60" y="87.00" width="1.05" height="1.05" fill="#1836dc"/>
<rect x="456.60" y="87.00" width="1.05" height="1.05" fill="#1a61e2"/>
<rect x="457.60" y="87.00" width="1.05" height="1.05" fill="#1eaae5"/>
<rect x="458.60" y="87.00" width="1.05" height="1.05" fill="#4fc837"/>
<rect x="459.60" y="87.00" width="1.05" height="1.05" fill="#e3e41f"/>
<rect x="460.60" y="87.00" width="1.05" height="1.05" fill="#f1a517"/>
<rect x="461.60" y="87.00" width="1.05" height="1.05" fill="#e84012"/>
<rect x="462.60" y="87.00" width="1.05" height="1.05" fill="#e11912"/>
<rect x="463.60" y="87.00" width="1.05" height="1.05" fill="#e11912"/>
<rect x="464.60" y="87.00" width="1.05" height="1.05" fill="#e11912"/>
<rect x="465.60" y="87.00" width="1.05" height="1.05" fill="#e11912"/>
<rect x="466.60" y="87.00" width="1.05" height="1.05" fill="#e11912"/>
<rect x="467.60" y="87.00" width="1.05" height="1.05" fill="#f06813"/>
<rect x="468.60" y="87.00" width="1.05" height="1.05" fill="#edcd1b"/>
<rect x="469.60" y="87.00" width="1.05" height="1.05" fill="#31c23e"/>
<rect x="470.60" y="87.00" width="1.05" height="1.05" fill="#1da5e5"/>
<rect x="471.60" y="87.00" width="1.05" height="1.05" fill="#1a59e2"/>
<rect x="472.60" y="87.00" width="1.05" height="1.05" fill="#1836dc"/>
<rect x="451.60" y="88.00" width="1.0" height="1.0" fill="#2233c8"/>
<rect x="452.60" y="88.00" width="1.0" height="1.0" fill="#2233c8"/>
<rect x="453.60" y="88.00" width="1.05" height="1.05" fill="#1731d8"/>
<rect x="454.60" y="88.00" width="1.05" height="1.05" fill="#183be0"/>
<rect x="455.60" y="88.00" width="1.05" height="1.05" fill="#1d99e5"/>
<rect x="456.60" y="88.00" width="1.05" height="1.05" fill="#26b49e"/>
<rect x="457.60" y="88.00" width="1.05" height="1.05" fill="#d3e121"/>
<rect x="458.60" y="88.00" width="1.05" height="1.05" fill="#f1a117"/>
<rect x="459.60" y="88.00" width="1.05" height="1.05" fill="#ec5413"/>
<rect x="460.60" y="88.00" width="1.05" height="1.05" fill="#e11912"/>
<rect x="461.60" y="88.00" width="1.05" height="1.05" fill="#e11912"/>
<rect x="462.60" y="88.00" width="1.05" height="1.05" fill="#e11912"/>
<rect x="463.60" y="88.00" width="1.05" height="1.05" fill="#e11912"/>
<rect x="464.60" y="88.00" width="1.05" height="1.05" fill="#e11912"/>
<rect x="465.60" y="88.00" width="1.05" height="1.05" fill="#e11912"/>
<rect x="466.60" y="88.00" width="1.05" height="1.05" fill="#e94312"/>
<rect x="467.60" y="88.00" width="1.05" height="1.05" fill="#eec01a"/>
<rect x="468.60" y="88.00" width="1.05" height="1.05" fill="#7fd12f"/>
<rect x="469.60" y="88.00" width="1.05" height="1.05" fill="#2bba77"/>
<rect x="470.60" y="88.00" width="1.05" height="1.05" fill="#1941e1"/>
<rect x="471.60" y="88.00" width="1.05" height="1.05" fill="#1423cc"/>
<rect x="451.60" y="89.00" width="1.05" height="1.05" fill="#141ec8"/>
<rect x="452.60" y="89.00" width="1.05" height="1.05" fill="#1732d9"/>
<rect x="453.60" y="89.00" width="1.05" height="1.05" fill="#1a61e2"/>
<rect x="454.60" y="89.00" width="1.05" height="1.05" fill="#21aec5"/>
<rect x="455.60" y="89.00" width="1.05" height="1.05" fill="#30c149"/>
<rect x="456.60" y="89.00" width="1.05" height="1.05" fill="#c1de24"/>
<rect x="457.60" y="89.00" width="1.05" height="1.05" fill="#f48314"/>
<rect x="458.60" y="89.00" width="1.05" height="1.05" fill="#e73912"/>
<rect x="459.60" y="89.00" width="1.05" height="1.05" fill="#e11912"/>
<rect x="460.60" y="89.00" width="1.05" height="1.05" fill="#e11912"/>
<rect x="461.60" y="89.00" width="1.05" height="1.05" fill="#e11912"/>
<rect x="462.60" y="89.00" width="1.05" height="1.05" fill="#e11912"/>
<rect x="463.60" y="89.00" width="1.05" height="1.05" fill="#e11912"/>
<rect x="464.60" y="89.00" width="1.05" height="1.05" fill="#e11912"/>
<rect x="465.60" y="89.00" width="1.05" height="1.05" fill="#f06b13"/>
<rect x="466.60" y="89.00" width="1.05" height="1.05" fill="#ebe21d"/>
<rect x="467.60" y="89.00" width="1.05" height="1.05" fill="#59ca35"/>
<rect x="468.60" y="89.00" width="1.05" height="1.05" fill="#1b7ae3"/>
<rect x="469.60" y="89.00" width="1.05" height="1.05" fill="#1836dc"/>
<rect x="470.60" y="89.00" width="1.05" height="1.05" fill="#141ec8"/>
<rect x="471.60" y="89.00" width="1.0" height="1.0" fill="#2233c8"/>
<rect x="451.60" y="90.00" width="1.05" height="1.05" fill="#141ec8"/>
<rect x="452.60" y="90.00" width="1.05" height="1.05" fill="#1a67e2"/>
<rect x="453.60" y="90.00" width="1.05" height="1.05" fill="#24b2aa"/>
<rect x="454.60" y="90.00" width="1.05" height="1.05" fill="#31c23f"/>
<rect x="455.60" y="90.00" width="1.05" height="1.05" fill="#b1db27"/>
<rect x="456.60" y="90.00" width="1.05" height="1.05" fill="#f37c13"/>
<rect x="457.60" y="90.00" width="1.05" height="1.05" fill="#e11912"/>
<rect x="458.60" y="90.00" width="1.05" height="1.05" fill="#e11912"/>
<rect x="459.60" y="90.00" width="1.05" height="1.05" fill="#e11912"/>
<rect x="460.60" y="90.00" width="1.05" height="1.05" fill="#e11912"/>
<rect x="461.60" y="90.00" width="1.05" height="1.05" fill="#e11912"/>
<rect x="462.60" y="90.00" width="1.05" height="1.05" fill="#e11912"/>
<rect x="463.60" y="90.00" width="1.05" height="1.05" fill="#e42912"/>
<rect x="464.60" y="90.00" width="1.05" height="1.05" fill="#f48214"/>
<rect x="465.60" y="90.00" width="1.05" height="1.05" fill="#bcdd25"/>
<rect x="466.60" y="90.00" width="1.05" height="1.05" fill="#29b885"/>
<rect x="467.60" y="90.00" width="1.05" height="1.05" fill="#1c90e4"/>
<rect x="468.60" y="90.00" width="1.05" height="1.05" fill="#1a60e2"/>
<rect x="469.60" y="90.00" width="1.0" height="1.0" fill="#2233c8"/>
<rect x="471.60" y="90.00" width="1.0" height="1.0" fill="#2233c8"/>
<rect x="451.60" y="91.00" width="1.05" height="1.05" fill="#1b6ce3"/>
<rect x="452.60" y="91.00" width="1.05" height="1.05" fill="#1da1e5"/>
<rect x="453.60" y="91.00" width="1.05" height="1.05" fill="#30c146"/>
<rect x="454.60" y="91.00" width="1.05" height="1.05" fill="#72cf31"/>
<rect x="455.60" y="91.00" width="1.05" height="1.05" fill="#f29616"/>
<rect x="456.60" y="91.00" width="1.05" height="1.05" fill="#eb4f13"/>
<rect x="457.60" y="91.00" width="1.05" height="1.05" fill="#e32512"/>
<rect x="458.60" y="91.00" width="1.05" height="1.05" fill="#e11912"/>
<rect x="459.60" y="91.00" width="1.05" height="1.05" fill="#e11912"/>
<rect x="460.60" y="91.00" width="1.05" height="1.05" fill="#e11912"/>
<rect x="461.60" y="91.00" width="1.05" height="1.05" fill="#e11b12"/>
<rect x="462.60" y="91.00" width="1.05" height="1.05" fill="#f48614"/>
<rect x="463.60" y="91.00" width="1.05" height="1.05" fill="#eec31a"/>
<rect x="464.60" y="91.00" width="1.05" height="1.05" fill="#36c33b"/>
<rect x="465.60" y="91.00" width="1.05" height="1.05" fill="#22afc0"/>
<rect x="466.60" y="91.00" width="1.05" height="1.05" fill="#1a5ce2"/>
<rect x="467.60" y="91.00" width="1.05" height="1.05" fill="#162bd3"/>
<rect x="451.60" y="92.00" width="1.05" height="1.05" fill="#1a65e2"/>
<rect x="452.60" y="92.00" width="1.05" height="1.05" fill="#2ab979"/>
<rect x="453.60" y="92.00" width="1.05" height="1.05" fill="#6dce32"/>
<rect x="454.60" y="92.00" width="1.05" height="1.05" fill="#ebe31d"/>
<rect x="455.60" y="92.00" width="1.05" height="1.05" fill="#f27213"/>
<rect x="456.60" y="92.00" width="1.05" height="1.05" fill="#ec5413"/>
<rect x="457.60" y="92.00" width="1.05" height="1.05" fill="#eb5213"/>
<rect x="458.60" y="92.00" width="1.05" height="1.05" fill="#e84212"/>
<rect x="459.60" y="92.00" width="1.05" height="1.05" fill="#f17113"/>
<rect x="460.60" y="92.00" width="1.05" height="1.05" fill="#efb419"/>
<rect x="461.60" y="92.00" width="1.05" height="1.05" fill="#cfe022"/>
<rect x="462.60" y="92.00" width="1.05" height="1.05" fill="#31c23d"/>
<rect x="463.60" y="92.00" width="1.05" height="1.05" fill="#2ab979"/>
<rect x="464.60" y="92.00" width="1.05" height="1.05" fill="#1b7be3"/>
<rect x="465.60" y="92.00" width="1.05" height="1.05" fill="#141ec8"/>
<rect x="466.60" y="92.00" width="1.0" height="1.0" fill="#2233c8"/>
</g>
<rect x="486" y="83" width="0.9" height="0.9" fill="#3040c0"/>
<rect x="490" y="79" width="0.9" height="0.9" fill="#3040c0"/>
<rect x="495" y="88" width="0.9" height="0.9" fill="#3040c0"/>
<rect x="500" y="85" width="0.9" height="0.9" fill="#3040c0"/>
<rect x="505" y="77" width="0.9" height="0.9" fill="#3040c0"/>
<rect x="482" y="90" width="0.9" height="0.9" fill="#3040c0"/>
<rect x="478" y="91" width="0.9" height="0.9" fill="#3040c0"/>
<rect x="488" y="91" width="0.9" height="0.9" fill="#3040c0"/>
<text x="299.50" y="140.30" font-size="13.9" font-weight="bold" text-anchor="start" fill="#000" stroke="#000" stroke-width="0.4">E</text>
<line x1="341" y1="140.5" x2="341" y2="306.8" stroke="#111" stroke-width="1.5"/>
<line x1="340.3" y1="306.8" x2="463.3" y2="306.8" stroke="#111" stroke-width="1.5"/>
<line x1="392.6" y1="140.5" x2="392.6" y2="306.8" stroke="#111" stroke-width="1.5"/>
<line x1="439.6" y1="140.5" x2="439.6" y2="306.8" stroke="#111" stroke-width="1.5"/>
<line x1="338" y1="305.2" x2="341" y2="305.2" stroke="#333" stroke-width="0.8"/>
<text x="335.00" y="306.90" font-size="4.8" font-weight="bold" text-anchor="end" fill="#111" letter-spacing="0.6" stroke="#111" stroke-width="0.2">0</text>
<line x1="338" y1="271.8" x2="341" y2="271.8" stroke="#333" stroke-width="0.8"/>
<text x="335.00" y="273.46" font-size="4.8" font-weight="bold" text-anchor="end" fill="#111" letter-spacing="0.6" stroke="#111" stroke-width="0.2">0.2</text>
<line x1="338" y1="238.3" x2="341" y2="238.3" stroke="#333" stroke-width="0.8"/>
<text x="335.00" y="240.02" font-size="4.8" font-weight="bold" text-anchor="end" fill="#111" letter-spacing="0.6" stroke="#111" stroke-width="0.2">0.4</text>
<line x1="338" y1="204.9" x2="341" y2="204.9" stroke="#333" stroke-width="0.8"/>
<text x="335.00" y="206.58" font-size="4.8" font-weight="bold" text-anchor="end" fill="#111" letter-spacing="0.6" stroke="#111" stroke-width="0.2">0.6</text>
<line x1="338" y1="171.4" x2="341" y2="171.4" stroke="#333" stroke-width="0.8"/>
<text x="335.00" y="173.14" font-size="4.8" font-weight="bold" text-anchor="end" fill="#111" letter-spacing="0.6" stroke="#111" stroke-width="0.2">0.8</text>
<line x1="355.5" y1="306.8" x2="355.5" y2="309.5" stroke="#333" stroke-width="0.8"/>
<line x1="380.5" y1="306.8" x2="380.5" y2="309.5" stroke="#333" stroke-width="0.8"/>
<line x1="404.5" y1="306.8" x2="404.5" y2="309.5" stroke="#333" stroke-width="0.8"/>
<line x1="428.3" y1="306.8" x2="428.3" y2="309.5" stroke="#333" stroke-width="0.8"/>
<line x1="451.3" y1="306.8" x2="451.3" y2="309.5" stroke="#333" stroke-width="0.8"/>
<text transform="translate(323.0,218.9) rotate(-90)" font-size="8.2" font-weight="bold" text-anchor="middle" fill="#000">HBG Promoter CpG Methylated Fraction</text>
<text transform="translate(359.5,316.4) rotate(-29)" font-size="7.4" font-weight="bold" text-anchor="end" fill="#000">Fetal BM</text>
<text transform="translate(383.0,316.4) rotate(-29)" font-size="7.4" font-weight="bold" text-anchor="end" fill="#000">Adult BM</text>
<text transform="translate(408.0,316.4) rotate(-29)" font-size="7.4" font-weight="bold" text-anchor="end" fill="#000">Pre-THU-DAC</text>
<text transform="translate(433.6,316.4) rotate(-29)" font-size="7.4" font-weight="bold" text-anchor="end" fill="#000">Post-THU-DAC</text>
<text transform="translate(457.6,316.4) rotate(-29)" font-size="7.4" font-weight="bold" text-anchor="end" fill="#000">WBC</text>
<line x1="355.8" y1="187.2" x2="355.8" y2="240.5" stroke="#777" stroke-width="0.9"/>
<line x1="352.8" y1="187.2" x2="358.8" y2="187.2" stroke="#666" stroke-width="0.9"/>
<line x1="352.8" y1="240.5" x2="358.8" y2="240.5" stroke="#666" stroke-width="0.9"/>
<rect x="349.55" y="203.3" width="12.5" height="33.89999999999998" fill="#d6f4f4" stroke="#3a4646" stroke-width="1.2"/>
<line x1="349.55" y1="226.4" x2="362.05" y2="226.4" stroke="#3a4646" stroke-width="1.2"/>
<circle cx="355.8" cy="220.1" r="1.1" fill="#0a2a2a"/>
<line x1="380.4" y1="162.3" x2="380.4" y2="180.2" stroke="#777" stroke-width="0.9"/>
<line x1="377.4" y1="162.3" x2="383.4" y2="162.3" stroke="#666" stroke-width="0.9"/>
<line x1="377.4" y1="180.2" x2="383.4" y2="180.2" stroke="#666" stroke-width="0.9"/>
<rect x="374.15" y="170.2" width="12.5" height="10.0" fill="#c2eeee" stroke="#3a4646" stroke-width="1.2"/>
<line x1="374.15" y1="179.3" x2="386.65" y2="179.3" stroke="#3a4646" stroke-width="1.2"/>
<circle cx="380.4" cy="175.0" r="1.1" fill="#0a2a2a"/>
<line x1="404.3" y1="167.0" x2="404.3" y2="186.6" stroke="#777" stroke-width="0.9"/>
<line x1="401.3" y1="167.0" x2="407.3" y2="167.0" stroke="#666" stroke-width="0.9"/>
<line x1="401.3" y1="186.6" x2="407.3" y2="186.6" stroke="#666" stroke-width="0.9"/>
<rect x="398.05" y="170.5" width="12.5" height="9.199999999999989" fill="#c8eff0" stroke="#3a4646" stroke-width="1.2"/>
<line x1="398.05" y1="177.6" x2="410.55" y2="177.6" stroke="#3a4646" stroke-width="1.2"/>
<circle cx="404.3" cy="174.7" r="1.1" fill="#0a2a2a"/>
<line x1="428.7" y1="172.2" x2="428.7" y2="204.8" stroke="#777" stroke-width="0.9"/>
<line x1="425.7" y1="172.2" x2="431.7" y2="172.2" stroke="#666" stroke-width="0.9"/>
<line x1="425.7" y1="204.8" x2="431.7" y2="204.8" stroke="#666" stroke-width="0.9"/>
<rect x="422.45" y="186.3" width="12.5" height="16.69999999999999" fill="#c0ecee" stroke="#3a4646" stroke-width="1.2"/>
<line x1="422.45" y1="195.6" x2="434.95" y2="195.6" stroke="#3a4646" stroke-width="1.2"/>
<circle cx="428.7" cy="193.2" r="1.1" fill="#0a2a2a"/>
<line x1="451.2" y1="146.0" x2="451.2" y2="182.0" stroke="#777" stroke-width="0.9"/>
<line x1="448.2" y1="146.0" x2="454.2" y2="146.0" stroke="#666" stroke-width="0.9"/>
<line x1="448.2" y1="182.0" x2="454.2" y2="182.0" stroke="#666" stroke-width="0.9"/>
<rect x="444.95" y="152.2" width="12.5" height="22.200000000000017" fill="#86dcdc" stroke="#3a4646" stroke-width="1.2"/>
<line x1="444.95" y1="162.3" x2="457.45" y2="162.3" stroke="#3a4646" stroke-width="1.2"/>
<circle cx="451.2" cy="163.3" r="1.1" fill="#0a2a2a"/>
<rect x="403" y="155.7" width="2.4" height="2.4" fill="#fff" stroke="#666" stroke-width="0.6"/>
<path d="M403.9,150.8 V148.5 H428.4 V150.8" fill="none" stroke="#111" stroke-width="1.1"/>
<text x="415.50" y="145.00" font-size="6.3" font-weight="bold" text-anchor="middle" fill="#111" >p=0.007</text>
</svg>
</body></html>
